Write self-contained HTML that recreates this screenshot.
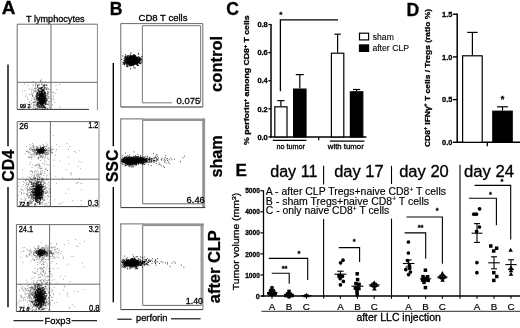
<!DOCTYPE html>
<html lang="en"><head><meta charset="utf-8"><title>Figure</title>
<style>
html,body{margin:0;padding:0;background:#fff;}
svg{display:block;font-family:"Liberation Sans", Arial, sans-serif;}
</style></head>
<body>
<svg width="520" height="328" viewBox="0 0 520 328">
<rect width="520" height="328" fill="#fff"/>
<text x="1.8" y="14.3" font-size="17.6" stroke="#000" stroke-width="0.3" font-weight="bold" textLength="13.7" lengthAdjust="spacingAndGlyphs" >A</text>
<text x="26" y="21.6" font-size="9.1" stroke="#000" stroke-width="0.3" textLength="58.6" lengthAdjust="spacingAndGlyphs" >T lymphocytes</text>
<line x1="17.2" y1="24.2" x2="97.4" y2="24.2" stroke="#6a6a6a" stroke-width="1.0" />
<line x1="17.2" y1="24.2" x2="17.2" y2="109.6" stroke="#6a6a6a" stroke-width="1.0" />
<line x1="97.4" y1="24.2" x2="97.4" y2="110.4" stroke="#6a6a6a" stroke-width="0.8" />
<line x1="17.2" y1="109.4" x2="89" y2="109.4" stroke="#333" stroke-width="1.0" />
<line x1="51" y1="24.2" x2="51" y2="109.6" stroke="#6a6a6a" stroke-width="1.0" />
<line x1="17.2" y1="82.3" x2="97.4" y2="82.3" stroke="#6a6a6a" stroke-width="1.0" />
<path d="M40.7 101.3h0.9M40.8 97.0h0.9M39.2 97.5h0.9M43.9 100.8h0.9M43.7 99.9h0.9M42.2 99.6h0.9M37.5 103.0h0.9M42.5 101.2h0.9M37.4 89.5h0.9M39.3 96.2h0.9M42.0 98.4h0.9M42.5 95.3h0.9M42.0 100.6h0.9M39.8 107.5h0.9M42.6 104.8h0.9M39.9 94.8h0.9M40.5 98.0h0.9M42.8 99.9h0.9M40.3 93.6h0.9M40.1 104.9h0.9M39.4 99.9h0.9M42.3 90.9h0.9M41.4 105.4h0.9M36.7 96.9h0.9M41.1 94.4h0.9M42.4 98.3h0.9M37.9 102.9h0.9M42.8 103.5h0.9M44.6 100.5h0.9M41.6 91.8h0.9M42.7 95.4h0.9M40.3 92.0h0.9M39.1 95.8h0.9M44.3 88.0h0.9M37.9 99.8h0.9M44.6 101.6h0.9M36.9 85.5h0.9M42.1 94.8h0.9M38.7 103.7h0.9M43.8 99.4h0.9M41.9 100.9h0.9M45.0 101.8h0.9M42.5 101.4h0.9M37.7 105.3h0.9M43.5 101.4h0.9M36.8 95.3h0.9M43.2 89.2h0.9M40.9 103.9h0.9M38.3 107.0h0.9M42.6 97.8h0.9M42.0 102.0h0.9M41.6 104.6h0.9M39.8 96.4h0.9M43.7 98.7h0.9M39.3 103.5h0.9M44.7 96.3h0.9M38.1 97.9h0.9M41.0 97.1h0.9M44.5 93.3h0.9M44.2 92.0h0.9M39.5 101.9h0.9M43.9 103.1h0.9M42.1 99.3h0.9M41.7 101.6h0.9M40.9 100.0h0.9M42.6 98.6h0.9M43.1 101.5h0.9M45.9 100.3h0.9M40.3 96.7h0.9M41.3 103.4h0.9M40.5 100.6h0.9M45.5 85.3h0.9M38.7 99.9h0.9M42.2 99.8h0.9M40.3 102.0h0.9M41.9 95.9h0.9M46.9 100.4h0.9M40.0 98.1h0.9M40.8 98.3h0.9M35.0 96.1h0.9M43.6 92.5h0.9M41.1 103.6h0.9M43.3 106.4h0.9M37.4 96.8h0.9M40.5 101.8h0.9M43.8 84.6h0.9M43.8 91.1h0.9M42.9 90.8h0.9M41.7 104.8h0.9M41.0 99.6h0.9M43.1 99.3h0.9M41.1 106.6h0.9M43.7 97.1h0.9M47.6 92.6h0.9M43.4 97.2h0.9M41.6 102.3h0.9M41.8 101.9h0.9M37.8 90.8h0.9M42.7 93.6h0.9M38.9 91.0h0.9M44.2 102.5h0.9M44.7 93.7h0.9M41.3 92.7h0.9M43.1 106.9h0.9M39.3 106.7h0.9M43.6 97.7h0.9M36.8 105.9h0.9M41.1 95.5h0.9M42.2 100.7h0.9M44.7 93.3h0.9M43.9 106.3h0.9M44.6 97.7h0.9M39.6 103.9h0.9M41.6 99.2h0.9M44.6 97.2h0.9M36.0 96.6h0.9M37.0 102.9h0.9M42.0 95.4h0.9M41.3 102.9h0.9M41.5 105.5h0.9M41.2 104.0h0.9M44.7 107.0h0.9M39.8 103.2h0.9M37.0 93.0h0.9M36.8 104.2h0.9M38.5 98.5h0.9M40.9 98.5h0.9M39.9 99.8h0.9M45.4 98.8h0.9M42.5 103.8h0.9M40.8 92.0h0.9M40.0 104.2h0.9M37.5 95.5h0.9M43.6 102.7h0.9M41.3 102.8h0.9M41.7 92.5h0.9M37.7 95.3h0.9M43.4 95.7h0.9M39.2 94.6h0.9M37.8 98.0h0.9M38.6 100.5h0.9M35.9 100.3h0.9M39.8 88.5h0.9M43.0 97.2h0.9M36.2 94.0h0.9M42.0 96.2h0.9M43.1 102.5h0.9M42.8 100.3h0.9M44.4 102.0h0.9M42.3 87.8h0.9M43.4 105.4h0.9M40.6 96.2h0.9M45.8 89.5h0.9M39.2 102.2h0.9M45.6 98.0h0.9M42.6 103.3h0.9M39.2 98.1h0.9M42.0 102.9h0.9M41.2 97.6h0.9M39.0 96.7h0.9M43.4 99.1h0.9M39.3 94.2h0.9M47.4 104.5h0.9M42.8 85.1h0.9M42.7 101.1h0.9M45.2 100.8h0.9M41.1 101.3h0.9M36.8 104.0h0.9M42.0 94.9h0.9M44.3 108.0h0.9M38.1 95.1h0.9M42.0 99.6h0.9M40.4 93.5h0.9M46.2 104.0h0.9M38.6 91.6h0.9M45.2 103.7h0.9M45.5 102.8h0.9M39.3 100.0h0.9M36.3 94.7h0.9M41.2 101.3h0.9M39.6 98.0h0.9M42.4 100.6h0.9M42.8 99.7h0.9M40.6 102.7h0.9M41.4 94.3h0.9M39.9 98.6h0.9M41.0 99.4h0.9M41.3 99.5h0.9M41.0 92.1h0.9M42.3 104.1h0.9M42.3 97.6h0.9M42.3 93.6h0.9M36.9 98.9h0.9M39.2 102.4h0.9M38.8 84.9h0.9M38.9 106.8h0.9M40.4 91.5h0.9M39.5 101.3h0.9M42.4 99.5h0.9M44.7 102.3h0.9M41.3 101.7h0.9M45.1 103.7h0.9M43.7 93.0h0.9M41.0 102.4h0.9M40.6 104.2h0.9M42.7 103.3h0.9M44.2 97.5h0.9M40.5 103.1h0.9M43.6 98.6h0.9M38.6 99.6h0.9M42.1 104.5h0.9M43.1 98.7h0.9M43.3 101.4h0.9M41.8 98.9h0.9M40.7 102.2h0.9M38.9 95.3h0.9M41.3 91.0h0.9M40.3 88.2h0.9M39.7 101.6h0.9M42.6 98.3h0.9M40.8 91.2h0.9M45.5 101.3h0.9M43.8 94.0h0.9M40.9 89.1h0.9M43.1 103.5h0.9M36.9 98.3h0.9M42.7 89.4h0.9M37.1 93.1h0.9M39.9 91.3h0.9M41.4 99.9h0.9M42.8 102.3h0.9M44.8 104.7h0.9M38.3 96.0h0.9M38.9 93.0h0.9M41.1 98.6h0.9M42.4 90.3h0.9M38.5 98.5h0.9M40.8 97.0h0.9M41.2 94.6h0.9M42.9 100.4h0.9M41.1 95.1h0.9M40.9 84.4h0.9M39.0 98.8h0.9M37.8 99.6h0.9M41.6 91.4h0.9M40.7 97.0h0.9M42.4 101.8h0.9M41.2 94.2h0.9M41.0 98.3h0.9M43.0 100.1h0.9M39.6 91.6h0.9M40.4 94.7h0.9M38.7 98.0h0.9M40.2 99.1h0.9M42.5 96.5h0.9M46.6 96.9h0.9M43.8 99.2h0.9M43.9 86.2h0.9M39.6 99.9h0.9M42.0 105.3h0.9M43.1 103.5h0.9M42.5 97.8h0.9M42.5 93.0h0.9M44.0 93.3h0.9M40.8 98.7h0.9M44.0 98.7h0.9M39.4 99.9h0.9M42.6 102.3h0.9M39.5 107.7h0.9M45.1 98.7h0.9M41.9 96.4h0.9M44.6 94.9h0.9M42.9 96.1h0.9M39.7 102.3h0.9M44.4 98.5h0.9M39.7 102.8h0.9M41.2 100.2h0.9M44.8 104.5h0.9M41.3 102.7h0.9M39.8 98.4h0.9M37.3 107.9h0.9M44.4 92.3h0.9M37.8 90.2h0.9M44.0 96.2h0.9M41.2 97.0h0.9M41.0 92.9h0.9M41.4 91.1h0.9M41.1 100.2h0.9M42.4 97.4h0.9M39.2 99.4h0.9M40.2 106.7h0.9M43.1 98.0h0.9M40.2 94.9h0.9M39.1 96.8h0.9M42.0 101.3h0.9M42.6 109.5h0.9M39.7 98.7h0.9M47.7 88.9h0.9M40.1 99.5h0.9M41.7 100.7h0.9M40.8 100.5h0.9M41.4 102.6h0.9M36.9 94.0h0.9M41.3 93.2h0.9M38.9 101.9h0.9M39.8 101.9h0.9M43.0 100.2h0.9M42.5 98.1h0.9M38.1 98.4h0.9M42.3 95.8h0.9M41.1 102.5h0.9M39.3 101.9h0.9M45.6 95.7h0.9M41.6 97.8h0.9M44.8 100.2h0.9M43.4 95.0h0.9M41.3 98.5h0.9M37.2 106.1h0.9M43.4 89.5h0.9M43.0 97.9h0.9M42.3 100.5h0.9M37.9 97.5h0.9M44.7 95.6h0.9M38.9 91.5h0.9M38.5 100.3h0.9M45.2 100.8h0.9M40.1 95.1h0.9M42.5 101.5h0.9M39.0 92.5h0.9M42.0 99.9h0.9M38.3 97.5h0.9M40.1 101.0h0.9M41.0 98.2h0.9M40.5 104.1h0.9M44.5 96.7h0.9M43.2 94.7h0.9M41.5 102.5h0.9M44.8 96.6h0.9M41.1 99.6h0.9M37.9 98.7h0.9M39.7 100.5h0.9M38.7 88.3h0.9M41.4 100.0h0.9M40.0 103.2h0.9M40.7 95.5h0.9M42.4 90.4h0.9M39.7 98.5h0.9M43.3 97.8h0.9M42.0 95.2h0.9M42.0 107.3h0.9M39.8 98.7h0.9M41.7 103.9h0.9M38.5 87.7h0.9M42.7 102.7h0.9M41.8 99.9h0.9M43.4 100.5h0.9M45.1 92.2h0.9M40.4 80.7h0.9M43.2 96.7h0.9M41.3 97.3h0.9M40.2 94.2h0.9M39.9 101.9h0.9M41.4 98.9h0.9M40.9 103.4h0.9M42.4 97.9h0.9M42.8 97.8h0.9M38.6 106.2h0.9M42.4 93.6h0.9M43.8 100.4h0.9M37.7 107.0h0.9M42.1 103.2h0.9M41.8 97.8h0.9M37.7 103.7h0.9M41.4 97.1h0.9M42.1 99.0h0.9M42.9 96.7h0.9M41.2 87.5h0.9M40.3 102.1h0.9M44.4 96.7h0.9M41.0 106.8h0.9M40.6 102.4h0.9M45.2 98.8h0.9M44.1 94.9h0.9M41.8 98.2h0.9M41.6 104.5h0.9M46.8 95.1h0.9M40.0 101.2h0.9M38.9 101.2h0.9M42.6 97.2h0.9M42.5 90.5h0.9M43.0 90.6h0.9M39.7 95.7h0.9M40.4 103.1h0.9M41.5 96.5h0.9M42.6 106.8h0.9M41.3 100.5h0.9M44.2 100.0h0.9M46.4 88.3h0.9M41.2 100.8h0.9M43.5 102.1h0.9M40.7 93.1h0.9M41.5 104.0h0.9M38.8 93.3h0.9M41.2 88.5h0.9M40.7 96.3h0.9M42.3 95.0h0.9M39.3 96.6h0.9M41.2 95.1h0.9M41.3 102.5h0.9M44.0 107.5h0.9M39.5 96.4h0.9M35.6 108.5h0.9M39.6 98.4h0.9M42.5 91.5h0.9M42.4 98.5h0.9M37.1 100.1h0.9M44.0 88.9h0.9M43.2 99.7h0.9M42.4 100.9h0.9M44.3 97.4h0.9M43.3 96.5h0.9M43.0 94.4h0.9M41.1 107.6h0.9M42.3 97.8h0.9M38.7 94.5h0.9M41.7 103.5h0.9M42.3 101.3h0.9M41.2 105.6h0.9M40.4 95.7h0.9M43.3 98.9h0.9M40.7 95.6h0.9M40.7 101.8h0.9M42.1 92.3h0.9M42.3 99.5h0.9M39.0 102.6h0.9M40.7 96.9h0.9M43.1 105.5h0.9M39.7 100.9h0.9M40.2 104.8h0.9M39.8 102.8h0.9M46.4 85.4h0.9M40.3 101.2h0.9M41.1 95.1h0.9M46.2 99.0h0.9M37.5 103.0h0.9M37.3 104.6h0.9M40.0 99.4h0.9M44.2 99.2h0.9M38.1 89.8h0.9M44.0 102.5h0.9M39.4 103.1h0.9M42.4 102.0h0.9M36.1 97.0h0.9M43.4 102.4h0.9M43.3 85.8h0.9M41.7 101.2h0.9M47.2 93.6h0.9M40.5 98.8h0.9M43.3 96.3h0.9M43.9 94.5h0.9M41.9 95.9h0.9M41.7 95.0h0.9M37.6 104.3h0.9M42.0 95.7h0.9M41.8 103.7h0.9M39.1 98.0h0.9M42.5 101.3h0.9M40.5 87.6h0.9M44.2 100.3h0.9M41.3 97.2h0.9M41.9 96.4h0.9M38.9 94.8h0.9M39.9 95.4h0.9M38.6 101.9h0.9M38.3 102.0h0.9M39.0 100.4h0.9M44.5 99.7h0.9M39.6 98.9h0.9M41.6 89.6h0.9M39.9 99.4h0.9M40.2 99.0h0.9M43.0 102.6h0.9M43.4 101.7h0.9M40.6 98.5h0.9M40.7 97.0h0.9M40.9 89.6h0.9M40.5 98.5h0.9M39.1 98.5h0.9M42.5 97.7h0.9M46.1 85.0h0.9M40.8 89.1h0.9M35.5 99.3h0.9M42.5 97.0h0.9M42.6 86.9h0.9M43.3 100.5h0.9M41.4 95.5h0.9M42.8 96.1h0.9M41.8 95.9h0.9M36.1 98.4h0.9M41.8 102.5h0.9M39.3 98.4h0.9M42.7 99.4h0.9M44.2 109.0h0.9M39.2 88.6h0.9M43.3 106.6h0.9M43.4 102.8h0.9M39.9 94.9h0.9M43.3 93.9h0.9M37.1 93.4h0.9M47.0 108.6h0.9M39.7 94.8h0.9M41.8 94.7h0.9M44.3 98.2h0.9M38.8 105.4h0.9M40.0 99.8h0.9M41.3 97.0h0.9M42.0 95.0h0.9M37.1 87.1h0.9M38.4 94.7h0.9M41.2 98.9h0.9M42.6 99.2h0.9M39.5 94.9h0.9M36.4 97.7h0.9M42.4 101.4h0.9M41.0 97.7h0.9M43.5 98.7h0.9M43.0 101.6h0.9M41.8 105.4h0.9M40.0 96.7h0.9M39.4 94.5h0.9M44.9 107.7h0.9M41.4 101.6h0.9M44.0 102.8h0.9M44.1 92.0h0.9M39.8 101.0h0.9M44.6 99.1h0.9M39.3 96.8h0.9M39.8 94.1h0.9M44.8 95.3h0.9M44.0 100.3h0.9M39.9 100.7h0.9M45.0 101.8h0.9M44.2 99.1h0.9M42.5 97.6h0.9M42.3 105.4h0.9M38.0 98.3h0.9M41.9 95.6h0.9M40.6 102.7h0.9M45.9 101.9h0.9M42.1 90.5h0.9M45.7 99.0h0.9M41.2 92.8h0.9M41.2 92.9h0.9M41.5 101.0h0.9M41.4 100.1h0.9M39.3 106.0h0.9M39.8 89.1h0.9M40.9 94.6h0.9M39.0 96.8h0.9M42.0 92.5h0.9" stroke="#000" stroke-width="0.9" stroke-opacity="0.85" fill="none"/>
<path d="M39.3 107.7h0.9M43.3 97.0h0.9M40.6 97.2h0.9M39.8 103.0h0.9M39.6 81.6h0.9M39.9 92.0h0.9M43.1 93.8h0.9M35.0 90.4h0.9M33.2 81.7h0.9M31.0 100.5h0.9M36.9 85.3h0.9M32.9 102.2h0.9M36.3 95.5h0.9M41.6 107.2h0.9M49.3 105.0h0.9M40.7 99.3h0.9M48.7 107.7h0.9M38.5 101.1h0.9M41.4 98.4h0.9M37.6 89.0h0.9M37.4 87.5h0.9M45.9 101.6h0.9M34.2 107.5h0.9M44.3 85.0h0.9M48.8 103.5h0.9M49.9 89.6h0.9M42.5 100.9h0.9M41.0 99.2h0.9M45.1 87.8h0.9M34.0 88.5h0.9M37.3 93.9h0.9M41.8 99.8h0.9M40.2 93.4h0.9M37.9 104.5h0.9M43.7 98.7h0.9M38.5 108.6h0.9M37.1 102.4h0.9M45.5 96.2h0.9M44.0 90.4h0.9M44.9 99.4h0.9M32.4 102.6h0.9M35.7 106.7h0.9M36.7 96.9h0.9M41.4 95.7h0.9M41.2 94.2h0.9M43.2 98.0h0.9M41.0 79.3h0.9M45.6 98.2h0.9M31.4 98.6h0.9M42.2 105.3h0.9M34.8 108.5h0.9M39.3 102.6h0.9M38.2 90.4h0.9M45.3 104.2h0.9M47.4 103.8h0.9M37.2 86.7h0.9M36.9 93.4h0.9M36.1 102.0h0.9M41.6 96.2h0.9M40.8 97.0h0.9M41.0 103.1h0.9M44.6 93.3h0.9M32.8 107.7h0.9M40.5 105.5h0.9M32.1 95.8h0.9M40.1 88.2h0.9M37.5 102.9h0.9M45.2 108.8h0.9M35.9 88.5h0.9M42.5 104.4h0.9M40.9 89.2h0.9M43.8 103.4h0.9M42.7 94.7h0.9M41.5 103.4h0.9M37.3 85.5h0.9M41.6 101.3h0.9M40.1 104.0h0.9M37.2 97.4h0.9M38.5 101.9h0.9M47.7 96.3h0.9M49.9 108.4h0.9M43.8 102.0h0.9M48.5 96.8h0.9M39.5 90.8h0.9M42.3 107.1h0.9M42.6 100.9h0.9M39.0 99.2h0.9M33.2 105.1h0.9M38.0 90.5h0.9M36.4 92.4h0.9M44.1 105.2h0.9M33.5 104.3h0.9M44.3 94.1h0.9M32.9 92.9h0.9M37.0 100.3h0.9M38.3 84.2h0.9M41.1 87.6h0.9M44.3 89.8h0.9M36.7 92.2h0.9M37.4 106.8h0.9M44.1 102.1h0.9M41.5 87.5h0.9M37.5 94.2h0.9M35.3 101.5h0.9M36.4 93.2h0.9M35.0 84.0h0.9M42.9 107.0h0.9M40.8 91.4h0.9M27.0 99.2h0.9M45.8 100.0h0.9M44.5 108.1h0.9M45.4 95.0h0.9M45.1 103.3h0.9M32.6 95.2h0.9M33.2 97.3h0.9M42.8 90.7h0.9M30.1 106.8h0.9M41.8 108.0h0.9M33.6 105.2h0.9M39.0 99.8h0.9M39.3 104.8h0.9M45.0 98.6h0.9M33.5 103.0h0.9M37.7 102.3h0.9M41.3 109.0h0.9M45.5 94.9h0.9M37.4 100.9h0.9M45.7 106.5h0.9M42.5 89.0h0.9M33.9 99.7h0.9M35.9 105.7h0.9M43.7 86.6h0.9M36.1 99.1h0.9M37.6 96.9h0.9M42.3 92.5h0.9M42.2 93.7h0.9M37.4 101.7h0.9M37.2 100.0h0.9M47.7 98.2h0.9M39.3 103.0h0.9M38.2 105.4h0.9M33.8 102.2h0.9M37.5 92.6h0.9M48.5 92.2h0.9M48.4 102.5h0.9M47.0 91.4h0.9M45.8 107.9h0.9M39.4 97.1h0.9M51.8 99.2h0.9M38.0 93.7h0.9M42.1 100.2h0.9M38.4 101.2h0.9M47.0 91.2h0.9M33.5 90.5h0.9M35.0 85.4h0.9M42.2 85.4h0.9M42.4 107.9h0.9M32.2 95.8h0.9M30.8 103.3h0.9M36.5 96.2h0.9M40.3 101.7h0.9M38.3 98.1h0.9M37.4 98.8h0.9M34.4 98.4h0.9M30.7 94.7h0.9M49.2 98.5h0.9M34.0 99.7h0.9M35.3 86.8h0.9M36.5 103.0h0.9M41.8 97.3h0.9M35.6 90.7h0.9M46.5 99.7h0.9M35.4 83.6h0.9M34.5 97.5h0.9M41.0 96.9h0.9M38.7 88.7h0.9M35.0 109.5h0.9M36.4 103.7h0.9M31.9 96.1h0.9M41.3 105.0h0.9M34.6 102.0h0.9M41.9 93.0h0.9M42.3 91.9h0.9M36.2 97.9h0.9M27.0 97.3h0.9M35.2 88.1h0.9M38.0 103.2h0.9M38.1 106.6h0.9M34.4 89.1h0.9M47.4 100.7h0.9M44.5 92.4h0.9M43.9 99.8h0.9M43.1 98.2h0.9M45.8 93.6h0.9M35.4 88.0h0.9M45.6 93.0h0.9M35.0 91.6h0.9M37.9 89.4h0.9M38.6 93.7h0.9M37.4 91.5h0.9M40.2 94.9h0.9M40.6 99.7h0.9M41.6 83.1h0.9M37.4 92.6h0.9M43.7 87.3h0.9M36.6 96.0h0.9M38.4 104.7h0.9M37.9 104.6h0.9M33.0 85.7h0.9M45.9 101.0h0.9M42.3 98.8h0.9M42.3 89.7h0.9M44.6 94.4h0.9M44.7 98.6h0.9M30.5 89.2h0.9M45.4 97.1h0.9M38.1 99.6h0.9M38.0 94.3h0.9M40.5 99.0h0.9M47.3 98.3h0.9M48.2 105.2h0.9M40.6 98.9h0.9M39.3 93.0h0.9M39.7 93.6h0.9M47.9 101.6h0.9M37.9 85.0h0.9M39.7 95.2h0.9M34.8 90.3h0.9M29.2 101.9h0.9M39.9 97.0h0.9M46.9 98.9h0.9M40.8 95.5h0.9M37.1 108.2h0.9M38.3 98.2h0.9M35.8 104.6h0.9M33.3 101.8h0.9M45.3 107.6h0.9M35.5 105.4h0.9M36.6 92.9h0.9M33.6 105.9h0.9M47.9 94.0h0.9M36.4 95.7h0.9M52.0 104.8h0.9M37.4 85.8h0.9M36.8 106.1h0.9M49.0 96.2h0.9M36.7 94.5h0.9M30.9 104.2h0.9M34.8 105.2h0.9M31.8 89.4h0.9M41.4 92.8h0.9M43.8 98.1h0.9M34.4 102.2h0.9M44.0 85.0h0.9M48.8 101.4h0.9M43.6 85.4h0.9M36.5 95.6h0.9M45.2 88.1h0.9M35.8 84.2h0.9M38.8 100.4h0.9M31.9 94.0h0.9M42.4 108.8h0.9M43.2 95.9h0.9M34.3 91.6h0.9M36.8 99.0h0.9M39.8 109.3h0.9M41.4 90.7h0.9M47.4 104.5h0.9M40.5 93.1h0.9M31.0 91.0h0.9M44.4 92.5h0.9M33.7 99.3h0.9M41.2 102.1h0.9M43.1 107.6h0.9M36.0 104.7h0.9M35.3 102.7h0.9M40.9 99.7h0.9M44.6 97.9h0.9M45.3 104.0h0.9M40.7 94.1h0.9M36.4 94.4h0.9M39.0 97.8h0.9M54.3 102.3h0.9M43.7 92.1h0.9M36.6 95.8h0.9M40.9 91.0h0.9M47.7 94.2h0.9M45.2 82.1h0.9M40.0 99.9h0.9M40.9 102.1h0.9M41.3 99.1h0.9M30.9 93.1h0.9M28.8 102.3h0.9M41.5 96.7h0.9M36.1 94.0h0.9M39.7 106.8h0.9M32.4 84.8h0.9M37.7 92.1h0.9M37.3 99.3h0.9M54.5 93.5h0.9M40.2 99.9h0.9M39.8 104.3h0.9M48.5 89.5h0.9M40.8 96.2h0.9M41.7 87.6h0.9M31.6 82.2h0.9M42.5 99.3h0.9M40.4 81.9h0.9M38.2 92.9h0.9M33.2 91.8h0.9M43.3 101.7h0.9M39.9 101.5h0.9M37.1 98.5h0.9M40.2 101.8h0.9M39.7 97.0h0.9M39.4 93.6h0.9M50.7 101.5h0.9M46.7 87.4h0.9M43.3 103.7h0.9M49.0 106.9h0.9M53.4 99.7h0.9M37.0 92.5h0.9M52.6 95.9h0.9M44.4 87.6h0.9M27.3 85.4h0.9M48.0 97.8h0.9M24.1 105.8h0.9M29.2 94.3h0.9M24.5 90.8h0.9M53.3 92.4h0.9M25.0 96.3h0.9M31.4 106.6h0.9M22.8 108.5h0.9M20.4 106.4h0.9M46.1 89.3h0.9M38.1 91.2h0.9M28.8 89.0h0.9M33.3 108.8h0.9M59.9 107.1h0.9M22.1 91.2h0.9M55.6 85.4h0.9M48.5 91.3h0.9M59.1 84.4h0.9M51.9 92.5h0.9M23.9 84.0h0.9M53.0 97.2h0.9M25.8 94.9h0.9M56.3 89.5h0.9M42.0 87.5h0.9M25.6 103.3h0.9" stroke="#000" stroke-width="0.9" stroke-opacity="0.45" fill="none"/>
<text x="20" y="107.7" font-size="5.4" stroke="#000" stroke-width="0.3" >99 2</text>
<line x1="17.2" y1="121.6" x2="99" y2="121.6" stroke="#6a6a6a" stroke-width="1.0" />
<line x1="17.2" y1="121.6" x2="17.2" y2="206.6" stroke="#6a6a6a" stroke-width="1.0" />
<line x1="99" y1="121.6" x2="99" y2="207.6" stroke="#6a6a6a" stroke-width="0.8" />
<line x1="17.2" y1="206.6" x2="88" y2="206.6" stroke="#333" stroke-width="1.0" />
<line x1="88" y1="206.6" x2="99" y2="206.6" stroke="#999" stroke-width="0.8" />
<line x1="50.4" y1="121.6" x2="50.4" y2="206.6" stroke="#6a6a6a" stroke-width="1.0" />
<line x1="17.2" y1="179.2" x2="99" y2="179.2" stroke="#6a6a6a" stroke-width="1.0" />
<path d="M40.2 149.8h0.9M41.5 151.1h0.9M38.4 149.7h0.9M40.4 151.8h0.9M37.7 149.3h0.9M41.8 149.0h0.9M40.9 151.3h0.9M40.3 149.3h0.9M40.5 150.3h0.9M41.4 149.5h0.9M43.2 148.3h0.9M40.2 150.8h0.9M42.9 149.9h0.9M41.9 149.9h0.9M42.4 153.4h0.9M39.6 151.5h0.9M38.4 152.3h0.9M43.5 150.9h0.9M37.9 151.4h0.9M43.4 152.4h0.9M42.6 148.1h0.9M39.0 152.9h0.9M37.7 152.5h0.9M45.1 151.9h0.9M43.3 150.3h0.9M37.7 150.6h0.9M40.1 150.7h0.9M42.3 150.6h0.9M41.1 151.4h0.9M40.6 153.6h0.9M41.7 150.9h0.9M40.1 149.9h0.9M43.8 151.0h0.9M38.0 150.0h0.9M40.3 150.1h0.9M43.2 149.1h0.9M41.8 151.0h0.9M37.8 150.9h0.9M40.4 151.6h0.9M39.5 151.3h0.9M36.6 149.2h0.9M42.5 152.4h0.9M40.6 149.9h0.9M43.2 147.7h0.9M38.7 151.8h0.9M42.2 149.3h0.9M36.1 153.0h0.9M41.0 149.5h0.9M40.7 152.2h0.9M34.4 152.5h0.9M42.4 147.7h0.9M42.5 148.1h0.9M43.3 151.4h0.9M46.0 149.9h0.9M40.6 152.4h0.9M39.1 149.7h0.9M39.7 150.7h0.9M38.0 151.5h0.9M41.9 150.9h0.9M44.7 150.3h0.9M43.7 150.0h0.9M42.4 147.9h0.9M41.1 150.5h0.9M39.4 149.9h0.9M39.8 149.7h0.9M35.3 149.9h0.9M39.3 150.0h0.9M38.1 150.6h0.9M42.5 150.4h0.9M39.4 152.8h0.9M42.9 152.2h0.9M43.4 150.3h0.9M40.3 152.5h0.9M39.3 150.6h0.9M41.5 151.4h0.9M39.9 152.3h0.9M40.2 151.9h0.9M43.2 151.8h0.9M42.4 149.1h0.9M37.5 149.9h0.9M41.7 153.1h0.9M37.7 151.3h0.9M38.6 149.7h0.9M39.9 151.8h0.9M41.1 152.6h0.9M38.2 152.1h0.9M42.8 150.9h0.9M41.7 150.0h0.9M38.0 150.2h0.9M39.1 155.1h0.9M39.4 153.3h0.9M41.1 151.3h0.9M42.4 149.6h0.9M42.8 151.4h0.9M37.0 151.7h0.9M41.9 151.5h0.9M44.4 150.2h0.9M41.8 151.9h0.9M38.4 152.6h0.9M37.1 148.8h0.9M41.9 149.2h0.9M40.3 148.3h0.9M40.8 149.1h0.9M41.4 148.5h0.9M41.7 150.4h0.9M40.8 150.7h0.9M40.9 148.8h0.9M34.4 150.9h0.9M38.4 150.1h0.9M41.6 147.8h0.9M38.8 149.9h0.9M38.1 151.3h0.9M40.3 149.6h0.9M38.2 152.0h0.9M39.0 151.7h0.9M41.7 148.0h0.9M38.0 150.8h0.9M41.4 152.0h0.9M42.5 152.4h0.9M39.7 150.5h0.9M42.5 150.2h0.9M43.1 148.4h0.9M42.2 150.5h0.9M35.9 152.3h0.9M41.3 150.8h0.9M38.0 150.1h0.9M44.2 149.6h0.9M32.3 149.5h0.9M37.7 150.6h0.9M39.7 149.4h0.9M38.6 152.4h0.9M37.1 153.7h0.9M39.3 149.2h0.9M42.5 151.6h0.9M38.1 151.9h0.9M36.2 149.4h0.9M43.3 150.4h0.9M37.5 151.6h0.9M42.8 150.8h0.9M36.3 150.3h0.9M41.6 152.0h0.9M45.0 150.4h0.9M39.4 150.7h0.9M43.5 149.4h0.9M43.7 146.7h0.9M42.5 149.8h0.9M41.7 151.8h0.9M37.8 150.7h0.9M41.2 151.7h0.9M38.4 149.3h0.9M36.0 154.6h0.9M40.1 150.5h0.9M37.0 152.2h0.9M39.3 153.0h0.9M42.6 150.8h0.9M42.3 149.1h0.9M39.8 149.9h0.9M37.6 150.8h0.9M40.3 153.0h0.9M32.6 149.8h0.9M38.4 150.1h0.9M41.6 151.4h0.9M40.7 150.1h0.9M41.8 151.3h0.9M36.2 150.4h0.9M37.3 149.0h0.9M41.0 150.9h0.9M40.9 149.5h0.9M40.1 149.4h0.9M41.5 151.8h0.9M42.4 197.8h0.9M35.7 189.2h0.9M35.4 193.0h0.9M42.9 195.0h0.9M32.1 185.2h0.9M34.4 194.1h0.9M37.8 193.0h0.9M42.4 187.4h0.9M35.6 201.3h0.9M38.7 187.6h0.9M32.5 183.9h0.9M31.4 191.8h0.9M37.9 196.5h0.9M37.4 188.0h0.9M35.9 201.0h0.9M33.2 192.4h0.9M37.9 194.6h0.9M36.7 194.0h0.9M39.9 190.8h0.9M36.6 190.6h0.9M35.3 190.5h0.9M37.0 192.6h0.9M41.3 198.0h0.9M36.6 194.5h0.9M38.6 195.3h0.9M37.9 192.8h0.9M36.6 187.6h0.9M40.1 198.0h0.9M39.5 193.7h0.9M38.5 189.2h0.9M33.2 194.8h0.9M38.3 188.7h0.9M35.3 197.9h0.9M33.1 200.3h0.9M39.5 203.4h0.9M35.9 191.4h0.9M36.5 192.3h0.9M37.3 187.8h0.9M40.6 187.6h0.9M36.5 194.3h0.9M36.4 189.3h0.9M38.7 189.7h0.9M34.6 191.0h0.9M37.2 200.0h0.9M34.9 196.3h0.9M35.8 189.7h0.9M37.0 192.9h0.9M40.0 200.2h0.9M36.1 198.1h0.9M40.4 195.6h0.9M35.8 196.0h0.9M37.5 193.3h0.9M37.1 194.8h0.9M40.7 197.2h0.9M37.3 196.5h0.9M41.6 186.8h0.9M41.6 184.8h0.9M39.2 194.5h0.9M41.7 192.9h0.9M36.6 187.5h0.9M34.5 195.3h0.9M37.2 187.9h0.9M39.2 187.7h0.9M36.7 189.2h0.9M42.1 198.8h0.9M37.4 183.6h0.9M38.5 191.9h0.9M38.7 194.3h0.9M37.0 196.1h0.9M40.0 192.6h0.9M36.7 189.1h0.9M39.6 186.0h0.9M37.4 187.8h0.9M34.2 194.5h0.9M37.7 191.7h0.9M40.1 184.0h0.9M37.6 192.9h0.9M40.0 186.1h0.9M39.7 192.6h0.9M41.3 197.2h0.9M39.2 202.2h0.9M37.8 189.4h0.9M36.9 186.8h0.9M37.7 182.1h0.9M37.6 193.6h0.9M40.4 189.8h0.9M41.4 188.2h0.9M37.5 182.1h0.9M35.8 187.5h0.9M41.6 194.1h0.9M35.0 194.1h0.9M39.0 190.4h0.9M37.9 190.0h0.9M36.4 182.8h0.9M37.6 197.8h0.9M41.4 190.1h0.9M35.9 190.5h0.9M40.1 193.2h0.9M36.3 193.3h0.9M37.3 194.0h0.9M36.8 184.3h0.9M37.9 195.2h0.9M35.0 191.0h0.9M40.0 189.7h0.9M36.2 201.4h0.9M39.9 196.5h0.9M35.4 199.5h0.9M33.6 189.0h0.9M39.7 198.0h0.9M35.4 188.3h0.9M38.3 182.1h0.9M39.4 194.2h0.9M36.7 194.1h0.9M39.8 193.0h0.9M39.1 198.9h0.9M36.6 192.3h0.9M36.5 196.5h0.9M36.8 193.8h0.9M38.1 191.8h0.9M42.1 191.1h0.9M41.4 195.5h0.9M41.1 190.7h0.9M40.1 195.2h0.9M36.3 192.8h0.9M37.5 191.3h0.9M41.1 188.0h0.9M33.6 183.1h0.9M36.7 188.4h0.9M37.8 194.2h0.9M42.2 193.0h0.9M39.0 188.0h0.9M39.3 198.1h0.9M41.2 182.1h0.9M40.0 199.1h0.9M39.9 184.3h0.9M37.0 194.3h0.9M38.8 187.6h0.9M35.6 196.2h0.9M34.5 198.4h0.9M37.9 192.9h0.9M34.5 188.6h0.9M39.5 184.4h0.9M43.0 184.7h0.9M34.7 191.7h0.9M39.0 195.0h0.9M36.9 190.5h0.9M37.2 188.7h0.9M31.4 196.1h0.9M38.4 192.3h0.9M36.2 192.7h0.9M37.8 191.1h0.9M40.6 183.2h0.9M38.4 186.4h0.9M37.0 198.7h0.9M35.1 191.0h0.9M36.3 196.1h0.9M35.4 183.4h0.9M39.1 189.8h0.9M37.0 196.7h0.9M35.6 189.7h0.9M38.2 193.5h0.9M36.5 196.5h0.9M43.4 189.5h0.9M42.5 181.4h0.9M41.3 189.8h0.9M38.1 189.9h0.9M36.2 185.4h0.9M36.8 197.7h0.9M40.6 189.8h0.9M36.5 188.1h0.9M34.8 200.2h0.9M39.5 192.1h0.9M36.6 186.6h0.9M41.1 195.2h0.9M35.4 196.2h0.9M35.0 194.6h0.9M35.4 189.5h0.9M39.0 193.6h0.9M40.3 187.5h0.9M41.7 198.0h0.9M37.8 193.7h0.9M35.9 190.8h0.9M34.5 191.9h0.9M38.3 197.9h0.9M40.2 195.4h0.9M36.9 190.4h0.9M36.9 192.6h0.9M33.0 195.2h0.9M33.9 189.0h0.9M37.9 189.0h0.9M42.0 191.0h0.9M41.7 197.1h0.9M36.6 193.4h0.9M41.0 189.9h0.9M38.0 188.8h0.9M37.9 189.8h0.9M38.0 196.3h0.9M41.3 192.1h0.9M38.3 195.6h0.9M37.1 186.4h0.9M40.6 187.0h0.9M40.1 186.9h0.9M42.4 186.5h0.9M39.9 198.7h0.9M35.4 198.6h0.9M35.7 183.0h0.9M39.6 194.9h0.9M37.3 179.4h0.9M37.7 190.0h0.9M36.9 190.1h0.9M33.3 188.8h0.9M42.3 198.9h0.9M36.9 188.1h0.9M38.8 196.6h0.9M39.6 185.9h0.9M38.2 192.2h0.9M41.4 197.2h0.9M39.1 197.3h0.9M36.8 198.9h0.9M36.7 193.4h0.9M40.1 187.1h0.9M36.0 183.1h0.9M38.2 191.2h0.9M37.0 193.9h0.9M32.5 191.4h0.9M38.0 190.2h0.9M39.8 199.9h0.9M36.7 187.0h0.9M36.3 191.9h0.9M39.3 187.4h0.9M40.3 186.6h0.9M39.9 193.6h0.9M39.0 201.9h0.9M37.1 190.7h0.9M39.0 195.6h0.9M34.5 192.8h0.9M35.9 194.5h0.9M41.2 191.7h0.9M37.5 192.4h0.9M30.4 195.2h0.9M39.2 192.3h0.9M36.8 188.0h0.9M37.4 197.3h0.9M37.5 198.0h0.9M31.4 189.3h0.9M38.5 191.4h0.9M33.7 188.3h0.9M40.9 185.3h0.9M35.3 186.2h0.9M36.4 194.6h0.9M39.3 181.8h0.9M41.4 188.7h0.9M36.3 199.5h0.9M37.6 185.5h0.9M36.2 188.0h0.9M35.3 189.9h0.9M40.0 193.2h0.9M34.4 204.9h0.9M35.3 192.1h0.9M37.9 195.2h0.9M37.0 193.7h0.9M43.1 192.0h0.9M35.1 193.1h0.9M35.8 189.7h0.9M38.3 193.1h0.9M37.1 195.6h0.9M37.3 185.2h0.9M40.0 189.8h0.9M40.8 188.4h0.9M39.2 193.0h0.9M31.1 184.3h0.9M35.0 198.3h0.9M33.1 195.9h0.9M40.5 193.9h0.9M39.5 189.1h0.9M37.8 192.6h0.9M38.9 194.9h0.9M37.3 188.1h0.9M36.4 193.5h0.9M33.7 185.5h0.9M36.8 188.8h0.9M37.1 178.7h0.9M36.9 190.3h0.9M39.7 182.0h0.9M37.0 193.8h0.9M39.0 197.2h0.9M40.4 186.5h0.9M39.4 189.9h0.9M35.8 198.9h0.9M36.2 187.4h0.9M36.8 187.4h0.9M40.3 193.3h0.9M41.3 193.5h0.9M36.3 196.5h0.9M36.2 189.3h0.9M37.4 191.7h0.9M40.8 188.6h0.9M38.7 191.4h0.9M34.7 186.2h0.9M37.3 193.4h0.9M38.6 193.8h0.9M37.9 189.3h0.9M38.9 186.7h0.9M34.4 189.9h0.9M34.2 189.0h0.9M35.9 188.8h0.9M37.7 187.6h0.9M36.7 183.3h0.9M38.2 187.3h0.9M38.8 177.9h0.9M35.8 192.7h0.9M31.7 189.8h0.9M38.0 192.0h0.9M34.0 192.6h0.9M38.2 186.8h0.9M39.7 191.3h0.9M37.8 189.3h0.9M39.2 192.0h0.9M40.7 193.7h0.9M36.3 190.4h0.9M40.1 189.7h0.9M38.8 194.0h0.9M37.3 180.3h0.9M38.1 192.5h0.9M38.1 187.8h0.9M40.8 190.8h0.9M36.2 188.0h0.9M38.7 186.2h0.9M35.3 201.2h0.9M41.1 196.6h0.9M41.2 194.4h0.9M33.6 197.3h0.9M40.9 193.9h0.9M32.9 197.5h0.9M41.2 189.1h0.9M38.1 195.3h0.9M37.6 196.8h0.9M38.0 194.8h0.9M38.0 184.3h0.9M38.5 197.8h0.9M40.7 199.8h0.9M39.2 188.6h0.9M37.8 182.2h0.9M37.3 195.9h0.9M32.3 192.5h0.9M39.9 197.9h0.9M35.5 188.3h0.9M33.1 186.6h0.9M39.1 201.5h0.9M34.9 198.2h0.9M38.9 189.1h0.9M43.3 179.3h0.9M37.6 192.6h0.9M43.2 200.2h0.9M43.5 192.2h0.9M40.3 198.1h0.9M39.1 193.2h0.9M37.3 189.5h0.9M34.7 201.0h0.9M36.7 181.4h0.9M38.5 191.3h0.9M38.2 200.3h0.9M37.5 190.2h0.9M35.9 191.4h0.9M36.7 192.5h0.9M45.7 193.4h0.9M35.6 200.9h0.9M40.0 195.5h0.9M39.6 195.5h0.9M39.5 198.4h0.9M40.3 198.1h0.9M36.5 191.5h0.9M36.0 196.2h0.9M39.9 189.2h0.9M39.3 204.3h0.9M40.9 186.1h0.9M37.6 194.6h0.9M37.7 193.4h0.9M40.8 193.1h0.9M35.0 195.0h0.9M37.6 192.1h0.9M36.4 184.8h0.9M34.6 189.8h0.9M35.1 178.3h0.9M40.7 185.8h0.9M36.0 194.1h0.9M31.7 198.0h0.9M35.9 194.7h0.9M36.6 193.0h0.9M38.1 191.5h0.9M33.2 184.3h0.9M37.7 198.4h0.9M36.4 194.1h0.9M38.2 193.9h0.9M40.3 184.2h0.9M38.5 190.6h0.9M37.0 187.3h0.9M35.8 186.5h0.9M35.0 203.7h0.9M42.1 191.5h0.9M39.7 186.7h0.9M30.8 182.6h0.9M38.2 198.5h0.9M37.7 186.6h0.9M37.2 186.6h0.9M34.3 190.4h0.9M36.8 187.5h0.9M35.6 187.0h0.9M38.4 198.3h0.9M37.3 202.4h0.9M33.7 192.8h0.9M34.9 190.7h0.9M38.1 194.2h0.9M40.7 188.8h0.9M34.7 190.6h0.9M38.5 188.1h0.9M40.1 199.7h0.9M34.2 193.3h0.9M40.4 182.1h0.9M38.3 190.4h0.9M34.2 197.9h0.9M38.4 189.2h0.9M38.9 194.6h0.9M39.7 194.3h0.9M38.8 185.8h0.9M36.7 192.1h0.9M30.8 201.9h0.9M36.8 186.4h0.9M33.2 192.7h0.9M37.9 188.7h0.9M36.7 187.2h0.9M35.9 191.0h0.9M36.2 194.8h0.9M37.4 192.1h0.9M38.8 197.7h0.9M39.3 192.6h0.9M37.4 187.6h0.9M36.9 194.8h0.9M38.4 189.6h0.9M34.4 184.0h0.9M38.6 196.5h0.9M38.7 184.8h0.9M37.3 192.6h0.9M35.5 193.2h0.9M37.3 187.4h0.9M34.7 195.5h0.9M38.7 187.2h0.9M35.2 195.8h0.9M39.3 190.0h0.9M41.8 190.1h0.9M35.1 196.8h0.9M37.3 193.2h0.9M37.9 186.6h0.9M34.8 190.6h0.9M41.4 186.6h0.9M41.2 192.6h0.9M35.0 192.8h0.9M39.2 187.1h0.9M32.4 193.2h0.9M35.0 193.6h0.9M33.0 190.8h0.9M35.8 184.3h0.9M37.2 192.3h0.9M36.4 185.8h0.9M38.3 183.0h0.9M39.2 193.9h0.9M42.0 195.8h0.9M38.7 192.8h0.9M37.9 185.1h0.9M41.5 194.1h0.9M37.1 185.9h0.9M41.6 194.1h0.9M34.8 194.8h0.9M42.6 191.4h0.9M38.8 189.5h0.9M36.2 196.7h0.9M45.6 192.1h0.9M37.5 195.4h0.9M37.0 195.0h0.9M39.9 186.6h0.9M35.1 191.1h0.9M39.9 192.8h0.9M40.9 184.8h0.9M39.0 188.5h0.9M38.1 193.1h0.9M35.4 190.4h0.9M34.9 192.8h0.9M35.7 189.1h0.9M38.4 188.3h0.9M40.7 188.4h0.9M39.9 192.9h0.9M35.2 190.4h0.9M35.7 189.7h0.9M37.1 200.3h0.9M36.7 199.1h0.9M38.9 185.2h0.9M32.0 194.8h0.9M32.8 195.0h0.9M40.4 193.4h0.9M37.3 190.3h0.9M38.5 190.0h0.9M36.5 189.7h0.9M40.7 188.5h0.9M38.8 185.9h0.9M36.0 184.8h0.9M37.3 194.8h0.9M38.6 189.1h0.9M39.3 189.8h0.9M38.7 192.8h0.9M39.2 179.5h0.9M34.5 195.2h0.9M37.5 202.4h0.9M37.2 188.8h0.9M41.6 194.2h0.9M42.6 194.0h0.9M37.3 195.0h0.9M35.8 189.3h0.9M36.4 190.4h0.9M39.8 189.2h0.9M38.6 189.1h0.9" stroke="#000" stroke-width="0.9" stroke-opacity="0.85" fill="none"/>
<path d="M45.6 142.7h0.9M38.7 151.7h0.9M33.2 154.3h0.9M41.4 155.2h0.9M46.0 153.2h0.9M39.1 147.8h0.9M38.6 149.8h0.9M41.6 149.8h0.9M59.2 146.3h0.9M47.4 149.7h0.9M38.5 154.1h0.9M40.0 147.5h0.9M42.6 150.6h0.9M27.1 151.8h0.9M33.4 148.9h0.9M43.0 152.1h0.9M38.2 157.9h0.9M42.6 149.3h0.9M41.5 150.8h0.9M26.2 146.3h0.9M31.3 157.6h0.9M38.8 150.3h0.9M36.5 154.2h0.9M40.2 156.5h0.9M44.9 156.3h0.9M39.3 152.4h0.9M37.3 150.7h0.9M29.1 149.4h0.9M34.0 149.2h0.9M47.6 152.0h0.9M47.7 153.8h0.9M45.8 154.3h0.9M36.2 153.7h0.9M38.0 149.6h0.9M47.5 157.9h0.9M33.9 156.6h0.9M45.2 148.6h0.9M41.7 152.3h0.9M42.4 150.1h0.9M31.9 151.3h0.9M45.4 153.6h0.9M44.1 154.6h0.9M33.8 151.1h0.9M42.1 154.3h0.9M41.0 152.8h0.9M40.8 157.7h0.9M26.3 151.1h0.9M55.5 151.9h0.9M28.5 151.6h0.9M31.0 149.1h0.9M41.4 156.5h0.9M42.9 153.3h0.9M46.4 151.8h0.9M34.6 150.9h0.9M42.1 150.3h0.9M35.8 150.1h0.9M30.6 148.0h0.9M39.4 150.1h0.9M40.2 155.5h0.9M41.9 151.1h0.9M32.7 147.9h0.9M42.4 148.5h0.9M42.7 147.9h0.9M40.8 151.0h0.9M46.2 150.0h0.9M37.7 152.0h0.9M40.3 156.4h0.9M38.4 149.5h0.9M38.0 152.7h0.9M41.5 153.3h0.9M31.3 158.8h0.9M51.5 151.1h0.9M32.4 151.7h0.9M42.6 144.3h0.9M40.1 146.6h0.9M42.9 155.5h0.9M46.5 146.6h0.9M48.6 154.0h0.9M37.7 152.7h0.9M49.5 150.2h0.9M39.9 149.5h0.9M47.2 144.6h0.9M48.9 148.2h0.9M45.8 146.2h0.9M34.1 149.4h0.9M45.2 146.2h0.9M43.8 149.2h0.9M47.8 150.2h0.9M43.0 150.7h0.9M51.2 150.1h0.9M39.8 157.3h0.9M40.5 153.3h0.9M35.4 151.8h0.9M25.8 151.5h0.9M36.0 146.6h0.9M31.1 154.7h0.9M42.7 146.5h0.9M51.3 149.1h0.9M37.7 152.0h0.9M32.9 146.2h0.9M35.3 154.8h0.9M46.0 146.3h0.9M47.5 151.3h0.9M43.1 151.4h0.9M42.6 148.1h0.9M34.3 149.0h0.9M37.7 153.1h0.9M32.4 156.1h0.9M36.0 149.4h0.9M44.4 152.5h0.9M37.9 147.9h0.9M33.7 146.3h0.9M47.2 154.5h0.9M51.7 152.7h0.9M42.1 153.5h0.9M46.0 150.4h0.9M42.2 157.8h0.9M29.4 146.9h0.9M34.0 153.5h0.9M47.4 150.2h0.9M44.2 151.1h0.9M41.9 149.5h0.9M39.8 151.2h0.9M47.1 158.1h0.9M28.6 152.8h0.9M40.0 154.2h0.9M46.6 153.6h0.9M45.1 148.3h0.9M29.3 156.3h0.9M47.6 148.3h0.9M48.1 153.3h0.9M24.6 154.0h0.9M33.8 154.8h0.9M35.7 148.9h0.9M30.3 150.5h0.9M46.4 149.1h0.9M28.4 157.8h0.9M51.6 153.3h0.9M36.6 147.5h0.9M29.7 152.9h0.9M48.1 147.9h0.9M40.0 150.3h0.9M38.4 152.7h0.9M53.1 149.2h0.9M45.3 154.6h0.9M38.2 150.7h0.9M31.6 154.5h0.9M36.7 149.2h0.9M40.4 148.6h0.9M33.5 150.3h0.9M49.3 150.6h0.9M43.3 146.7h0.9M27.8 156.8h0.9M37.5 146.5h0.9M39.3 153.1h0.9M29.2 148.5h0.9M41.6 148.4h0.9M45.0 154.2h0.9M42.8 149.9h0.9M39.7 149.2h0.9M39.2 152.2h0.9M38.1 154.2h0.9M56.3 149.5h0.9M42.2 153.7h0.9M44.0 150.5h0.9M37.0 154.3h0.9M43.9 152.8h0.9M35.0 153.2h0.9M45.0 150.6h0.9M44.1 157.9h0.9M28.2 153.1h0.9M32.6 147.0h0.9M38.5 152.9h0.9M40.3 147.6h0.9M31.0 149.5h0.9M40.1 148.6h0.9M30.6 156.6h0.9M34.7 150.7h0.9M36.6 149.4h0.9M40.3 150.3h0.9M43.9 147.5h0.9M30.7 157.2h0.9M39.5 153.6h0.9M47.4 152.9h0.9M40.2 146.4h0.9M29.9 154.2h0.9M44.3 153.0h0.9M29.6 144.6h0.9M33.4 147.5h0.9M41.0 148.0h0.9M50.0 149.3h0.9M36.5 153.9h0.9M42.1 148.4h0.9M45.2 157.2h0.9M32.3 150.4h0.9M33.2 145.2h0.9M43.9 153.4h0.9M46.1 152.5h0.9M27.3 151.1h0.9M35.8 147.5h0.9M33.0 153.6h0.9M38.1 157.3h0.9M43.0 145.3h0.9M45.6 155.1h0.9M40.2 147.4h0.9M51.2 147.1h0.9M39.5 145.3h0.9M32.1 145.9h0.9M46.9 154.9h0.9M37.4 147.0h0.9M39.6 152.4h0.9M30.3 147.6h0.9M39.4 153.4h0.9M40.5 152.6h0.9M32.1 143.4h0.9M42.0 148.3h0.9M39.2 150.0h0.9M43.0 148.8h0.9M49.2 151.3h0.9M43.4 153.2h0.9M46.6 152.5h0.9M28.9 149.2h0.9M51.8 152.7h0.9M43.6 152.7h0.9M35.9 149.1h0.9M35.9 154.8h0.9M42.3 156.8h0.9M43.2 157.1h0.9M42.9 147.5h0.9M51.1 152.3h0.9M42.5 192.7h0.9M33.6 192.3h0.9M28.9 181.6h0.9M30.3 186.9h0.9M27.5 190.2h0.9M46.3 190.6h0.9M40.7 189.3h0.9M37.8 190.7h0.9M32.3 191.6h0.9M26.8 194.5h0.9M33.8 182.5h0.9M33.4 195.4h0.9M31.5 194.7h0.9M38.9 203.3h0.9M29.1 190.1h0.9M38.5 202.8h0.9M37.0 196.9h0.9M26.8 186.4h0.9M45.3 188.8h0.9M48.3 185.3h0.9M33.9 178.4h0.9M39.3 193.1h0.9M47.4 192.3h0.9M34.0 179.9h0.9M35.0 198.5h0.9M39.9 200.7h0.9M40.6 190.6h0.9M39.1 192.4h0.9M27.6 204.5h0.9M37.7 182.7h0.9M37.8 193.3h0.9M41.4 202.4h0.9M17.5 195.4h0.9M44.6 183.5h0.9M24.5 193.2h0.9M37.5 193.8h0.9M28.9 187.3h0.9M36.7 196.9h0.9M48.5 193.3h0.9M31.9 172.3h0.9M41.9 190.0h0.9M34.8 183.2h0.9M39.9 176.8h0.9M36.1 192.0h0.9M37.3 201.3h0.9M34.9 191.7h0.9M40.6 178.7h0.9M33.8 191.5h0.9M41.2 184.6h0.9M40.3 194.1h0.9M26.6 179.3h0.9M27.0 192.1h0.9M36.7 196.7h0.9M40.4 186.6h0.9M41.9 197.5h0.9M38.3 194.8h0.9M27.8 193.9h0.9M29.3 181.5h0.9M33.4 192.1h0.9M35.2 188.4h0.9M29.5 192.5h0.9M31.1 179.8h0.9M36.1 202.6h0.9M33.1 182.6h0.9M43.8 204.6h0.9M33.7 189.3h0.9M36.3 198.9h0.9M38.1 176.5h0.9M28.9 181.2h0.9M38.1 191.8h0.9M46.2 188.8h0.9M37.3 191.6h0.9M37.2 202.7h0.9M43.3 186.2h0.9M39.6 188.0h0.9M36.2 192.3h0.9M35.6 187.3h0.9M44.8 188.9h0.9M39.7 204.4h0.9M39.2 199.2h0.9M43.8 199.7h0.9M45.8 179.6h0.9M47.2 191.2h0.9M25.0 185.9h0.9M27.2 190.8h0.9M26.6 183.0h0.9M37.3 192.3h0.9M30.7 189.1h0.9M34.9 191.6h0.9M35.5 189.2h0.9M40.8 178.2h0.9M32.5 192.1h0.9M33.1 186.6h0.9M32.9 192.7h0.9M43.0 189.5h0.9M33.9 193.8h0.9M34.0 175.5h0.9M37.1 188.0h0.9M32.1 196.0h0.9M35.8 186.5h0.9M22.4 177.2h0.9M35.6 190.1h0.9M38.1 192.8h0.9M32.6 180.9h0.9M28.9 189.9h0.9M28.6 197.0h0.9M27.5 176.7h0.9M34.3 176.8h0.9M45.3 183.1h0.9M35.2 189.0h0.9M30.6 176.9h0.9M24.3 197.9h0.9M26.7 195.5h0.9M35.4 197.8h0.9M32.4 196.8h0.9M40.9 195.9h0.9M44.2 189.6h0.9M44.8 185.4h0.9M45.5 169.0h0.9M35.6 184.6h0.9M35.5 199.2h0.9M39.8 191.8h0.9M45.7 179.2h0.9M30.6 203.1h0.9M37.5 174.4h0.9M37.5 181.5h0.9M44.4 200.2h0.9M32.2 201.3h0.9M30.5 198.4h0.9M39.0 190.0h0.9M27.0 188.8h0.9M21.8 186.5h0.9M24.4 200.7h0.9M29.7 171.5h0.9M39.0 194.0h0.9M40.1 191.5h0.9M31.6 167.4h0.9M38.4 198.7h0.9M31.9 179.7h0.9M35.2 177.6h0.9M35.5 197.2h0.9M44.6 193.1h0.9M36.7 197.0h0.9M43.9 188.4h0.9M28.1 184.7h0.9M27.9 183.9h0.9M34.8 193.7h0.9M36.4 191.6h0.9M33.4 194.4h0.9M40.8 197.1h0.9M44.5 188.7h0.9M34.0 204.6h0.9M36.7 194.3h0.9M33.5 198.8h0.9M33.1 182.9h0.9M35.1 187.5h0.9M40.5 188.0h0.9M36.2 189.3h0.9M37.5 186.0h0.9M42.1 179.6h0.9M33.2 185.3h0.9M39.4 191.3h0.9M38.4 188.4h0.9M31.2 182.0h0.9M33.5 186.7h0.9M37.2 193.8h0.9M41.4 190.1h0.9M31.0 182.5h0.9M35.9 193.9h0.9M47.2 192.5h0.9M46.0 206.0h0.9M29.2 200.7h0.9M42.3 201.8h0.9M35.4 198.6h0.9M32.6 190.4h0.9M35.6 205.3h0.9M34.2 198.6h0.9M35.9 185.3h0.9M37.0 196.3h0.9M31.2 196.1h0.9M31.2 184.0h0.9M36.8 189.1h0.9M29.6 178.0h0.9M35.6 192.9h0.9M32.7 192.5h0.9M26.3 194.1h0.9M38.0 193.2h0.9M31.8 191.6h0.9M36.3 199.6h0.9M37.2 193.0h0.9M31.2 197.9h0.9M42.5 187.1h0.9M39.3 193.5h0.9M35.2 180.7h0.9M46.0 176.1h0.9M37.3 188.0h0.9M42.4 187.6h0.9M35.7 195.9h0.9M38.2 186.8h0.9M39.6 194.1h0.9M41.4 186.9h0.9M35.2 187.9h0.9M30.5 193.0h0.9M38.0 202.3h0.9M33.6 194.1h0.9M42.3 190.1h0.9M35.9 192.1h0.9M31.4 183.1h0.9M42.2 192.4h0.9M35.1 181.1h0.9M36.2 200.4h0.9M28.6 183.9h0.9M42.1 202.4h0.9M44.8 186.6h0.9M39.1 185.0h0.9M38.6 188.1h0.9M36.7 201.7h0.9M37.5 189.1h0.9M35.8 193.1h0.9M32.4 192.6h0.9M39.1 203.4h0.9M23.2 181.5h0.9M28.1 198.0h0.9M50.1 192.5h0.9M36.2 200.1h0.9M20.9 189.6h0.9M32.5 187.1h0.9M37.5 186.4h0.9M42.1 191.0h0.9M32.8 198.4h0.9M30.6 200.9h0.9M41.2 192.1h0.9M41.4 203.8h0.9M43.7 191.0h0.9M35.2 199.8h0.9M26.7 186.2h0.9M38.4 195.5h0.9M46.6 205.0h0.9M37.4 194.5h0.9M27.7 189.5h0.9M37.1 189.2h0.9M35.9 195.8h0.9M29.8 186.5h0.9M24.9 200.1h0.9M29.2 177.5h0.9M40.1 189.3h0.9M41.2 188.1h0.9M48.1 196.7h0.9M36.4 191.9h0.9M34.3 197.4h0.9M47.4 187.7h0.9M29.0 195.7h0.9M41.8 179.2h0.9M31.4 183.1h0.9M38.8 195.0h0.9M31.1 182.1h0.9M39.5 174.8h0.9M39.3 189.8h0.9M46.9 198.9h0.9M32.1 188.8h0.9M33.9 185.3h0.9M36.0 198.6h0.9M26.6 189.2h0.9M44.3 196.9h0.9M30.7 184.6h0.9M30.4 178.3h0.9M42.3 191.5h0.9M31.4 179.7h0.9M33.2 187.0h0.9M45.7 187.4h0.9M36.2 199.4h0.9M39.4 189.6h0.9M22.6 202.0h0.9M39.0 187.6h0.9M35.0 183.5h0.9M30.2 179.3h0.9M38.5 195.1h0.9M36.5 197.1h0.9M38.7 192.0h0.9M30.3 195.6h0.9M42.5 196.0h0.9M42.9 187.3h0.9M29.7 200.8h0.9M32.1 192.9h0.9M34.4 191.2h0.9M33.9 186.8h0.9M25.0 206.0h0.9M36.7 175.9h0.9M30.2 182.2h0.9M31.1 171.0h0.9M38.9 203.9h0.9M34.1 196.8h0.9M39.0 181.2h0.9M42.7 177.8h0.9M32.1 188.2h0.9M42.9 191.9h0.9M34.8 184.7h0.9M36.0 191.3h0.9M39.8 201.9h0.9M39.8 191.1h0.9M34.6 203.5h0.9M36.7 190.9h0.9M46.1 203.3h0.9M38.8 190.1h0.9M31.8 199.4h0.9M32.8 198.5h0.9M30.9 191.8h0.9M37.9 192.1h0.9M36.9 194.0h0.9M28.9 182.3h0.9M34.6 205.1h0.9M34.8 183.7h0.9M31.6 191.3h0.9M42.4 186.6h0.9M38.8 192.5h0.9M33.4 183.6h0.9M34.6 185.3h0.9M38.7 177.2h0.9M42.1 196.9h0.9M38.9 202.7h0.9M39.0 177.6h0.9M35.8 194.5h0.9M31.5 182.2h0.9M38.0 195.0h0.9M33.0 189.1h0.9M32.5 186.6h0.9M35.2 199.4h0.9M26.1 188.3h0.9M45.0 193.5h0.9M36.4 197.5h0.9M29.6 181.6h0.9M25.8 179.6h0.9M37.0 197.6h0.9M33.1 185.7h0.9M37.9 195.8h0.9M37.0 176.1h0.9M32.3 171.3h0.9M36.9 184.4h0.9M31.7 202.7h0.9M43.2 194.8h0.9M37.1 192.3h0.9M32.1 190.6h0.9M46.7 184.2h0.9M31.6 192.3h0.9M40.7 197.5h0.9M29.9 190.0h0.9M34.0 181.4h0.9M36.0 187.3h0.9M40.9 194.4h0.9M30.9 191.6h0.9M33.4 186.1h0.9M32.7 199.3h0.9M33.1 177.7h0.9M31.0 197.3h0.9M48.1 182.8h0.9M33.4 188.4h0.9M27.3 194.1h0.9M35.2 193.2h0.9M48.6 188.9h0.9M40.1 197.5h0.9M31.8 186.4h0.9M44.6 196.6h0.9M36.3 182.5h0.9M40.7 195.1h0.9M48.3 202.5h0.9M40.2 193.1h0.9M35.9 186.7h0.9M37.3 192.9h0.9M39.3 199.5h0.9M37.3 186.8h0.9M40.2 203.1h0.9M30.6 194.3h0.9M38.7 195.2h0.9M38.4 190.3h0.9M34.9 204.1h0.9M45.6 180.1h0.9M20.7 194.4h0.9M31.6 187.0h0.9M26.2 193.8h0.9M35.2 186.8h0.9M44.1 200.1h0.9M33.1 196.1h0.9M35.3 200.0h0.9M38.9 190.7h0.9M38.7 185.4h0.9M40.1 202.7h0.9M33.4 195.3h0.9M25.8 198.3h0.9M40.6 183.1h0.9M45.7 191.9h0.9M25.4 180.4h0.9M40.6 188.9h0.9M41.9 179.0h0.9M34.9 198.6h0.9M31.6 196.3h0.9M33.4 193.7h0.9M28.3 197.1h0.9M43.2 182.3h0.9M41.6 167.9h0.9M34.1 177.7h0.9M37.3 185.4h0.9M32.2 184.5h0.9M37.2 187.4h0.9M30.2 189.2h0.9M37.9 184.3h0.9M42.0 178.1h0.9M37.9 188.0h0.9M44.7 186.0h0.9M31.6 180.6h0.9M47.1 195.8h0.9M29.2 188.4h0.9M29.9 202.8h0.9M37.9 175.2h0.9M36.7 198.1h0.9M35.5 194.7h0.9M34.9 192.6h0.9M36.7 185.5h0.9M37.5 192.3h0.9M35.3 185.7h0.9M29.6 192.9h0.9M40.3 172.2h0.9M32.4 201.5h0.9M40.8 185.5h0.9M43.4 183.3h0.9M30.9 206.1h0.9M33.0 189.3h0.9M25.9 183.1h0.9M28.6 189.9h0.9M24.8 199.3h0.9M33.4 186.3h0.9M31.8 196.8h0.9M44.4 187.8h0.9M44.9 203.5h0.9M43.3 193.3h0.9M26.8 196.2h0.9M33.1 192.5h0.9M24.5 188.8h0.9M36.9 183.7h0.9M37.2 204.0h0.9M36.8 185.7h0.9M49.4 174.2h0.9M30.1 194.2h0.9M32.0 173.1h0.9M37.0 197.5h0.9M30.9 202.4h0.9M38.4 200.3h0.9M26.6 191.0h0.9M43.2 191.0h0.9M36.6 186.1h0.9M41.9 185.6h0.9M36.2 174.9h0.9M26.7 204.9h0.9M35.8 192.7h0.9M22.7 190.7h0.9M47.6 179.3h0.9M21.6 189.7h0.9M32.4 189.4h0.9M28.1 180.4h0.9M28.3 196.0h0.9M35.2 197.4h0.9M29.2 195.6h0.9M32.9 191.7h0.9M41.0 191.3h0.9M33.4 178.0h0.9M35.9 197.1h0.9M31.8 190.5h0.9M25.1 180.6h0.9M37.9 201.1h0.9M33.7 177.9h0.9M33.3 178.8h0.9M33.9 206.1h0.9M37.3 189.8h0.9M41.6 188.0h0.9M37.5 192.6h0.9M38.1 179.5h0.9M39.7 197.9h0.9M22.1 169.7h0.9M30.2 202.7h0.9M35.6 196.3h0.9M38.8 198.0h0.9M31.7 186.4h0.9M37.7 195.8h0.9M38.9 193.7h0.9M32.6 199.7h0.9M38.3 199.4h0.9M20.5 198.9h0.9M21.1 192.7h0.9M31.6 191.9h0.9M32.7 188.6h0.9M36.6 193.7h0.9M30.8 171.1h0.9M30.9 195.3h0.9M30.5 194.4h0.9M33.3 183.6h0.9M42.4 204.1h0.9M34.9 190.6h0.9M41.2 180.5h0.9M30.3 199.9h0.9M40.8 187.1h0.9M30.9 193.8h0.9M27.2 187.1h0.9M34.1 171.5h0.9M39.0 197.0h0.9M41.8 179.6h0.9M27.9 184.6h0.9M29.7 188.5h0.9M36.7 194.6h0.9M44.1 182.4h0.9M40.7 192.2h0.9M28.5 192.2h0.9M27.2 203.9h0.9M31.2 199.0h0.9M43.2 186.1h0.9M30.2 192.0h0.9M29.3 198.1h0.9M36.5 184.9h0.9M31.4 196.8h0.9M26.9 204.4h0.9M30.8 189.4h0.9M30.0 203.9h0.9M42.7 180.3h0.9M41.9 170.7h0.9M46.6 175.3h0.9M41.0 174.6h0.9M42.3 172.2h0.9M38.3 157.3h0.9M48.2 159.6h0.9M29.4 164.3h0.9M47.7 179.7h0.9M36.3 172.1h0.9M38.9 154.2h0.9M37.5 172.3h0.9M44.3 160.4h0.9M28.9 157.4h0.9M40.5 170.6h0.9M39.7 171.2h0.9M37.4 159.1h0.9M41.0 173.1h0.9M41.6 180.0h0.9M33.4 151.3h0.9M31.0 187.1h0.9M34.9 173.2h0.9M38.9 175.8h0.9M53.4 165.9h0.9M38.2 165.2h0.9M40.1 174.2h0.9M34.6 180.5h0.9M44.2 173.6h0.9M38.5 168.1h0.9M31.6 175.2h0.9M34.6 166.0h0.9M43.5 162.6h0.9M36.7 176.9h0.9M47.4 164.5h0.9M44.0 164.8h0.9M40.7 173.9h0.9M33.9 178.2h0.9M47.1 170.4h0.9M40.2 160.6h0.9M47.0 170.5h0.9M33.3 176.1h0.9M32.4 164.5h0.9M29.4 181.0h0.9M48.9 164.9h0.9M36.1 165.4h0.9M36.5 174.4h0.9M45.6 161.9h0.9M41.0 155.6h0.9M45.9 169.3h0.9M35.8 182.2h0.9M38.5 181.0h0.9M43.8 183.3h0.9M35.4 170.5h0.9M40.7 168.4h0.9M45.9 164.3h0.9M43.5 180.9h0.9M30.2 162.2h0.9M34.9 165.6h0.9M40.8 168.6h0.9M39.4 166.3h0.9M38.6 173.9h0.9M42.4 163.7h0.9M38.5 163.9h0.9M38.2 158.5h0.9M43.3 175.4h0.9M38.4 164.5h0.9M36.9 164.7h0.9M32.1 183.1h0.9M53.8 160.2h0.9M33.7 174.6h0.9M41.7 157.4h0.9M30.4 174.3h0.9M30.0 181.4h0.9M36.8 170.7h0.9M39.0 165.5h0.9M38.4 167.6h0.9M44.6 169.3h0.9M38.9 165.8h0.9M36.1 164.1h0.9M39.0 184.7h0.9M44.0 171.9h0.9M46.5 178.1h0.9M39.9 168.7h0.9M34.1 172.0h0.9M37.6 157.3h0.9M33.2 185.5h0.9M40.0 174.0h0.9M39.9 166.3h0.9M41.1 178.7h0.9M37.6 174.1h0.9M79.8 168.6h0.9M75.4 152.8h0.9M79.3 150.7h0.9M79.1 178.5h0.9M81.1 189.8h0.9M70.6 172.8h0.9M77.5 166.5h0.9M54.0 199.9h0.9M76.0 183.4h0.9M74.1 151.5h0.9M65.4 193.4h0.9M80.8 200.5h0.9M56.0 183.6h0.9M68.2 163.8h0.9M56.2 144.7h0.9M65.6 170.0h0.9M59.3 161.1h0.9M68.2 189.1h0.9M69.3 146.5h0.9M78.5 161.1h0.9M80.8 204.7h0.9M55.4 176.3h0.9M81.0 162.3h0.9M68.0 157.3h0.9M51.9 149.5h0.9M54.8 155.2h0.9M70.5 175.0h0.9M80.4 183.7h0.9M62.2 202.4h0.9M70.7 173.6h0.9M77.7 182.6h0.9M62.2 177.9h0.9M60.3 203.8h0.9M58.6 204.1h0.9M53.0 135.7h0.9M68.1 149.6h0.9M66.7 143.4h0.9M76.9 182.5h0.9M72.2 200.8h0.9M81.8 183.2h0.9M40.8 181.0h0.9M19.6 191.7h0.9M49.0 188.8h0.9M36.2 181.2h0.9M31.3 203.6h0.9M36.9 201.6h0.9M18.4 186.1h0.9M23.7 201.8h0.9M21.3 204.3h0.9M26.6 203.0h0.9M34.5 189.1h0.9M48.9 191.1h0.9M40.3 182.7h0.9M44.6 205.5h0.9M21.5 199.7h0.9M26.7 184.7h0.9M29.7 197.5h0.9M48.5 205.8h0.9M49.8 196.6h0.9M38.9 185.0h0.9M41.2 194.8h0.9M29.5 203.5h0.9M26.2 184.5h0.9M23.1 184.7h0.9M36.8 201.0h0.9M23.1 193.6h0.9M36.4 195.0h0.9M31.2 194.6h0.9M18.5 182.5h0.9M31.5 186.9h0.9M42.2 187.0h0.9M44.4 187.0h0.9M21.0 192.9h0.9M30.4 189.4h0.9M42.5 186.6h0.9M39.4 201.9h0.9M32.5 193.6h0.9M47.6 196.1h0.9M23.8 182.7h0.9M20.6 189.3h0.9" stroke="#000" stroke-width="0.9" stroke-opacity="0.42" fill="none"/>
<text x="19.2" y="128.7" font-size="8.2" stroke="#000" stroke-width="0.3" textLength="9.2" lengthAdjust="spacingAndGlyphs" >26</text>
<text x="98.2" y="128.3" font-size="8.2" stroke="#000" stroke-width="0.3" text-anchor="end" textLength="10" lengthAdjust="spacingAndGlyphs" >1.2</text>
<text x="98.4" y="205.9" font-size="8.2" stroke="#000" stroke-width="0.3" text-anchor="end" textLength="10.6" lengthAdjust="spacingAndGlyphs" >0.3</text>
<text x="19" y="206" font-size="5.4" stroke="#000" stroke-width="0.3" font-style="italic">72 5</text>
<line x1="16.4" y1="224.6" x2="100" y2="224.6" stroke="#6a6a6a" stroke-width="1.0" />
<line x1="16.4" y1="224.6" x2="16.4" y2="311.6" stroke="#6a6a6a" stroke-width="1.0" />
<line x1="99.8" y1="224.6" x2="99.8" y2="311.6" stroke="#6a6a6a" stroke-width="0.8" />
<line x1="16.4" y1="311.5" x2="100" y2="311.5" stroke="#333" stroke-width="1.0" />
<line x1="49.6" y1="224.6" x2="49.6" y2="311.6" stroke="#6a6a6a" stroke-width="1.0" />
<line x1="16.4" y1="284.2" x2="100" y2="284.2" stroke="#6a6a6a" stroke-width="1.0" />
<path d="M44.0 253.6h0.9M38.8 253.1h0.9M34.7 252.2h0.9M40.9 253.4h0.9M40.0 253.7h0.9M44.2 251.2h0.9M39.4 252.9h0.9M42.1 252.7h0.9M43.0 250.7h0.9M42.8 254.2h0.9M43.7 253.1h0.9M40.2 253.1h0.9M40.6 250.1h0.9M39.2 252.4h0.9M39.5 251.1h0.9M40.2 251.9h0.9M41.0 252.4h0.9M41.2 254.0h0.9M41.2 253.1h0.9M37.6 248.1h0.9M39.8 253.5h0.9M39.9 251.6h0.9M37.6 253.8h0.9M39.4 252.9h0.9M43.7 253.3h0.9M46.6 252.3h0.9M43.3 253.5h0.9M39.1 252.6h0.9M39.3 251.0h0.9M41.6 251.3h0.9M45.2 251.4h0.9M39.4 252.6h0.9M39.5 252.6h0.9M39.2 250.4h0.9M34.5 250.6h0.9M44.8 253.2h0.9M41.2 251.8h0.9M40.4 252.9h0.9M37.2 251.3h0.9M38.5 254.4h0.9M38.1 254.3h0.9M39.6 256.6h0.9M40.6 252.5h0.9M44.3 253.8h0.9M43.2 250.9h0.9M43.8 255.0h0.9M40.5 251.8h0.9M38.0 254.0h0.9M41.6 252.5h0.9M37.6 254.9h0.9M43.1 252.5h0.9M44.6 251.1h0.9M43.1 251.0h0.9M44.5 252.1h0.9M44.0 251.9h0.9M41.8 254.2h0.9M38.5 252.6h0.9M38.6 253.8h0.9M39.2 251.9h0.9M40.3 254.2h0.9M38.1 252.5h0.9M39.9 251.7h0.9M38.8 252.3h0.9M41.3 250.2h0.9M41.4 250.7h0.9M40.8 255.9h0.9M38.3 252.4h0.9M40.1 254.0h0.9M39.6 249.8h0.9M36.6 252.8h0.9M41.5 254.1h0.9M39.4 253.5h0.9M38.0 254.4h0.9M40.6 251.5h0.9M41.3 255.1h0.9M38.6 250.6h0.9M38.2 250.8h0.9M40.7 253.0h0.9M40.4 252.8h0.9M43.9 252.1h0.9M37.5 249.1h0.9M41.4 251.5h0.9M40.2 253.1h0.9M42.0 250.1h0.9M38.3 252.6h0.9M40.4 254.2h0.9M39.5 249.4h0.9M43.8 250.0h0.9M38.3 253.1h0.9M38.0 256.2h0.9M41.4 253.3h0.9M39.7 255.8h0.9M42.2 251.4h0.9M44.1 250.0h0.9M39.3 252.9h0.9M41.2 251.1h0.9M44.9 254.7h0.9M38.4 253.1h0.9M39.2 251.9h0.9M43.4 252.7h0.9M40.5 252.7h0.9M37.8 254.3h0.9M38.8 254.5h0.9M39.6 251.8h0.9M44.7 252.8h0.9M39.1 251.7h0.9M42.4 255.3h0.9M42.4 251.9h0.9M37.9 251.5h0.9M40.5 252.9h0.9M39.1 254.4h0.9M38.3 251.4h0.9M42.1 253.2h0.9M39.8 253.9h0.9M37.1 255.0h0.9M46.5 255.4h0.9M41.1 255.5h0.9M40.9 254.5h0.9M40.3 252.8h0.9M42.2 249.9h0.9M40.3 255.1h0.9M33.2 253.1h0.9M43.2 253.0h0.9M41.3 254.6h0.9M41.7 249.7h0.9M38.3 252.1h0.9M41.2 251.8h0.9M40.5 255.0h0.9M33.2 254.2h0.9M43.2 253.4h0.9M40.8 252.6h0.9M41.7 252.9h0.9M38.9 253.7h0.9M38.7 252.4h0.9M39.9 250.8h0.9M42.4 252.4h0.9M37.8 252.4h0.9M37.2 254.6h0.9M42.1 255.5h0.9M39.3 253.6h0.9M38.3 251.2h0.9M40.6 253.1h0.9M43.2 252.1h0.9M43.7 253.9h0.9M38.5 252.2h0.9M38.4 255.1h0.9M39.4 253.8h0.9M43.2 252.1h0.9M39.5 253.0h0.9M38.8 250.6h0.9M38.3 253.0h0.9M41.3 255.1h0.9M36.1 253.3h0.9M37.8 254.2h0.9M42.6 252.7h0.9M44.6 251.9h0.9M39.4 250.9h0.9M39.1 252.7h0.9M42.5 254.4h0.9M40.1 251.4h0.9M39.9 251.9h0.9M39.6 251.9h0.9M38.5 252.4h0.9M39.5 252.2h0.9M37.2 252.7h0.9M42.3 253.5h0.9M39.4 250.8h0.9M37.4 250.8h0.9M39.1 252.0h0.9M36.2 253.5h0.9M36.8 251.5h0.9M38.9 253.7h0.9M45.5 252.0h0.9M40.1 251.9h0.9M40.3 252.2h0.9M47.2 250.9h0.9M40.5 251.3h0.9M41.7 251.7h0.9M42.3 250.9h0.9M46.2 252.8h0.9M34.9 301.1h0.9M38.3 291.6h0.9M40.8 294.8h0.9M41.6 294.7h0.9M42.0 298.3h0.9M40.6 298.3h0.9M38.6 295.6h0.9M40.8 301.1h0.9M38.5 309.0h0.9M44.1 291.6h0.9M42.5 297.1h0.9M40.2 293.5h0.9M44.0 293.3h0.9M39.4 293.8h0.9M44.8 303.9h0.9M36.1 295.2h0.9M40.6 295.3h0.9M38.7 292.0h0.9M40.3 291.9h0.9M41.8 309.8h0.9M38.7 305.9h0.9M40.6 294.1h0.9M38.7 292.6h0.9M39.9 301.1h0.9M42.1 296.1h0.9M36.4 297.1h0.9M44.1 298.9h0.9M39.4 286.9h0.9M38.4 300.3h0.9M37.1 304.4h0.9M38.1 293.1h0.9M38.1 297.0h0.9M42.3 294.6h0.9M34.9 297.1h0.9M41.0 305.4h0.9M36.6 305.1h0.9M41.4 299.8h0.9M37.6 293.0h0.9M37.1 302.3h0.9M40.2 303.0h0.9M44.4 297.6h0.9M39.5 307.3h0.9M36.1 295.2h0.9M38.6 295.6h0.9M40.0 293.2h0.9M42.7 290.6h0.9M37.4 288.9h0.9M35.9 300.5h0.9M41.3 296.5h0.9M41.8 300.7h0.9M38.1 297.3h0.9M40.6 307.8h0.9M38.4 299.4h0.9M41.0 303.7h0.9M40.7 303.0h0.9M36.8 296.2h0.9M34.5 297.3h0.9M45.8 298.8h0.9M39.8 298.9h0.9M40.0 290.8h0.9M37.8 296.6h0.9M40.0 293.1h0.9M39.3 293.8h0.9M36.1 294.2h0.9M37.5 301.8h0.9M43.2 300.5h0.9M39.0 294.7h0.9M35.4 294.9h0.9M43.8 303.4h0.9M40.2 296.3h0.9M39.6 299.7h0.9M39.6 299.7h0.9M37.6 297.8h0.9M38.7 303.0h0.9M36.3 304.1h0.9M39.4 295.0h0.9M39.7 298.2h0.9M39.0 299.7h0.9M38.1 288.9h0.9M41.4 297.4h0.9M44.0 299.5h0.9M34.3 303.8h0.9M37.8 300.3h0.9M45.5 303.1h0.9M36.7 297.1h0.9M35.3 300.9h0.9M41.1 292.3h0.9M40.8 302.3h0.9M41.7 294.1h0.9M37.8 291.9h0.9M36.2 299.1h0.9M39.7 304.1h0.9M40.3 295.9h0.9M35.8 305.4h0.9M40.0 297.4h0.9M36.9 292.2h0.9M41.3 292.6h0.9M41.2 300.7h0.9M38.6 289.3h0.9M40.7 304.7h0.9M37.4 291.2h0.9M42.5 298.3h0.9M37.9 303.7h0.9M38.9 299.8h0.9M38.5 293.7h0.9M40.2 293.2h0.9M34.9 294.8h0.9M42.9 303.1h0.9M45.4 302.6h0.9M43.9 298.8h0.9M38.4 299.9h0.9M37.1 301.3h0.9M38.4 298.9h0.9M37.3 296.9h0.9M42.2 296.5h0.9M37.8 299.0h0.9M41.9 296.6h0.9M36.5 289.7h0.9M36.1 302.9h0.9M39.4 300.0h0.9M42.4 299.0h0.9M40.9 295.0h0.9M35.3 300.7h0.9M39.3 300.5h0.9M36.8 296.8h0.9M44.9 293.3h0.9M39.9 304.2h0.9M39.0 298.2h0.9M34.0 301.5h0.9M38.4 304.0h0.9M39.4 295.7h0.9M40.8 296.4h0.9M38.2 305.3h0.9M42.2 298.1h0.9M41.7 301.7h0.9M41.1 297.8h0.9M39.8 299.6h0.9M41.1 299.3h0.9M38.1 297.2h0.9M40.8 292.6h0.9M39.6 301.4h0.9M40.0 296.1h0.9M39.5 295.1h0.9M42.2 295.7h0.9M35.2 291.5h0.9M40.4 298.6h0.9M38.4 291.0h0.9M39.2 293.4h0.9M37.9 297.6h0.9M37.6 299.1h0.9M37.6 295.3h0.9M39.0 304.9h0.9M43.8 302.3h0.9M37.7 297.6h0.9M42.0 301.6h0.9M35.3 297.3h0.9M37.6 301.3h0.9M41.3 294.9h0.9M45.3 296.2h0.9M46.1 296.7h0.9M39.4 307.0h0.9M38.2 295.2h0.9M43.5 297.4h0.9M40.9 291.3h0.9M44.3 302.5h0.9M40.5 301.1h0.9M38.3 295.2h0.9M35.4 299.4h0.9M42.9 301.8h0.9M42.0 301.1h0.9M37.2 291.1h0.9M41.3 298.4h0.9M42.2 296.2h0.9M37.3 299.8h0.9M38.1 289.4h0.9M38.0 293.2h0.9M36.7 294.9h0.9M42.1 309.2h0.9M44.2 295.5h0.9M42.6 297.2h0.9M40.7 294.2h0.9M39.4 289.3h0.9M44.3 293.8h0.9M41.1 294.7h0.9M40.3 291.8h0.9M38.6 302.1h0.9M41.2 288.0h0.9M41.9 291.1h0.9M40.4 300.2h0.9M37.9 296.0h0.9M39.0 299.6h0.9M42.0 304.3h0.9M40.5 307.5h0.9M37.1 306.4h0.9M38.9 301.4h0.9M39.3 298.0h0.9M37.2 299.5h0.9M45.0 298.3h0.9M39.5 297.6h0.9M41.5 296.6h0.9M39.6 298.7h0.9M43.0 302.3h0.9M36.8 294.5h0.9M39.7 301.8h0.9M42.2 296.6h0.9M45.2 296.8h0.9M43.3 304.6h0.9M43.8 298.6h0.9M41.1 290.0h0.9M34.9 294.6h0.9M41.5 302.8h0.9M39.3 302.7h0.9M41.1 305.1h0.9M35.4 293.5h0.9M37.1 292.4h0.9M44.0 293.0h0.9M37.4 295.6h0.9M41.9 295.3h0.9M41.5 300.3h0.9M37.9 285.9h0.9M37.2 291.4h0.9M43.9 294.0h0.9M36.8 299.4h0.9M39.7 293.0h0.9M42.5 302.1h0.9M40.3 293.8h0.9M37.3 287.5h0.9M40.6 299.5h0.9M37.2 297.7h0.9M48.3 292.0h0.9M35.1 300.6h0.9M38.5 295.1h0.9M41.2 296.9h0.9M42.2 300.1h0.9M42.7 298.2h0.9M33.9 304.3h0.9M35.1 302.7h0.9M40.3 290.7h0.9M39.8 301.9h0.9M36.9 297.8h0.9M37.6 292.6h0.9M38.0 303.9h0.9M41.4 297.4h0.9M39.4 298.2h0.9M40.4 298.5h0.9M35.1 302.1h0.9M37.3 284.7h0.9M41.5 291.6h0.9M39.2 297.1h0.9M38.0 300.2h0.9M38.9 296.2h0.9M37.1 296.2h0.9M36.9 297.8h0.9M43.1 302.5h0.9M40.7 290.8h0.9M42.3 302.2h0.9M45.1 286.4h0.9M39.6 295.9h0.9M42.5 292.2h0.9M38.6 309.0h0.9M42.2 287.7h0.9M39.7 304.3h0.9M38.0 300.5h0.9M39.9 290.3h0.9M37.9 303.2h0.9M42.7 294.6h0.9M42.6 294.0h0.9M40.3 297.4h0.9M36.3 299.1h0.9M38.6 284.0h0.9M37.4 293.4h0.9M37.4 292.7h0.9M37.8 285.4h0.9M42.0 297.9h0.9M40.3 296.2h0.9M39.8 296.2h0.9M36.7 290.0h0.9M39.8 302.6h0.9M40.2 305.5h0.9M36.0 296.2h0.9M38.0 303.6h0.9M44.1 294.9h0.9M41.5 296.3h0.9M36.9 297.0h0.9M36.8 305.2h0.9M41.2 303.4h0.9M40.6 285.5h0.9M41.7 298.0h0.9M33.3 298.0h0.9M42.3 306.0h0.9M36.9 301.4h0.9M40.5 296.7h0.9M38.8 300.2h0.9M41.1 300.8h0.9M38.5 291.0h0.9M43.1 304.0h0.9M38.1 297.4h0.9M41.7 288.8h0.9M40.9 309.6h0.9M40.3 294.0h0.9M45.0 297.6h0.9M40.2 295.4h0.9M40.1 288.6h0.9M36.2 290.2h0.9M42.0 297.1h0.9M42.7 287.4h0.9M38.0 304.8h0.9M37.5 288.2h0.9M37.6 295.8h0.9M39.6 304.0h0.9M43.1 305.2h0.9M41.1 295.0h0.9M38.3 290.1h0.9M43.0 303.8h0.9M39.8 293.1h0.9M41.4 299.9h0.9M40.0 291.7h0.9M40.2 294.7h0.9M41.6 300.5h0.9M40.8 295.4h0.9M43.6 301.4h0.9M43.0 301.7h0.9M41.4 299.5h0.9M36.8 288.4h0.9M37.1 300.6h0.9M42.0 298.4h0.9M39.8 306.7h0.9M38.5 288.6h0.9M35.5 295.9h0.9M41.5 301.2h0.9M39.0 301.6h0.9M39.5 293.9h0.9M38.6 301.3h0.9M42.1 291.9h0.9M37.0 298.1h0.9M45.2 291.7h0.9M36.3 299.6h0.9M40.9 294.5h0.9M39.5 299.9h0.9M35.0 297.4h0.9M41.2 302.1h0.9M42.7 297.1h0.9M35.8 304.2h0.9M41.6 294.3h0.9M42.3 302.7h0.9M39.2 285.7h0.9M38.4 293.7h0.9M37.4 297.1h0.9M36.7 299.4h0.9M44.6 291.6h0.9M42.4 294.9h0.9M41.0 296.9h0.9M43.0 294.0h0.9M41.5 293.6h0.9M40.2 297.4h0.9M42.5 289.6h0.9M36.0 304.4h0.9M40.6 306.0h0.9M36.9 298.6h0.9M41.2 306.3h0.9M39.5 295.3h0.9M41.5 297.0h0.9M37.6 301.3h0.9M34.6 292.4h0.9M43.2 295.0h0.9M38.7 299.4h0.9M42.6 300.1h0.9M37.1 294.7h0.9M42.4 296.9h0.9M37.9 301.9h0.9M42.6 308.3h0.9M36.8 294.0h0.9M37.8 299.3h0.9M38.3 303.1h0.9M32.5 302.3h0.9M37.9 296.1h0.9M41.1 298.5h0.9M36.9 305.0h0.9M41.1 295.1h0.9M40.2 292.0h0.9M36.4 296.0h0.9M40.6 298.0h0.9M37.6 290.6h0.9M35.2 305.5h0.9M40.6 293.5h0.9M42.7 300.2h0.9M38.5 294.4h0.9M42.6 299.1h0.9M43.9 299.3h0.9M38.1 294.5h0.9M37.7 298.8h0.9M40.3 300.5h0.9M40.8 292.3h0.9M39.1 292.8h0.9M40.9 290.9h0.9M38.1 293.2h0.9M38.0 296.2h0.9M43.6 296.2h0.9M35.8 296.0h0.9M41.6 300.3h0.9M40.2 307.4h0.9M42.5 298.0h0.9M42.8 290.8h0.9M39.2 293.2h0.9M40.1 305.6h0.9M38.3 305.4h0.9M36.9 304.6h0.9M35.1 293.3h0.9M42.2 297.0h0.9M40.0 297.4h0.9M40.1 296.6h0.9M37.0 296.1h0.9M39.9 293.0h0.9M40.8 306.3h0.9M35.3 294.8h0.9M38.9 297.6h0.9M39.9 293.9h0.9M39.5 297.5h0.9M39.4 305.2h0.9M39.9 290.1h0.9M35.5 300.4h0.9M38.7 294.4h0.9M36.0 296.0h0.9M39.4 294.1h0.9M38.7 301.9h0.9M41.7 300.2h0.9M39.1 290.7h0.9M41.6 305.0h0.9M42.9 303.3h0.9M40.3 299.4h0.9M39.6 303.8h0.9M38.9 308.2h0.9M41.6 295.9h0.9M39.6 289.5h0.9M37.7 296.0h0.9M46.0 293.4h0.9M42.0 297.9h0.9M38.8 300.6h0.9M34.4 302.2h0.9M44.7 299.0h0.9M39.4 298.3h0.9M41.3 295.1h0.9M39.9 300.0h0.9M38.7 299.4h0.9M40.5 301.1h0.9M37.0 294.8h0.9M38.5 303.5h0.9M40.3 289.3h0.9M36.3 307.2h0.9M40.5 291.0h0.9M37.2 298.2h0.9M43.3 305.6h0.9M38.6 296.0h0.9M44.6 292.6h0.9M43.7 299.2h0.9M39.8 303.9h0.9M40.9 293.3h0.9M35.6 297.6h0.9M40.9 304.3h0.9M32.8 304.2h0.9M41.2 305.1h0.9M41.7 298.6h0.9M40.7 299.5h0.9M38.0 296.9h0.9M39.9 295.3h0.9M35.8 290.3h0.9M40.9 300.1h0.9M39.9 291.7h0.9M41.8 295.5h0.9M34.2 305.3h0.9M35.7 308.8h0.9M41.0 295.3h0.9M33.4 294.0h0.9M43.5 304.3h0.9M40.3 288.9h0.9M38.6 296.1h0.9M40.8 296.9h0.9M40.5 289.3h0.9M37.9 304.7h0.9M35.8 302.1h0.9M45.7 300.8h0.9M36.0 303.7h0.9M34.7 299.2h0.9M38.5 303.7h0.9M42.7 298.5h0.9M44.3 302.4h0.9M38.3 292.6h0.9M46.1 295.5h0.9M40.7 296.9h0.9M38.4 289.5h0.9M39.2 296.9h0.9M42.2 294.9h0.9M35.5 292.1h0.9M39.5 298.8h0.9M41.5 295.6h0.9M41.0 298.2h0.9M44.0 297.2h0.9M40.0 300.3h0.9M42.8 292.9h0.9M38.4 296.1h0.9M34.0 304.0h0.9M42.4 297.6h0.9M48.4 303.9h0.9M44.9 305.4h0.9M42.0 290.4h0.9M43.6 299.6h0.9M36.5 297.8h0.9M41.6 302.4h0.9M40.1 294.9h0.9M41.6 293.7h0.9M39.4 301.3h0.9M35.8 299.4h0.9M34.5 292.9h0.9M36.4 297.1h0.9M41.5 297.2h0.9M42.0 298.0h0.9M39.1 300.0h0.9M39.0 298.2h0.9M42.3 294.6h0.9M42.6 292.0h0.9M39.0 288.8h0.9M38.2 305.5h0.9M40.5 303.9h0.9M35.7 292.4h0.9M40.8 301.7h0.9M41.8 289.1h0.9M40.9 297.1h0.9M39.9 299.9h0.9M38.9 289.0h0.9M36.8 290.2h0.9M36.1 296.8h0.9M43.0 293.9h0.9M37.6 291.7h0.9M35.1 297.8h0.9M38.3 296.3h0.9M37.1 299.9h0.9M36.4 300.3h0.9M37.9 301.5h0.9M37.3 299.7h0.9M40.8 297.1h0.9M43.9 298.4h0.9M37.3 301.0h0.9M37.4 294.8h0.9M39.6 298.4h0.9M44.1 288.7h0.9M38.9 303.2h0.9M39.2 299.1h0.9M43.6 291.3h0.9M39.7 301.5h0.9M38.1 288.7h0.9M37.0 298.5h0.9M40.1 306.8h0.9M43.1 289.7h0.9M42.3 302.1h0.9M43.9 296.7h0.9M38.1 298.2h0.9M43.7 300.6h0.9M44.1 301.5h0.9M38.1 292.4h0.9M44.5 289.9h0.9" stroke="#000" stroke-width="0.9" stroke-opacity="0.85" fill="none"/>
<path d="M40.3 251.9h0.9M35.9 251.0h0.9M43.0 261.3h0.9M42.5 251.2h0.9M44.0 256.3h0.9M36.6 251.6h0.9M29.4 255.4h0.9M48.3 258.2h0.9M33.7 260.6h0.9M49.8 252.0h0.9M40.0 251.9h0.9M33.5 255.7h0.9M38.3 250.5h0.9M47.0 253.4h0.9M38.4 252.2h0.9M39.2 257.7h0.9M50.8 250.5h0.9M42.7 257.8h0.9M40.8 259.2h0.9M46.5 255.3h0.9M26.8 256.0h0.9M45.7 255.0h0.9M46.8 254.8h0.9M39.0 256.1h0.9M43.5 249.3h0.9M35.1 253.6h0.9M45.6 245.3h0.9M26.9 256.7h0.9M42.9 262.9h0.9M31.0 252.1h0.9M38.3 254.9h0.9M54.0 258.6h0.9M35.1 257.3h0.9M33.5 254.1h0.9M44.3 255.2h0.9M36.8 257.7h0.9M42.5 252.9h0.9M40.9 249.3h0.9M48.6 254.2h0.9M46.6 259.5h0.9M36.2 252.0h0.9M43.1 256.0h0.9M41.6 256.3h0.9M46.6 246.9h0.9M37.7 245.9h0.9M40.8 251.5h0.9M47.6 253.6h0.9M42.5 257.4h0.9M47.6 248.7h0.9M37.6 254.1h0.9M56.3 252.3h0.9M41.7 253.9h0.9M49.1 252.7h0.9M45.3 251.5h0.9M38.7 250.2h0.9M48.1 251.1h0.9M47.3 254.4h0.9M50.6 243.6h0.9M35.5 248.7h0.9M41.7 255.8h0.9M62.8 258.4h0.9M53.6 254.3h0.9M40.0 254.9h0.9M26.0 256.3h0.9M43.1 255.2h0.9M35.0 249.2h0.9M38.0 252.8h0.9M45.7 251.8h0.9M45.7 255.4h0.9M33.9 252.6h0.9M30.8 251.1h0.9M50.1 250.5h0.9M57.6 254.8h0.9M50.0 253.4h0.9M49.8 256.8h0.9M43.8 251.1h0.9M38.7 259.8h0.9M41.6 251.4h0.9M37.5 247.1h0.9M39.1 254.1h0.9M39.2 250.3h0.9M46.2 254.6h0.9M39.6 254.1h0.9M35.4 256.0h0.9M35.3 251.8h0.9M44.1 251.5h0.9M34.1 260.3h0.9M54.9 246.9h0.9M43.9 248.6h0.9M45.4 248.4h0.9M47.5 254.9h0.9M56.4 257.2h0.9M39.4 256.3h0.9M39.4 252.6h0.9M39.1 246.8h0.9M47.7 245.9h0.9M41.2 254.8h0.9M43.9 247.5h0.9M37.9 255.4h0.9M51.6 258.6h0.9M28.8 254.6h0.9M39.2 255.7h0.9M29.8 252.5h0.9M48.5 250.7h0.9M40.2 249.6h0.9M51.7 248.3h0.9M35.9 251.8h0.9M40.5 260.4h0.9M45.1 250.1h0.9M47.5 254.2h0.9M45.2 252.8h0.9M46.6 248.9h0.9M33.6 251.5h0.9M34.4 255.5h0.9M58.2 257.3h0.9M46.5 254.2h0.9M37.6 248.4h0.9M47.3 247.8h0.9M45.4 252.5h0.9M48.9 253.2h0.9M43.8 251.0h0.9M29.5 251.8h0.9M48.4 256.7h0.9M53.8 249.5h0.9M35.7 255.5h0.9M39.5 262.0h0.9M45.5 247.7h0.9M38.7 258.5h0.9M28.7 253.5h0.9M32.2 258.6h0.9M39.5 249.4h0.9M29.6 250.5h0.9M23.0 251.3h0.9M60.0 253.3h0.9M40.9 248.9h0.9M45.7 251.3h0.9M36.4 257.9h0.9M46.4 249.9h0.9M54.6 252.8h0.9M46.9 253.5h0.9M52.2 255.2h0.9M40.3 255.5h0.9M39.9 253.5h0.9M55.8 249.3h0.9M34.9 251.6h0.9M39.1 257.6h0.9M30.6 261.0h0.9M55.4 251.4h0.9M44.5 251.7h0.9M48.3 255.3h0.9M48.9 255.7h0.9M58.1 252.4h0.9M48.5 252.3h0.9M43.3 253.8h0.9M42.6 254.2h0.9M36.3 252.5h0.9M38.3 248.9h0.9M37.5 251.3h0.9M41.8 247.5h0.9M41.0 249.0h0.9M36.6 253.7h0.9M51.7 254.0h0.9M39.2 251.5h0.9M53.5 247.3h0.9M51.9 247.7h0.9M38.0 253.2h0.9M41.3 258.8h0.9M46.9 252.8h0.9M50.5 253.1h0.9M36.7 256.9h0.9M54.7 257.5h0.9M33.8 259.7h0.9M39.7 255.7h0.9M52.3 261.4h0.9M30.3 249.4h0.9M52.2 254.7h0.9M40.6 242.7h0.9M46.5 252.3h0.9M22.5 262.4h0.9M23.4 251.0h0.9M43.0 253.8h0.9M48.9 252.1h0.9M36.0 251.7h0.9M26.5 249.1h0.9M58.5 250.6h0.9M42.4 259.7h0.9M51.2 253.4h0.9M48.8 252.1h0.9M35.9 256.5h0.9M44.1 258.6h0.9M40.9 251.7h0.9M45.7 252.3h0.9M40.6 249.9h0.9M45.0 254.1h0.9M57.3 252.9h0.9M29.2 254.6h0.9M60.9 251.4h0.9M36.7 252.4h0.9M20.6 251.8h0.9M41.5 247.7h0.9M47.5 249.9h0.9M28.5 250.5h0.9M48.0 259.8h0.9M52.8 253.7h0.9M39.0 252.1h0.9M50.6 251.2h0.9M46.3 256.4h0.9M35.9 250.9h0.9M46.5 253.0h0.9M42.0 251.1h0.9M42.5 259.5h0.9M53.7 247.3h0.9M43.4 253.3h0.9M43.3 248.1h0.9M42.0 253.5h0.9M37.7 254.1h0.9M23.9 247.7h0.9M43.8 254.4h0.9M41.7 251.4h0.9M44.5 256.8h0.9M50.1 252.7h0.9M39.3 256.7h0.9M47.2 256.1h0.9M40.8 250.0h0.9M44.5 250.8h0.9M52.0 256.0h0.9M25.9 255.3h0.9M53.5 256.7h0.9M39.3 250.0h0.9M50.6 256.6h0.9M43.5 248.9h0.9M31.0 253.9h0.9M36.5 250.6h0.9M46.5 256.7h0.9M26.8 250.6h0.9M53.2 252.9h0.9M40.3 255.3h0.9M34.1 248.7h0.9M43.2 258.5h0.9M51.0 253.0h0.9M50.9 251.6h0.9M33.7 247.1h0.9M45.1 256.2h0.9M45.9 252.9h0.9M39.9 256.8h0.9M42.6 247.9h0.9M53.8 250.7h0.9M46.1 253.0h0.9M51.3 253.9h0.9M52.6 253.7h0.9M39.4 251.2h0.9M48.1 250.1h0.9M50.3 252.2h0.9M35.7 249.9h0.9M41.9 259.2h0.9M49.1 253.1h0.9M35.9 259.7h0.9M40.8 253.0h0.9M39.7 257.7h0.9M44.4 251.4h0.9M44.5 249.5h0.9M34.7 252.4h0.9M20.4 257.1h0.9M58.6 249.1h0.9M41.9 247.4h0.9M44.4 253.7h0.9M48.8 248.3h0.9M38.3 250.7h0.9M41.1 261.1h0.9M41.4 252.9h0.9M39.0 255.8h0.9M63.1 257.1h0.9M55.0 249.2h0.9M51.3 253.1h0.9M52.8 256.7h0.9M48.1 247.1h0.9M44.1 251.2h0.9M46.5 253.1h0.9M51.2 247.3h0.9M37.2 252.7h0.9M45.5 251.6h0.9M42.8 253.2h0.9M51.2 252.6h0.9M44.9 246.6h0.9M22.4 247.8h0.9M45.8 244.9h0.9M46.2 252.7h0.9M43.0 250.4h0.9M39.7 255.9h0.9M45.8 252.9h0.9M39.2 253.7h0.9M52.4 252.9h0.9M40.1 248.8h0.9M43.8 249.8h0.9M31.7 256.1h0.9M38.1 245.8h0.9M37.3 259.5h0.9M42.2 248.3h0.9M34.3 255.5h0.9M46.2 253.8h0.9M35.3 299.8h0.9M45.9 299.8h0.9M35.5 285.0h0.9M39.2 308.3h0.9M40.5 286.1h0.9M37.6 306.2h0.9M32.6 299.9h0.9M43.9 308.9h0.9M26.8 282.3h0.9M38.8 301.5h0.9M34.3 295.8h0.9M34.0 305.4h0.9M23.0 298.0h0.9M28.7 290.7h0.9M27.1 288.8h0.9M36.4 296.2h0.9M47.4 294.3h0.9M38.6 298.8h0.9M38.1 307.5h0.9M37.3 297.2h0.9M35.8 296.0h0.9M36.2 303.8h0.9M36.6 296.5h0.9M36.2 302.0h0.9M33.6 303.4h0.9M33.0 301.5h0.9M48.2 297.8h0.9M36.0 286.7h0.9M41.0 296.1h0.9M42.1 290.8h0.9M39.7 310.2h0.9M39.0 293.4h0.9M28.5 295.9h0.9M40.5 300.7h0.9M29.7 287.9h0.9M30.5 288.0h0.9M34.8 298.1h0.9M48.3 297.5h0.9M45.4 283.0h0.9M45.9 302.3h0.9M39.2 302.5h0.9M40.3 311.1h0.9M41.4 282.3h0.9M25.8 308.7h0.9M36.0 306.4h0.9M34.4 290.8h0.9M34.4 298.5h0.9M37.6 291.1h0.9M39.8 300.9h0.9M30.9 287.2h0.9M24.5 293.6h0.9M36.6 290.5h0.9M32.8 294.9h0.9M36.7 300.5h0.9M41.6 299.5h0.9M43.4 288.4h0.9M40.2 298.9h0.9M30.1 290.7h0.9M39.2 296.6h0.9M28.8 291.6h0.9M45.8 302.7h0.9M37.0 306.7h0.9M30.9 294.6h0.9M42.4 293.3h0.9M29.7 300.6h0.9M46.3 276.0h0.9M37.4 286.1h0.9M34.7 284.8h0.9M52.4 290.6h0.9M36.8 290.4h0.9M30.4 292.4h0.9M37.8 309.9h0.9M38.3 308.4h0.9M30.0 296.6h0.9M33.8 283.6h0.9M59.3 294.1h0.9M38.0 290.0h0.9M33.0 287.8h0.9M42.8 292.8h0.9M35.6 297.4h0.9M29.0 297.8h0.9M35.5 299.5h0.9M34.1 296.3h0.9M39.7 303.6h0.9M32.3 303.7h0.9M30.5 294.5h0.9M37.3 297.1h0.9M21.2 288.3h0.9M35.4 303.3h0.9M32.2 307.9h0.9M25.5 296.6h0.9M39.8 296.1h0.9M38.1 303.4h0.9M31.6 300.7h0.9M43.0 294.2h0.9M22.3 286.6h0.9M31.3 287.6h0.9M39.1 289.6h0.9M51.7 300.5h0.9M28.5 293.7h0.9M45.9 301.4h0.9M30.3 304.2h0.9M33.1 300.7h0.9M40.0 292.5h0.9M35.6 305.2h0.9M39.6 295.5h0.9M39.2 309.8h0.9M42.2 299.8h0.9M38.5 283.6h0.9M37.3 292.2h0.9M41.0 291.2h0.9M39.2 287.7h0.9M42.0 290.2h0.9M36.3 300.6h0.9M34.5 296.1h0.9M43.0 310.0h0.9M25.4 288.9h0.9M40.6 303.4h0.9M33.6 296.7h0.9M35.3 286.6h0.9M27.0 285.9h0.9M44.5 292.9h0.9M48.4 301.0h0.9M38.8 301.1h0.9M41.3 303.3h0.9M30.5 291.6h0.9M33.1 296.8h0.9M35.0 286.3h0.9M32.2 310.1h0.9M49.5 289.2h0.9M38.8 295.7h0.9M31.3 301.6h0.9M36.1 309.2h0.9M39.3 293.5h0.9M20.3 295.2h0.9M41.7 290.4h0.9M41.9 301.4h0.9M25.7 294.5h0.9M38.5 302.0h0.9M37.4 295.9h0.9M34.4 293.7h0.9M36.5 287.6h0.9M40.4 293.4h0.9M39.7 292.0h0.9M39.0 297.0h0.9M42.0 299.7h0.9M42.2 294.7h0.9M36.2 293.9h0.9M28.8 295.0h0.9M43.2 302.1h0.9M31.3 298.4h0.9M41.1 285.3h0.9M38.6 298.6h0.9M41.1 298.0h0.9M25.8 280.1h0.9M48.7 292.9h0.9M44.3 306.0h0.9M37.0 287.0h0.9M44.9 295.7h0.9M39.7 299.8h0.9M42.3 304.0h0.9M27.8 284.9h0.9M37.4 296.1h0.9M41.3 294.9h0.9M44.9 305.1h0.9M42.8 289.8h0.9M36.0 295.5h0.9M29.8 289.1h0.9M37.5 286.4h0.9M39.8 299.7h0.9M35.1 293.3h0.9M40.2 299.8h0.9M38.7 286.4h0.9M32.5 293.1h0.9M25.3 289.7h0.9M32.0 302.3h0.9M20.3 285.0h0.9M34.0 292.1h0.9M31.8 292.5h0.9M26.8 298.1h0.9M43.8 297.2h0.9M33.2 305.9h0.9M39.5 287.9h0.9M33.0 291.2h0.9M36.2 305.5h0.9M32.2 294.8h0.9M37.2 286.6h0.9M33.6 300.8h0.9M43.4 281.3h0.9M40.8 293.7h0.9M44.4 300.9h0.9M48.6 298.4h0.9M34.1 289.5h0.9M27.7 300.4h0.9M39.7 302.4h0.9M38.6 284.2h0.9M34.0 294.1h0.9M37.5 302.0h0.9M45.2 298.2h0.9M23.9 288.0h0.9M23.4 290.0h0.9M29.2 297.9h0.9M35.1 304.8h0.9M43.1 292.4h0.9M42.3 296.1h0.9M39.3 306.6h0.9M29.5 295.5h0.9M45.9 290.0h0.9M37.8 297.0h0.9M34.0 285.7h0.9M32.3 288.3h0.9M43.1 298.0h0.9M40.8 286.7h0.9M39.6 297.1h0.9M42.9 290.3h0.9M41.5 306.8h0.9M47.5 288.7h0.9M29.6 284.5h0.9M42.4 300.7h0.9M38.6 289.2h0.9M44.2 308.6h0.9M36.3 295.1h0.9M43.8 300.0h0.9M44.7 292.8h0.9M38.6 293.4h0.9M33.0 293.7h0.9M34.8 300.0h0.9M34.6 296.6h0.9M31.5 286.4h0.9M45.3 288.3h0.9M47.6 303.4h0.9M22.5 291.0h0.9M34.0 296.2h0.9M35.4 291.3h0.9M44.2 295.0h0.9M42.4 290.6h0.9M32.3 306.5h0.9M34.8 287.4h0.9M35.5 304.2h0.9M35.5 290.4h0.9M40.4 303.7h0.9M35.2 293.5h0.9M35.4 309.7h0.9M35.6 299.2h0.9M24.0 297.4h0.9M36.8 293.5h0.9M34.0 285.3h0.9M27.4 297.3h0.9M32.6 295.3h0.9M35.4 292.0h0.9M32.1 310.5h0.9M29.8 292.0h0.9M34.7 287.0h0.9M30.6 302.8h0.9M42.2 297.0h0.9M56.4 302.5h0.9M44.1 289.6h0.9M43.1 309.2h0.9M34.2 310.1h0.9M31.6 287.1h0.9M36.2 289.7h0.9M40.4 287.4h0.9M37.0 280.7h0.9M36.3 304.2h0.9M34.9 298.4h0.9M43.2 287.4h0.9M28.7 296.6h0.9M38.2 293.9h0.9M30.6 305.5h0.9M29.4 294.0h0.9M36.3 301.7h0.9M33.8 289.6h0.9M48.8 289.4h0.9M41.4 294.8h0.9M33.6 295.7h0.9M35.0 298.4h0.9M20.9 295.8h0.9M37.0 288.4h0.9M47.8 301.0h0.9M37.9 293.6h0.9M45.0 292.5h0.9M31.5 301.4h0.9M30.6 289.8h0.9M45.4 283.5h0.9M36.1 296.9h0.9M38.1 284.6h0.9M35.1 293.4h0.9M48.3 303.9h0.9M31.9 302.8h0.9M40.5 295.1h0.9M35.0 293.9h0.9M27.1 291.1h0.9M42.3 307.3h0.9M47.9 293.1h0.9M40.3 277.2h0.9M34.9 286.1h0.9M41.6 283.1h0.9M30.2 287.4h0.9M39.0 302.5h0.9M30.9 310.1h0.9M37.5 289.5h0.9M38.7 295.9h0.9M41.6 298.7h0.9M49.9 305.1h0.9M32.6 302.2h0.9M41.2 288.2h0.9M31.9 289.7h0.9M21.4 301.0h0.9M35.2 305.6h0.9M33.1 296.6h0.9M41.0 303.6h0.9M38.5 287.9h0.9M50.0 302.8h0.9M44.9 308.6h0.9M45.1 299.2h0.9M39.4 300.9h0.9M27.3 302.4h0.9M30.6 299.3h0.9M30.4 301.6h0.9M37.7 300.0h0.9M31.0 293.8h0.9M36.2 293.8h0.9M33.9 289.2h0.9M41.2 293.0h0.9M31.6 298.9h0.9M31.6 294.6h0.9M33.4 288.8h0.9M35.2 289.6h0.9M28.9 298.8h0.9M34.7 284.6h0.9M34.1 297.5h0.9M39.2 298.9h0.9M38.1 300.7h0.9M33.5 289.8h0.9M40.3 292.8h0.9M36.6 301.1h0.9M42.3 305.5h0.9M32.3 293.1h0.9M39.9 284.8h0.9M28.9 300.7h0.9M32.8 288.8h0.9M41.5 300.1h0.9M42.2 293.4h0.9M34.8 293.4h0.9M38.4 280.2h0.9M32.3 301.5h0.9M31.8 295.5h0.9M37.3 300.1h0.9M33.6 287.2h0.9M51.8 290.4h0.9M47.0 282.3h0.9M37.2 294.5h0.9M42.5 288.1h0.9M31.6 290.2h0.9M33.4 298.0h0.9M31.8 294.1h0.9M45.5 307.2h0.9M25.2 288.6h0.9M34.3 306.1h0.9M34.5 310.9h0.9M38.8 307.2h0.9M31.3 293.6h0.9M42.8 300.5h0.9M25.2 293.9h0.9M37.7 300.9h0.9M32.7 309.5h0.9M37.5 307.3h0.9M39.0 296.7h0.9M34.6 286.9h0.9M41.8 301.9h0.9M42.2 293.1h0.9M30.4 293.1h0.9M34.7 295.9h0.9M42.6 288.9h0.9M33.6 301.4h0.9M39.8 289.4h0.9M30.2 289.9h0.9M37.0 298.0h0.9M36.2 291.3h0.9M35.4 295.4h0.9M40.2 296.7h0.9M31.6 286.9h0.9M45.6 295.3h0.9M35.5 295.8h0.9M43.4 293.6h0.9M37.6 294.2h0.9M40.1 288.2h0.9M37.8 304.0h0.9M43.8 300.8h0.9M38.4 308.2h0.9M40.9 306.9h0.9M29.3 287.5h0.9M41.4 294.0h0.9M33.9 288.7h0.9M45.6 286.8h0.9M37.2 285.2h0.9M51.4 292.2h0.9M30.4 308.6h0.9M31.4 282.2h0.9M38.7 287.7h0.9M27.8 304.7h0.9M32.1 287.8h0.9M37.6 294.6h0.9M43.4 296.8h0.9M46.3 304.8h0.9M47.4 304.7h0.9M37.0 300.2h0.9M36.7 284.0h0.9M29.4 301.8h0.9M22.2 289.6h0.9M28.8 295.5h0.9M30.3 297.9h0.9M35.4 292.4h0.9M31.4 278.8h0.9M37.0 286.0h0.9M34.8 298.9h0.9M43.0 301.5h0.9M45.6 285.0h0.9M40.7 308.2h0.9M39.0 287.4h0.9M39.0 292.0h0.9M32.7 304.3h0.9M35.5 287.4h0.9M32.5 311.2h0.9M31.5 301.2h0.9M37.7 305.1h0.9M34.9 288.7h0.9M32.7 288.1h0.9M52.3 297.5h0.9M34.7 305.8h0.9M40.6 294.6h0.9M40.4 298.1h0.9M43.4 308.8h0.9M34.7 295.7h0.9M35.5 305.5h0.9M38.9 302.1h0.9M42.1 291.1h0.9M37.4 306.7h0.9M42.2 302.3h0.9M34.9 293.2h0.9M31.4 293.9h0.9M36.2 284.9h0.9M43.6 290.1h0.9M38.1 300.7h0.9M33.3 282.0h0.9M42.4 299.2h0.9M35.1 304.8h0.9M42.0 288.6h0.9M36.1 282.4h0.9M35.0 306.9h0.9M31.5 302.4h0.9M27.5 293.7h0.9M42.3 309.3h0.9M39.3 301.9h0.9M47.0 277.1h0.9M26.3 310.6h0.9M51.5 300.6h0.9M37.0 298.0h0.9M36.8 291.3h0.9M36.5 295.1h0.9M40.7 301.3h0.9M42.5 300.6h0.9M30.7 306.8h0.9M20.4 296.9h0.9M38.6 291.9h0.9M47.9 287.6h0.9M29.5 292.1h0.9M39.1 302.2h0.9M37.3 301.2h0.9M32.4 291.3h0.9M37.4 285.6h0.9M37.7 293.0h0.9M40.7 288.2h0.9M33.4 291.6h0.9M34.4 288.3h0.9M35.0 285.6h0.9M39.8 301.2h0.9M36.5 294.6h0.9M31.2 288.6h0.9M35.3 289.0h0.9M29.5 297.3h0.9M36.5 292.9h0.9M31.7 295.6h0.9M32.4 292.7h0.9M37.7 301.6h0.9M41.2 291.3h0.9M43.9 287.1h0.9M35.6 306.1h0.9M50.9 297.0h0.9M34.4 293.1h0.9M29.3 294.9h0.9M34.1 290.2h0.9M43.8 290.0h0.9M46.8 302.5h0.9M40.5 291.5h0.9M33.5 280.6h0.9M38.2 293.9h0.9M38.9 290.8h0.9M39.5 284.5h0.9M23.4 299.7h0.9M43.1 271.7h0.9M44.3 293.3h0.9M35.6 284.1h0.9M30.6 301.5h0.9M32.2 295.7h0.9M35.7 311.4h0.9M41.9 285.8h0.9M33.7 287.1h0.9M28.3 290.7h0.9M43.2 296.4h0.9M40.6 295.0h0.9M34.1 296.7h0.9M36.1 310.9h0.9M47.4 298.9h0.9M40.2 280.6h0.9M31.8 302.3h0.9M43.9 292.9h0.9M35.2 292.5h0.9M41.4 296.2h0.9M45.6 305.2h0.9M34.7 291.3h0.9M35.2 289.2h0.9M34.1 295.5h0.9M41.9 283.8h0.9M28.2 290.0h0.9M34.8 299.5h0.9M31.9 307.7h0.9M33.4 294.3h0.9M36.9 305.1h0.9M38.4 296.2h0.9M33.3 297.3h0.9M39.0 293.3h0.9M36.5 281.8h0.9M33.4 305.2h0.9M45.1 295.4h0.9M23.7 310.2h0.9M34.1 303.8h0.9M32.9 306.6h0.9M43.5 287.8h0.9M35.2 286.6h0.9M38.2 292.9h0.9M27.6 287.9h0.9M38.0 284.2h0.9M43.0 299.5h0.9M35.5 306.9h0.9M31.0 301.3h0.9M28.5 293.5h0.9M40.4 291.9h0.9M35.9 301.0h0.9M45.7 306.1h0.9M39.3 294.0h0.9M27.9 309.3h0.9M47.8 279.3h0.9M41.8 295.7h0.9M40.8 298.5h0.9M35.4 296.0h0.9M36.3 305.1h0.9M35.0 291.8h0.9M40.5 301.0h0.9M39.2 298.2h0.9M49.1 282.7h0.9M43.1 272.4h0.9M45.2 259.5h0.9M39.5 268.5h0.9M42.9 271.0h0.9M53.9 279.7h0.9M44.0 291.5h0.9M42.0 271.5h0.9M48.0 280.4h0.9M46.5 283.4h0.9M40.3 268.9h0.9M38.6 274.8h0.9M46.9 265.8h0.9M39.5 263.6h0.9M51.7 280.2h0.9M43.1 264.5h0.9M37.1 269.0h0.9M42.2 264.1h0.9M41.0 283.5h0.9M42.1 274.8h0.9M32.0 271.9h0.9M41.3 268.6h0.9M35.4 273.4h0.9M37.1 269.8h0.9M34.4 273.3h0.9M46.4 267.5h0.9M43.6 262.2h0.9M44.8 278.2h0.9M40.2 280.9h0.9M37.8 274.4h0.9M50.1 273.8h0.9M36.6 283.0h0.9M44.6 271.8h0.9M33.3 259.3h0.9M34.7 285.6h0.9M43.5 267.4h0.9M47.6 285.4h0.9M38.0 277.8h0.9M34.1 276.9h0.9M50.8 263.0h0.9M42.3 269.1h0.9M41.6 274.7h0.9M43.4 280.9h0.9M44.5 282.2h0.9M46.9 282.6h0.9M38.8 277.2h0.9M40.3 267.4h0.9M51.4 276.3h0.9M42.3 257.6h0.9M40.9 280.0h0.9M41.1 269.8h0.9M49.1 271.6h0.9M40.4 273.2h0.9M40.9 282.2h0.9M44.8 273.5h0.9M40.3 272.2h0.9M50.2 271.6h0.9M45.2 261.7h0.9M43.6 279.4h0.9M48.1 276.5h0.9M44.8 276.5h0.9M47.2 290.0h0.9M43.0 267.6h0.9M44.9 273.1h0.9M45.1 280.1h0.9M42.8 270.6h0.9M43.5 264.3h0.9M43.4 267.1h0.9M44.2 275.0h0.9M41.0 264.6h0.9M42.3 268.7h0.9M41.4 279.4h0.9M46.6 263.9h0.9M46.5 284.6h0.9M47.4 276.2h0.9M41.6 287.6h0.9M40.5 262.1h0.9M42.5 276.2h0.9M37.1 264.5h0.9M51.5 274.9h0.9M45.8 269.4h0.9M34.8 272.6h0.9M48.5 268.8h0.9M33.5 272.7h0.9M40.7 274.1h0.9M37.1 271.6h0.9M39.4 280.9h0.9M42.8 280.8h0.9M41.8 257.3h0.9M32.7 278.2h0.9M46.2 280.8h0.9M41.7 260.1h0.9M39.7 277.2h0.9M48.6 271.3h0.9M39.4 268.0h0.9M46.9 280.8h0.9M33.3 283.5h0.9M37.6 262.5h0.9M34.4 268.3h0.9M53.1 293.9h0.9M69.7 281.6h0.9M56.4 244.7h0.9M74.0 291.0h0.9M72.7 256.6h0.9M66.6 294.1h0.9M71.8 304.4h0.9M53.0 294.6h0.9M50.5 283.6h0.9M68.2 243.4h0.9M64.2 286.8h0.9M79.5 243.6h0.9M67.3 296.1h0.9M54.0 303.2h0.9M81.9 263.0h0.9M57.1 248.6h0.9M57.5 268.6h0.9M74.0 306.4h0.9M69.0 307.6h0.9M64.5 286.0h0.9M50.0 268.6h0.9M50.8 247.6h0.9M77.5 246.4h0.9M60.2 276.4h0.9M67.9 240.2h0.9M53.8 287.4h0.9M63.8 244.7h0.9M66.3 265.2h0.9M84.0 241.5h0.9M56.1 243.5h0.9M68.7 308.1h0.9M76.4 246.2h0.9M68.3 264.1h0.9M83.2 289.6h0.9M70.5 256.7h0.9M64.8 276.4h0.9M62.9 279.2h0.9M53.1 268.7h0.9M83.6 267.1h0.9M67.2 293.0h0.9M77.6 291.8h0.9M63.0 290.0h0.9M56.8 283.0h0.9M50.5 252.1h0.9M56.0 263.7h0.9M75.1 239.5h0.9M45.9 288.3h0.9M48.4 309.7h0.9M37.3 307.0h0.9M48.0 297.2h0.9M45.2 286.9h0.9M42.8 302.2h0.9M42.6 289.7h0.9M19.7 299.1h0.9M37.0 303.2h0.9M22.9 300.2h0.9M49.0 292.3h0.9M44.1 310.0h0.9M39.2 297.0h0.9M30.8 297.7h0.9M21.1 287.9h0.9M26.2 290.3h0.9M46.7 295.1h0.9M45.9 300.1h0.9M46.6 308.4h0.9M40.5 297.2h0.9M25.0 300.1h0.9M27.3 306.7h0.9M18.4 301.9h0.9M28.2 296.5h0.9M34.9 310.6h0.9M49.8 294.9h0.9M48.6 309.9h0.9M34.4 300.1h0.9M23.5 305.7h0.9M33.0 305.1h0.9M47.4 301.6h0.9M39.9 299.7h0.9M21.3 297.5h0.9M19.1 290.5h0.9M49.4 295.5h0.9M21.5 296.9h0.9M19.0 301.2h0.9M24.5 291.4h0.9M38.0 309.1h0.9M17.4 303.9h0.9" stroke="#000" stroke-width="0.9" stroke-opacity="0.42" fill="none"/>
<text x="18.7" y="231.7" font-size="8.2" stroke="#000" stroke-width="0.3" textLength="14.4" lengthAdjust="spacingAndGlyphs" >24.1</text>
<text x="98.9" y="231.6" font-size="8.2" stroke="#000" stroke-width="0.3" text-anchor="end" textLength="10.2" lengthAdjust="spacingAndGlyphs" >3.2</text>
<text x="99.6" y="311" font-size="8.2" stroke="#000" stroke-width="0.3" text-anchor="end" textLength="10.6" lengthAdjust="spacingAndGlyphs" >0.8</text>
<text x="19" y="311" font-size="5.4" stroke="#000" stroke-width="0.3" font-style="italic">71 8</text>
<line x1="8" y1="64.4" x2="8" y2="146.3" stroke="#000" stroke-width="1.4" />
<line x1="8" y1="187" x2="8" y2="307.3" stroke="#000" stroke-width="1.4" />
<text transform="translate(14.3 181.7) rotate(-90)" font-size="17" stroke="#000" stroke-width="0.3" font-weight="bold" textLength="32" lengthAdjust="spacingAndGlyphs" >CD4</text>
<line x1="13.5" y1="320.7" x2="43.3" y2="320.7" stroke="#000" stroke-width="1.1" />
<line x1="71.5" y1="320.7" x2="97" y2="320.7" stroke="#000" stroke-width="1.1" />
<text x="44.6" y="323.7" font-size="9.4" stroke="#000" stroke-width="0.3" textLength="26.2" lengthAdjust="spacingAndGlyphs" >Foxp3</text>
<text x="109.7" y="14.5" font-size="17.6" stroke="#000" stroke-width="0.3" font-weight="bold" >B</text>
<text x="138.5" y="21.3" font-size="9.4" stroke="#000" stroke-width="0.3" textLength="49" lengthAdjust="spacingAndGlyphs" >CD8 T cells</text>
<line x1="120.8" y1="23.6" x2="202.8" y2="23.6" stroke="#6a6a6a" stroke-width="1.0" />
<line x1="120.8" y1="23.6" x2="120.8" y2="107" stroke="#6a6a6a" stroke-width="1.0" />
<line x1="202.8" y1="23.6" x2="202.8" y2="107" stroke="#6a6a6a" stroke-width="1.0" />
<line x1="120.8" y1="107" x2="202.8" y2="107" stroke="#333" stroke-width="1.0" />
<polyline points="172,102.8 142.4,102.8 142.4,25.7 200.6,25.7 200.6,102.4" fill="none" stroke="#6a6a6a" stroke-width="0.9"/>
<path d="M128.5 59.4h1.0M131.3 60.8h1.0M129.4 62.7h1.0M126.5 66.5h1.0M128.4 64.1h1.0M133.8 57.0h1.0M127.9 60.7h1.0M132.6 59.7h1.0M131.8 60.9h1.0M128.2 60.7h1.0M138.8 59.2h1.0M128.6 62.0h1.0M135.9 62.8h1.0M129.8 60.4h1.0M132.4 60.2h1.0M133.0 62.9h1.0M133.4 60.6h1.0M131.1 64.4h1.0M127.9 64.8h1.0M134.0 60.8h1.0M129.4 64.5h1.0M135.5 62.5h1.0M138.3 56.8h1.0M132.1 59.9h1.0M129.5 60.8h1.0M133.4 61.7h1.0M131.3 57.8h1.0M133.5 61.9h1.0M138.4 62.6h1.0M131.8 58.2h1.0M140.3 59.2h1.0M132.4 62.2h1.0M133.3 63.4h1.0M128.5 59.1h1.0M132.3 58.0h1.0M129.8 63.5h1.0M132.7 60.4h1.0M130.0 60.7h1.0M131.6 58.3h1.0M134.2 57.9h1.0M135.8 59.9h1.0M124.6 57.3h1.0M132.7 58.8h1.0M137.4 63.5h1.0M138.4 62.5h1.0M136.0 59.3h1.0M135.9 59.7h1.0M131.6 57.7h1.0M131.9 61.5h1.0M131.5 58.2h1.0M134.6 62.5h1.0M131.5 62.3h1.0M134.9 58.5h1.0M131.6 56.6h1.0M128.5 61.5h1.0M129.0 61.4h1.0M132.9 56.2h1.0M130.2 63.8h1.0M131.8 60.9h1.0M129.5 57.2h1.0M126.7 66.7h1.0M131.2 58.7h1.0M132.1 56.5h1.0M136.2 64.3h1.0M129.4 61.3h1.0M128.9 62.4h1.0M129.1 60.3h1.0M135.9 61.7h1.0M130.7 57.4h1.0M126.7 63.2h1.0M133.4 60.7h1.0M135.7 60.9h1.0M129.4 60.4h1.0M131.4 60.6h1.0M139.7 61.8h1.0M132.6 60.1h1.0M129.6 58.5h1.0M125.7 59.6h1.0M126.9 56.6h1.0M128.7 56.3h1.0M136.1 63.3h1.0M128.6 65.0h1.0M133.8 55.2h1.0M131.8 58.5h1.0M126.2 60.0h1.0M135.4 61.6h1.0M127.1 59.2h1.0M129.3 63.1h1.0M131.4 58.5h1.0M128.8 56.4h1.0M129.0 62.5h1.0M125.6 61.0h1.0M131.4 62.4h1.0M128.1 62.6h1.0M136.7 65.5h1.0M126.5 60.5h1.0M131.1 60.9h1.0M128.6 62.4h1.0M139.2 63.8h1.0M128.7 59.4h1.0M134.1 60.9h1.0M129.3 63.3h1.0M133.4 62.8h1.0M131.2 63.3h1.0M130.2 58.2h1.0M131.7 57.6h1.0M135.7 62.2h1.0M126.3 61.0h1.0M134.4 59.8h1.0M133.1 59.3h1.0M131.5 60.4h1.0M133.3 58.5h1.0M128.1 61.3h1.0M130.1 61.7h1.0M130.1 57.8h1.0M134.1 61.2h1.0M134.1 59.9h1.0M130.6 63.3h1.0M126.3 64.3h1.0M133.4 60.5h1.0M132.0 61.9h1.0M129.2 61.2h1.0M128.7 56.6h1.0M132.4 60.8h1.0M133.8 61.8h1.0M134.0 62.3h1.0M128.3 63.2h1.0M140.3 59.4h1.0M127.7 62.1h1.0M134.7 62.8h1.0M136.7 57.6h1.0M132.9 61.6h1.0M135.7 58.7h1.0M131.8 59.8h1.0M131.2 60.3h1.0M131.2 56.8h1.0M131.6 60.7h1.0M130.5 52.9h1.0M129.5 59.2h1.0M128.9 64.1h1.0M134.7 60.2h1.0M133.6 67.7h1.0M128.6 61.6h1.0M129.8 63.8h1.0M135.3 60.3h1.0M133.7 58.9h1.0M126.6 62.4h1.0M137.0 59.9h1.0M130.0 56.7h1.0M138.6 58.0h1.0M128.6 60.2h1.0M135.6 60.7h1.0M131.6 60.6h1.0M134.4 60.5h1.0M132.2 60.4h1.0M128.1 63.5h1.0M129.5 57.8h1.0M130.3 60.7h1.0M134.3 57.4h1.0M127.6 61.0h1.0M132.9 58.2h1.0M128.1 61.0h1.0M131.2 57.1h1.0M128.9 63.8h1.0M128.3 62.9h1.0M126.8 63.8h1.0M136.9 59.2h1.0M129.5 62.0h1.0M127.7 61.8h1.0M135.6 61.2h1.0M132.7 60.3h1.0M134.9 58.8h1.0M136.8 60.5h1.0M130.7 57.1h1.0M130.3 61.1h1.0M135.7 57.1h1.0M131.3 59.1h1.0M127.9 60.6h1.0M129.3 62.5h1.0M123.0 62.2h1.0M125.6 56.4h1.0M133.4 59.9h1.0M132.1 58.5h1.0M128.3 59.0h1.0M131.5 58.8h1.0M130.4 58.7h1.0M132.5 58.1h1.0M125.0 54.9h1.0M131.6 60.8h1.0M134.8 59.0h1.0M128.0 57.4h1.0M134.1 59.3h1.0M134.9 60.4h1.0M130.8 56.6h1.0M129.5 62.3h1.0M129.7 62.1h1.0M126.4 62.8h1.0M140.6 63.0h1.0M132.7 57.9h1.0M130.0 59.2h1.0M132.3 56.2h1.0M128.9 62.3h1.0M132.2 62.2h1.0M134.4 58.1h1.0M127.4 61.6h1.0M131.8 60.8h1.0M129.1 62.8h1.0M133.3 63.1h1.0M130.6 62.1h1.0M131.5 58.6h1.0M131.4 57.0h1.0M131.1 61.0h1.0M133.9 58.3h1.0M127.4 59.0h1.0M125.0 59.2h1.0M140.1 60.9h1.0M129.3 59.1h1.0M137.4 58.1h1.0M131.3 60.4h1.0M129.3 59.0h1.0M126.3 58.8h1.0M135.9 63.7h1.0M130.8 62.1h1.0M133.2 60.8h1.0M131.3 63.2h1.0M133.5 60.1h1.0M130.9 62.6h1.0M129.8 59.1h1.0M130.8 59.5h1.0M135.8 61.4h1.0M131.4 59.5h1.0M136.2 61.6h1.0M138.4 62.6h1.0M131.0 59.4h1.0M130.8 61.0h1.0M134.2 61.6h1.0M136.7 57.3h1.0M131.8 57.5h1.0M128.4 59.3h1.0M129.6 58.5h1.0M126.8 63.1h1.0M130.7 62.7h1.0M128.2 55.6h1.0M129.8 62.5h1.0M129.9 61.5h1.0M128.2 63.6h1.0M133.1 62.9h1.0M130.8 63.4h1.0M131.9 59.5h1.0M129.6 60.7h1.0M128.8 58.0h1.0M132.1 62.1h1.0M130.8 62.4h1.0M136.8 57.9h1.0M132.5 58.5h1.0M129.6 61.0h1.0M124.1 61.9h1.0M134.4 61.8h1.0M133.8 64.5h1.0M130.5 63.0h1.0M136.3 61.7h1.0M126.0 60.3h1.0M130.8 57.1h1.0M131.5 62.2h1.0M130.9 60.2h1.0M136.4 59.3h1.0M128.7 60.7h1.0M135.3 61.9h1.0M131.9 59.5h1.0M135.7 62.5h1.0M126.1 61.3h1.0M124.0 63.8h1.0M133.7 59.2h1.0M127.6 59.9h1.0M126.1 61.8h1.0M130.1 56.8h1.0M131.6 63.1h1.0M127.6 59.8h1.0M137.5 61.0h1.0M129.9 61.0h1.0M134.2 58.4h1.0M131.4 57.1h1.0M126.6 57.3h1.0M134.4 61.3h1.0M134.0 63.2h1.0M131.8 61.1h1.0M133.0 61.6h1.0M128.3 60.0h1.0M131.2 60.7h1.0M129.3 60.3h1.0M132.6 61.0h1.0M133.6 62.4h1.0M133.5 62.7h1.0M134.4 63.6h1.0M133.7 59.3h1.0M139.2 63.0h1.0M135.7 62.2h1.0M131.9 58.1h1.0M133.1 59.8h1.0M130.4 56.0h1.0M136.7 58.1h1.0M128.2 61.6h1.0M133.5 58.9h1.0M131.7 61.1h1.0M132.2 61.7h1.0M134.2 59.8h1.0M126.5 65.3h1.0M130.5 58.5h1.0M134.1 61.9h1.0M129.7 65.7h1.0M124.2 63.4h1.0M131.6 61.3h1.0M132.7 60.1h1.0M132.7 57.8h1.0M130.4 64.6h1.0M123.4 63.3h1.0M124.5 58.8h1.0M134.5 59.7h1.0M129.8 57.4h1.0M131.3 60.2h1.0M129.6 57.2h1.0M132.2 61.5h1.0M135.4 61.7h1.0M136.6 63.2h1.0M122.6 64.2h1.0M131.4 58.3h1.0M133.1 62.7h1.0M126.7 57.9h1.0M133.9 59.4h1.0M136.4 61.1h1.0M129.9 57.7h1.0M133.6 56.9h1.0M127.5 57.8h1.0M137.2 64.3h1.0M131.0 59.8h1.0M133.9 63.3h1.0M129.1 65.3h1.0M131.0 63.0h1.0M124.1 60.5h1.0M129.5 64.9h1.0M131.0 57.8h1.0M138.0 59.1h1.0M131.7 57.9h1.0M133.9 61.0h1.0M130.8 59.7h1.0M129.9 59.0h1.0M127.2 63.2h1.0M134.6 57.6h1.0M128.0 61.5h1.0M139.0 60.2h1.0M130.7 60.1h1.0M132.5 60.2h1.0M135.2 62.7h1.0M133.5 64.0h1.0M131.0 59.4h1.0M141.3 56.4h1.0M126.7 55.5h1.0M132.8 58.3h1.0M135.1 56.1h1.0M131.3 59.8h1.0M128.2 63.0h1.0M130.4 61.6h1.0M130.0 60.9h1.0M130.3 60.8h1.0M131.4 59.1h1.0M133.1 60.2h1.0M128.6 58.3h1.0M133.1 63.5h1.0M127.5 59.7h1.0M133.1 62.8h1.0M134.0 58.0h1.0M131.8 62.5h1.0M132.5 60.1h1.0M127.9 61.0h1.0M131.5 60.7h1.0M136.5 63.2h1.0M129.1 61.1h1.0M130.7 60.8h1.0M136.9 62.6h1.0M131.8 59.2h1.0M131.2 61.4h1.0M130.1 63.0h1.0M131.8 58.0h1.0M138.3 54.3h1.0M130.8 60.3h1.0M134.9 63.0h1.0M136.4 64.0h1.0M132.7 60.8h1.0M135.0 60.5h1.0M127.6 59.6h1.0M133.8 61.9h1.0M128.1 63.2h1.0M132.7 57.4h1.0M133.2 62.8h1.0M133.4 59.9h1.0M129.1 63.0h1.0M132.4 60.6h1.0M130.4 58.4h1.0M125.7 59.9h1.0M135.3 62.2h1.0M129.5 63.9h1.0M131.0 58.4h1.0M134.8 63.6h1.0M130.4 58.0h1.0M131.5 55.4h1.0M131.9 63.9h1.0M132.6 59.0h1.0M134.0 59.5h1.0M135.8 59.8h1.0M138.3 59.8h1.0M132.3 58.6h1.0M127.6 61.3h1.0M132.8 58.5h1.0M133.5 59.7h1.0M129.9 60.4h1.0M133.0 62.2h1.0M135.7 61.4h1.0M129.4 59.1h1.0M132.9 58.0h1.0M131.2 59.8h1.0M131.4 61.0h1.0M135.0 64.1h1.0M134.5 62.8h1.0M128.3 62.8h1.0M135.9 57.7h1.0M139.8 59.4h1.0M124.0 64.4h1.0M131.9 58.9h1.0M129.9 62.9h1.0M132.5 59.8h1.0M135.4 58.6h1.0M129.0 59.4h1.0M129.3 62.1h1.0M131.0 58.3h1.0M130.2 56.3h1.0M132.2 60.8h1.0M133.7 60.1h1.0M133.0 58.6h1.0M131.8 60.9h1.0M127.8 61.9h1.0M132.2 60.7h1.0M130.2 64.9h1.0M131.7 58.9h1.0M129.0 61.9h1.0M131.0 58.9h1.0M129.4 62.6h1.0M132.0 62.9h1.0M131.6 58.1h1.0M134.5 61.3h1.0M129.6 59.9h1.0M128.6 62.4h1.0M130.4 61.6h1.0M132.5 60.0h1.0M132.9 60.1h1.0M127.9 59.7h1.0M127.9 62.2h1.0M133.8 59.3h1.0M133.7 61.1h1.0M134.8 58.6h1.0M131.8 58.5h1.0M129.5 63.5h1.0M125.3 58.6h1.0M133.3 62.3h1.0M129.2 56.2h1.0M126.2 61.4h1.0M135.2 62.6h1.0M129.4 63.5h1.0M131.1 61.9h1.0M131.1 64.0h1.0M130.0 56.0h1.0M130.7 61.0h1.0M132.6 59.1h1.0M131.0 58.2h1.0M130.9 60.8h1.0M132.5 64.1h1.0M125.3 61.7h1.0M133.1 58.1h1.0M131.9 60.6h1.0M128.5 62.1h1.0M137.8 62.0h1.0M134.2 62.9h1.0M131.3 62.7h1.0M129.1 61.0h1.0M134.0 63.4h1.0M130.8 60.0h1.0M133.2 60.4h1.0M132.1 62.3h1.0M129.3 62.5h1.0M132.9 60.0h1.0M127.7 59.2h1.0M131.6 62.6h1.0M125.4 62.1h1.0M132.3 58.2h1.0M134.4 61.4h1.0M133.1 58.5h1.0M128.2 62.5h1.0M136.2 61.4h1.0M131.1 59.6h1.0M126.2 62.7h1.0M131.4 63.2h1.0M129.4 62.8h1.0M129.4 61.9h1.0M136.1 59.1h1.0M134.6 60.6h1.0M128.7 61.0h1.0M133.8 59.1h1.0M130.9 59.4h1.0M129.3 60.2h1.0M134.3 59.5h1.0M135.7 59.8h1.0M129.5 62.9h1.0M136.2 59.2h1.0M133.6 58.1h1.0M130.4 59.8h1.0M133.9 57.9h1.0M130.1 59.1h1.0M132.0 58.0h1.0M127.5 66.6h1.0M132.4 57.4h1.0M134.3 57.8h1.0M125.7 64.2h1.0M135.7 58.8h1.0M128.2 61.6h1.0M138.1 61.9h1.0M133.8 58.1h1.0M126.1 61.4h1.0M134.9 60.9h1.0M131.7 63.5h1.0M129.0 62.9h1.0M134.3 59.3h1.0M132.1 60.8h1.0M133.5 58.5h1.0M131.0 60.8h1.0M131.8 60.6h1.0M132.5 60.2h1.0M130.1 62.8h1.0M129.7 59.9h1.0M128.9 58.2h1.0M133.1 60.5h1.0M131.3 61.6h1.0M131.2 62.0h1.0M137.4 61.3h1.0M130.9 64.1h1.0M133.9 57.1h1.0M135.9 61.0h1.0M134.4 58.2h1.0M129.0 59.2h1.0M133.4 58.2h1.0M129.5 62.6h1.0M129.7 60.8h1.0M128.9 57.0h1.0M131.4 60.3h1.0M127.2 62.7h1.0M134.3 62.5h1.0M130.1 58.2h1.0M131.4 60.9h1.0M131.2 59.4h1.0M128.6 59.0h1.0M131.4 59.6h1.0M136.9 60.0h1.0M133.1 59.6h1.0M131.1 58.5h1.0M130.2 57.4h1.0M125.2 63.4h1.0M128.4 61.5h1.0M131.3 59.4h1.0M134.0 59.4h1.0M133.1 59.8h1.0M134.7 62.6h1.0M131.9 62.9h1.0M133.3 63.9h1.0M131.3 57.3h1.0M132.4 61.1h1.0M130.6 60.2h1.0M130.8 58.0h1.0M137.1 59.0h1.0M128.3 57.3h1.0M129.1 60.5h1.0M136.3 61.9h1.0M129.4 58.0h1.0M128.2 60.4h1.0M134.4 59.6h1.0M136.7 64.7h1.0M132.2 56.0h1.0M135.1 60.4h1.0M133.8 62.7h1.0M128.5 60.7h1.0M132.2 59.0h1.0M133.9 60.3h1.0M130.4 64.6h1.0M132.2 64.0h1.0M131.2 62.8h1.0M129.3 60.9h1.0M135.1 56.0h1.0M133.4 60.0h1.0M135.1 61.0h1.0M131.5 57.9h1.0M140.9 59.0h1.0M130.7 59.1h1.0M130.7 61.1h1.0M127.5 62.8h1.0M130.9 61.9h1.0M125.1 59.5h1.0M130.8 59.8h1.0M129.6 61.2h1.0M133.0 58.5h1.0M125.5 62.1h1.0M130.7 62.8h1.0M134.4 60.4h1.0M127.2 59.8h1.0M129.4 63.2h1.0M126.4 62.5h1.0M126.9 59.4h1.0M127.3 59.1h1.0M130.3 61.4h1.0M129.8 62.0h1.0M137.2 60.9h1.0M128.1 60.2h1.0M131.4 59.8h1.0M135.3 63.0h1.0M137.9 61.7h1.0M123.4 60.3h1.0M133.8 58.9h1.0M129.8 62.5h1.0M132.1 58.2h1.0M129.9 54.1h1.0M131.7 58.0h1.0M131.5 58.1h1.0M128.8 59.5h1.0M140.4 58.1h1.0M128.0 59.5h1.0M135.0 62.3h1.0M133.9 59.9h1.0M132.1 59.0h1.0M131.1 58.9h1.0M127.1 58.5h1.0M137.7 61.4h1.0M129.3 60.4h1.0M130.3 63.2h1.0M131.6 59.3h1.0M133.8 61.3h1.0M129.5 59.0h1.0M132.1 57.1h1.0M128.8 62.7h1.0M134.4 62.9h1.0M130.3 59.3h1.0M130.8 59.6h1.0M135.7 60.1h1.0M135.9 59.1h1.0M132.8 64.0h1.0M129.4 59.2h1.0M129.8 57.2h1.0M130.7 59.2h1.0M138.6 59.6h1.0M125.0 62.6h1.0M134.6 60.5h1.0M132.6 62.1h1.0M129.9 60.7h1.0M132.1 64.1h1.0M136.1 60.9h1.0M127.5 62.5h1.0M131.5 63.0h1.0M131.8 61.0h1.0M133.7 59.1h1.0M129.6 65.4h1.0M129.0 62.6h1.0M133.8 62.3h1.0M135.9 57.8h1.0M134.6 56.3h1.0M131.8 61.3h1.0M134.9 62.9h1.0M128.8 60.0h1.0M131.2 59.1h1.0M129.1 59.2h1.0M135.2 63.5h1.0M134.0 64.1h1.0M131.9 58.3h1.0M129.6 61.0h1.0M134.9 63.1h1.0M128.9 62.6h1.0M130.0 61.8h1.0M134.5 63.7h1.0M130.0 61.1h1.0M133.0 59.7h1.0M131.9 61.8h1.0M126.5 59.2h1.0M138.8 61.5h1.0M129.9 56.7h1.0M128.7 61.7h1.0M133.8 61.5h1.0M133.5 59.3h1.0M136.6 58.2h1.0M133.2 60.0h1.0M126.3 62.5h1.0M130.8 62.1h1.0M135.6 60.9h1.0M129.6 60.1h1.0M131.4 63.6h1.0M134.3 63.9h1.0M134.0 59.0h1.0M134.5 62.6h1.0M131.3 61.6h1.0M130.7 57.9h1.0M131.4 62.2h1.0M130.5 55.9h1.0M129.2 62.9h1.0M132.4 63.0h1.0M129.3 59.7h1.0M128.5 59.0h1.0M133.2 60.9h1.0M130.1 61.2h1.0M127.6 59.8h1.0M127.0 57.4h1.0M127.4 58.3h1.0M136.6 63.5h1.0M135.6 59.4h1.0M133.6 58.2h1.0M130.0 61.1h1.0M126.7 61.0h1.0M133.6 56.2h1.0M124.0 60.0h1.0M131.3 60.9h1.0M128.1 61.8h1.0M132.0 59.0h1.0M136.8 61.1h1.0M134.0 64.5h1.0M130.1 60.1h1.0M126.2 60.1h1.0M133.0 65.9h1.0M133.4 61.0h1.0M127.7 58.8h1.0M125.9 57.7h1.0M132.0 61.2h1.0M128.8 60.1h1.0M129.1 61.9h1.0M133.6 59.4h1.0M130.2 58.0h1.0M130.2 65.2h1.0M131.6 62.4h1.0M133.5 63.7h1.0M130.6 58.7h1.0M134.9 62.5h1.0M129.6 62.9h1.0M131.6 60.5h1.0M137.4 61.7h1.0M132.6 59.9h1.0M132.3 62.8h1.0M133.1 59.0h1.0M133.0 60.3h1.0M132.6 60.2h1.0M124.8 57.2h1.0M130.4 55.9h1.0M127.0 64.9h1.0M133.8 59.6h1.0M132.7 55.8h1.0M132.4 62.7h1.0M132.2 57.8h1.0M134.7 59.5h1.0M129.9 61.0h1.0M130.7 64.9h1.0M131.2 65.2h1.0M133.1 58.0h1.0M131.6 60.7h1.0M136.1 63.3h1.0M139.6 59.2h1.0M130.3 65.6h1.0M128.8 61.4h1.0M136.7 58.4h1.0M130.6 59.0h1.0M133.3 61.5h1.0M131.5 62.0h1.0M129.2 59.8h1.0M133.1 64.9h1.0M131.5 60.7h1.0M135.7 60.8h1.0M135.7 61.1h1.0M135.3 61.0h1.0M128.8 58.8h1.0M133.0 64.6h1.0M137.5 59.9h1.0M139.5 58.2h1.0M129.0 62.6h1.0M126.9 62.5h1.0M132.8 61.9h1.0M127.9 61.4h1.0M134.6 60.5h1.0M134.9 60.7h1.0M132.7 59.9h1.0M127.4 60.3h1.0M133.2 59.0h1.0M125.5 57.3h1.0M135.8 60.1h1.0M129.3 63.2h1.0M131.1 57.4h1.0M130.3 58.7h1.0M131.1 58.6h1.0M131.9 61.6h1.0M129.9 60.2h1.0M131.2 62.4h1.0M129.4 62.2h1.0M135.6 60.2h1.0M128.6 59.9h1.0M126.1 59.4h1.0M127.9 60.2h1.0M130.5 61.7h1.0M132.0 61.5h1.0M131.5 61.2h1.0M128.1 62.0h1.0M135.7 63.0h1.0M127.4 61.5h1.0M126.5 62.2h1.0M131.0 59.6h1.0M129.3 60.1h1.0M131.6 58.5h1.0M131.8 61.2h1.0M133.3 60.5h1.0M131.6 65.6h1.0M134.8 61.3h1.0M127.3 61.9h1.0M133.5 54.9h1.0M131.1 61.4h1.0M131.8 60.8h1.0M131.2 63.6h1.0M132.9 60.0h1.0M130.9 65.1h1.0M128.9 59.5h1.0M132.7 60.9h1.0M132.6 63.5h1.0M135.2 61.5h1.0M131.8 60.5h1.0M130.9 62.8h1.0M127.7 58.4h1.0M130.2 58.5h1.0M129.3 63.2h1.0M124.6 61.8h1.0M127.5 60.1h1.0M129.8 58.5h1.0M127.0 60.8h1.0M122.3 56.0h1.0M130.4 63.0h1.0M137.5 60.0h1.0M129.1 60.0h1.0M133.1 62.6h1.0M128.7 61.6h1.0M131.6 63.1h1.0M130.4 60.2h1.0M129.0 57.8h1.0M132.5 62.1h1.0M135.2 61.2h1.0M130.2 58.6h1.0M128.0 59.0h1.0M132.7 60.8h1.0M124.4 60.4h1.0M130.8 58.4h1.0M131.6 61.7h1.0M128.4 57.7h1.0M130.6 61.2h1.0M130.9 63.9h1.0M132.1 58.4h1.0M134.1 59.2h1.0M133.8 60.8h1.0M135.6 58.5h1.0M133.9 61.5h1.0M128.8 62.1h1.0M138.8 61.4h1.0M129.2 60.3h1.0M135.8 61.2h1.0M136.3 59.2h1.0M135.8 57.2h1.0M131.1 60.0h1.0M130.1 63.2h1.0M129.8 61.4h1.0M137.5 62.4h1.0M130.4 59.0h1.0M125.3 61.4h1.0M134.5 63.0h1.0M132.4 65.2h1.0M134.1 55.6h1.0M128.9 62.3h1.0M130.4 62.4h1.0M139.8 59.0h1.0M138.7 60.4h1.0M127.0 60.8h1.0M134.5 59.4h1.0M136.7 58.7h1.0M131.1 62.6h1.0M131.0 59.4h1.0M131.6 62.0h1.0M137.2 63.5h1.0M137.6 60.5h1.0M126.4 60.5h1.0M130.4 58.5h1.0M130.0 60.5h1.0M131.8 62.6h1.0M128.8 63.1h1.0M131.8 62.2h1.0M135.6 57.9h1.0M136.8 59.1h1.0M133.0 62.9h1.0M134.6 57.2h1.0M132.2 63.0h1.0M131.3 60.4h1.0M131.9 64.1h1.0M130.0 58.6h1.0M128.2 59.5h1.0M130.9 61.3h1.0M131.4 56.9h1.0M126.7 62.1h1.0M134.0 57.7h1.0M134.7 55.4h1.0M139.1 61.9h1.0M126.4 61.7h1.0M131.6 59.6h1.0M130.5 60.1h1.0M131.4 58.7h1.0M129.9 61.8h1.0M133.4 57.7h1.0M130.1 64.0h1.0M134.0 64.2h1.0M127.4 58.4h1.0M124.8 56.4h1.0M130.5 58.3h1.0M128.2 59.1h1.0M131.1 62.4h1.0M133.5 56.8h1.0M136.5 59.9h1.0M128.5 60.5h1.0M130.4 57.6h1.0M136.7 59.4h1.0M129.8 61.8h1.0M137.1 61.6h1.0M128.8 61.5h1.0M135.2 61.4h1.0M133.8 59.6h1.0M131.5 57.0h1.0M129.4 58.2h1.0M131.7 63.8h1.0M124.5 57.8h1.0M128.7 60.4h1.0M135.4 58.9h1.0M129.2 63.2h1.0M132.9 61.7h1.0M134.4 59.0h1.0M132.4 59.2h1.0M129.4 60.9h1.0M133.1 57.9h1.0M129.2 61.9h1.0M132.2 62.0h1.0M130.7 58.9h1.0M134.2 61.9h1.0M122.6 62.5h1.0M129.3 62.0h1.0M136.7 60.0h1.0M128.6 61.2h1.0M132.0 61.8h1.0M127.2 61.1h1.0M134.6 62.1h1.0M133.7 63.2h1.0M129.0 63.2h1.0M132.4 58.5h1.0M130.7 61.2h1.0M132.8 63.5h1.0M132.3 59.5h1.0M138.7 59.9h1.0M129.1 62.6h1.0M130.4 58.9h1.0M128.3 63.2h1.0M128.3 60.8h1.0M130.2 60.2h1.0M129.1 60.9h1.0M133.6 62.9h1.0M130.5 58.1h1.0M126.9 60.6h1.0M123.7 63.5h1.0M131.8 60.9h1.0M127.2 59.2h1.0M129.3 62.1h1.0M130.4 61.9h1.0M133.4 56.5h1.0M130.9 63.3h1.0M130.1 60.9h1.0M131.3 58.0h1.0M138.7 60.3h1.0M133.7 59.6h1.0M136.2 63.1h1.0M135.5 62.7h1.0M134.0 63.6h1.0M133.0 60.9h1.0M134.3 58.7h1.0M123.5 62.4h1.0M132.2 59.1h1.0M130.8 58.6h1.0M129.0 61.0h1.0M132.1 62.4h1.0M131.4 62.0h1.0M133.9 59.1h1.0M126.3 59.1h1.0M130.9 59.5h1.0M138.8 59.1h1.0M133.2 59.0h1.0M134.7 56.8h1.0M135.8 61.2h1.0M130.0 57.0h1.0M138.9 58.9h1.0M137.9 53.4h1.0M126.5 66.1h1.0M139.4 60.7h1.0M136.0 62.5h1.0M130.2 61.0h1.0M126.7 56.6h1.0M132.2 62.8h1.0M132.4 57.0h1.0M135.4 60.9h1.0M134.9 59.8h1.0M130.6 63.8h1.0M137.6 57.0h1.0M126.9 63.5h1.0M133.3 60.8h1.0M127.5 63.7h1.0M132.5 61.3h1.0M133.4 59.1h1.0M133.4 61.0h1.0M134.8 61.8h1.0M126.2 58.5h1.0M130.5 64.1h1.0M128.9 64.0h1.0M136.4 63.3h1.0M141.4 60.6h1.0M133.1 64.3h1.0M133.5 63.6h1.0M131.1 64.9h1.0M133.2 54.9h1.0M136.4 60.1h1.0M127.9 59.7h1.0M130.5 64.1h1.0M133.1 60.4h1.0M131.6 58.0h1.0M128.9 59.2h1.0M130.7 57.2h1.0M130.0 63.6h1.0M133.7 60.6h1.0M133.2 59.9h1.0M126.6 63.3h1.0M141.4 62.2h1.0M134.7 68.0h1.0M126.5 62.2h1.0M130.2 59.8h1.0M124.6 60.4h1.0M133.4 55.9h1.0M130.7 59.2h1.0M127.4 62.5h1.0M138.8 61.9h1.0M136.1 62.9h1.0M131.4 62.4h1.0M137.4 59.4h1.0M131.1 56.5h1.0M123.7 58.2h1.0M135.6 61.7h1.0M132.8 64.6h1.0M124.1 64.8h1.0M132.1 63.0h1.0M137.7 58.2h1.0M127.9 61.8h1.0M131.5 58.9h1.0M131.2 58.5h1.0M132.3 59.5h1.0M139.0 57.5h1.0M134.2 60.9h1.0M138.5 57.8h1.0M129.7 65.8h1.0M128.9 59.5h1.0M130.0 57.7h1.0M137.0 65.2h1.0M131.0 58.4h1.0M125.9 62.6h1.0M129.4 62.3h1.0M121.3 59.4h1.0M134.4 61.9h1.0M132.3 60.6h1.0M130.2 59.3h1.0M132.3 62.2h1.0M135.7 60.0h1.0M137.0 57.9h1.0M140.0 63.5h1.0M129.9 68.8h1.0M137.9 65.4h1.0M126.5 60.3h1.0M133.7 63.8h1.0M132.0 56.8h1.0M137.0 60.1h1.0" stroke="#000" stroke-width="1.0" stroke-opacity="0.95" fill="none"/>
<text x="200.2" y="103.6" font-size="9.4" stroke="#000" stroke-width="0.3" text-anchor="end" textLength="23.6" lengthAdjust="spacingAndGlyphs" >0.075</text>
<rect x="142.2" y="118.5" width="62.9" height="2.5" fill="#949494"/>
<line x1="120.3" y1="118.9" x2="142.7" y2="118.9" stroke="#6a6a6a" stroke-width="1.0" />
<rect x="202.2" y="118.6" width="2.9" height="89" fill="#949494"/>
<line x1="120.8" y1="118.8" x2="120.8" y2="207.6" stroke="#6a6a6a" stroke-width="1.0" />
<line x1="120.8" y1="207.6" x2="205.4" y2="207.6" stroke="#333" stroke-width="1.0" />
<line x1="142.7" y1="120.8" x2="142.7" y2="203.8" stroke="#6a6a6a" stroke-width="1.0" />
<line x1="142.7" y1="203.8" x2="202.6" y2="203.8" stroke="#6a6a6a" stroke-width="1.0" />
<path d="M132.4 160.5h0.9M130.0 158.7h0.9M133.3 160.0h0.9M123.0 161.7h0.9M130.4 162.6h0.9M134.0 159.0h0.9M129.8 161.0h0.9M130.9 159.2h0.9M130.8 162.7h0.9M135.7 163.5h0.9M133.7 156.8h0.9M129.4 160.1h0.9M134.3 161.0h0.9M132.0 161.8h0.9M129.6 163.3h0.9M138.2 162.4h0.9M128.2 161.4h0.9M134.6 162.2h0.9M127.6 162.6h0.9M133.6 162.0h0.9M128.7 161.0h0.9M122.5 161.0h0.9M128.6 160.5h0.9M129.3 160.5h0.9M130.9 161.2h0.9M127.9 160.8h0.9M130.1 161.8h0.9M132.4 160.4h0.9M127.0 158.3h0.9M125.2 161.7h0.9M126.6 163.7h0.9M129.8 160.4h0.9M129.8 160.1h0.9M127.8 161.1h0.9M124.4 161.2h0.9M130.1 159.5h0.9M134.8 161.6h0.9M135.1 159.9h0.9M125.3 159.0h0.9M123.9 157.8h0.9M137.1 160.2h0.9M131.3 160.1h0.9M129.9 163.7h0.9M123.2 159.4h0.9M131.1 159.5h0.9M133.4 163.2h0.9M134.3 162.3h0.9M129.8 162.7h0.9M127.1 159.0h0.9M129.4 160.6h0.9M135.7 159.4h0.9M135.3 159.7h0.9M125.2 158.2h0.9M130.4 158.6h0.9M131.4 161.1h0.9M128.8 157.8h0.9M128.3 161.8h0.9M123.0 162.2h0.9M130.6 160.1h0.9M131.4 162.1h0.9M130.4 159.7h0.9M133.8 159.9h0.9M132.0 162.6h0.9M136.0 163.7h0.9M134.8 161.3h0.9M129.6 161.3h0.9M132.7 166.0h0.9M133.3 159.6h0.9M136.9 158.3h0.9M134.7 158.9h0.9M125.9 160.2h0.9M129.3 158.7h0.9M133.1 160.8h0.9M136.2 159.3h0.9M122.9 162.2h0.9M129.6 162.7h0.9M130.9 164.3h0.9M125.3 157.8h0.9M128.6 163.4h0.9M137.2 158.7h0.9M127.9 157.9h0.9M127.0 159.4h0.9M132.3 162.9h0.9M140.5 160.4h0.9M133.9 161.4h0.9M131.0 164.3h0.9M133.5 163.6h0.9M131.8 162.5h0.9M132.6 160.8h0.9M127.6 160.3h0.9M130.6 160.4h0.9M129.1 159.8h0.9M134.1 160.6h0.9M130.0 160.6h0.9M136.0 160.1h0.9M136.4 159.6h0.9M136.9 162.0h0.9M128.4 161.8h0.9M135.3 159.4h0.9M129.6 161.5h0.9M129.6 160.5h0.9M130.6 161.5h0.9M133.8 163.5h0.9M129.2 165.9h0.9M129.1 164.0h0.9M130.0 158.6h0.9M128.7 160.4h0.9M135.0 157.6h0.9M127.8 160.8h0.9M133.3 161.7h0.9M134.1 160.7h0.9M129.5 163.0h0.9M137.7 161.6h0.9M131.2 159.6h0.9M139.4 161.7h0.9M133.1 158.3h0.9M133.1 165.1h0.9M129.8 160.7h0.9M137.0 160.7h0.9M134.1 164.3h0.9M125.6 159.6h0.9M133.4 161.2h0.9M130.7 160.7h0.9M131.1 161.6h0.9M128.5 160.5h0.9M131.5 159.2h0.9M132.4 157.3h0.9M133.2 160.8h0.9M125.6 163.3h0.9M125.6 164.5h0.9M127.5 163.0h0.9M130.2 163.7h0.9M129.6 162.7h0.9M129.2 157.9h0.9M132.1 161.8h0.9M132.2 163.8h0.9M127.4 158.6h0.9M131.6 159.8h0.9M130.1 161.0h0.9M127.1 162.8h0.9M130.0 164.0h0.9M131.6 162.8h0.9M129.3 159.9h0.9M128.3 159.5h0.9M132.4 161.2h0.9M126.0 158.4h0.9M126.9 157.9h0.9M126.8 158.5h0.9M133.5 159.1h0.9M128.1 160.8h0.9M130.7 161.7h0.9M133.7 162.1h0.9M129.1 163.1h0.9M132.1 159.8h0.9M136.8 159.0h0.9M132.5 163.1h0.9M131.0 161.6h0.9M131.0 162.1h0.9M131.5 161.0h0.9M133.5 157.8h0.9M131.6 160.5h0.9M138.7 161.5h0.9M127.8 162.1h0.9M128.9 159.0h0.9M129.4 161.9h0.9M135.5 162.8h0.9M131.5 160.7h0.9M131.4 163.0h0.9M130.0 163.0h0.9M127.2 161.0h0.9M133.7 162.2h0.9M131.4 160.1h0.9M123.1 160.3h0.9M127.0 160.3h0.9M137.1 159.7h0.9M134.0 161.0h0.9M125.9 161.2h0.9M133.6 159.0h0.9M125.7 160.4h0.9M133.5 160.0h0.9M132.3 161.8h0.9M130.6 161.8h0.9M135.8 160.7h0.9M131.9 159.2h0.9M127.5 160.8h0.9M133.9 159.9h0.9M124.8 162.6h0.9M140.4 156.7h0.9M126.1 161.2h0.9M132.5 159.4h0.9M131.9 162.9h0.9M129.4 162.2h0.9M131.1 159.4h0.9M128.0 160.0h0.9M136.0 162.9h0.9M131.5 158.4h0.9M128.5 160.3h0.9M122.6 161.0h0.9M131.7 158.8h0.9M128.8 160.2h0.9M138.1 162.1h0.9M133.7 161.1h0.9M125.2 162.6h0.9M127.7 157.8h0.9M133.5 160.4h0.9M130.5 161.9h0.9M129.6 161.7h0.9M135.8 160.5h0.9M129.1 161.0h0.9M133.2 160.3h0.9M130.9 159.9h0.9M130.2 161.9h0.9M127.1 160.7h0.9M124.5 159.8h0.9M130.8 161.9h0.9M126.3 160.8h0.9M126.7 161.5h0.9M131.6 161.7h0.9M129.6 158.6h0.9M128.2 158.8h0.9M127.7 160.9h0.9M134.9 159.9h0.9M127.3 161.3h0.9M122.0 164.3h0.9M124.2 162.7h0.9M134.5 162.6h0.9M130.1 162.2h0.9M129.1 162.6h0.9M127.8 159.6h0.9M132.1 160.2h0.9M133.3 159.6h0.9M131.6 159.4h0.9M130.1 164.6h0.9M126.1 158.9h0.9M124.0 160.6h0.9M137.1 160.2h0.9M134.3 160.7h0.9M127.9 164.4h0.9M134.9 157.9h0.9M126.5 161.7h0.9M133.2 160.6h0.9M131.8 161.9h0.9M129.1 162.7h0.9M127.0 162.3h0.9M134.2 161.3h0.9M129.1 161.0h0.9M121.4 161.4h0.9M124.7 157.6h0.9M133.6 159.5h0.9M132.0 161.1h0.9M123.3 159.5h0.9M129.4 161.8h0.9M130.8 158.9h0.9M128.3 161.2h0.9M125.3 160.3h0.9M128.3 157.4h0.9M137.5 162.5h0.9M128.6 162.6h0.9M126.3 163.6h0.9M129.0 161.2h0.9M128.2 161.2h0.9M131.9 161.1h0.9M127.1 162.3h0.9M132.8 161.0h0.9M134.8 159.8h0.9M135.7 160.7h0.9M136.7 160.3h0.9M129.5 161.4h0.9M135.0 163.4h0.9M128.7 159.8h0.9M133.6 163.1h0.9M133.4 160.5h0.9M135.7 161.0h0.9M131.2 162.0h0.9M128.2 157.2h0.9M131.4 162.2h0.9M132.3 161.9h0.9M131.2 162.7h0.9M131.0 163.5h0.9M130.7 162.3h0.9M128.3 161.5h0.9M132.2 161.2h0.9M136.8 161.1h0.9M135.1 161.6h0.9M134.9 159.5h0.9M129.0 162.6h0.9M127.2 161.7h0.9M132.8 161.3h0.9M132.3 161.9h0.9M129.5 161.7h0.9M128.4 160.2h0.9M124.1 160.8h0.9M123.6 161.0h0.9M131.4 159.2h0.9M130.8 161.5h0.9M129.1 159.5h0.9M130.1 161.7h0.9M134.3 164.2h0.9M122.5 161.6h0.9M132.3 159.9h0.9M131.8 164.5h0.9M131.0 163.3h0.9M134.8 160.3h0.9M121.1 162.9h0.9M136.8 158.1h0.9M129.7 159.8h0.9M131.3 161.1h0.9M135.2 160.0h0.9M138.3 158.1h0.9M131.4 165.5h0.9M130.1 162.1h0.9M128.6 166.5h0.9M134.1 160.4h0.9M122.7 161.4h0.9M133.5 157.6h0.9M128.5 161.9h0.9M124.0 158.8h0.9M132.2 162.9h0.9M135.2 159.9h0.9M132.6 158.0h0.9M124.5 161.9h0.9M128.9 159.3h0.9M122.9 160.6h0.9M139.6 157.6h0.9M126.3 162.9h0.9M122.7 160.0h0.9M130.8 162.9h0.9M130.2 164.1h0.9M130.4 160.8h0.9M132.3 161.6h0.9M124.4 159.4h0.9M129.5 161.6h0.9M125.5 159.8h0.9M127.5 161.6h0.9M128.8 162.0h0.9M132.1 159.5h0.9M129.3 158.9h0.9M130.9 162.4h0.9M126.5 158.0h0.9M132.6 160.5h0.9M130.4 161.8h0.9M132.0 162.6h0.9M128.6 157.3h0.9M128.5 160.5h0.9M128.8 161.7h0.9M129.5 163.2h0.9M127.9 161.0h0.9M129.0 164.6h0.9M126.6 159.3h0.9M129.0 162.3h0.9M130.6 160.7h0.9M124.5 157.5h0.9M129.6 160.6h0.9M137.7 161.6h0.9M132.2 162.6h0.9M126.8 158.9h0.9M129.0 163.5h0.9M134.5 160.0h0.9M125.4 162.6h0.9M135.0 159.1h0.9M137.1 159.7h0.9M133.6 160.7h0.9M129.2 160.0h0.9M133.3 162.0h0.9M133.8 160.5h0.9M127.0 164.6h0.9M137.5 160.7h0.9M125.8 163.5h0.9M131.0 161.1h0.9M134.0 161.6h0.9M131.0 164.4h0.9M122.8 162.1h0.9M126.5 161.1h0.9M129.8 161.4h0.9M140.1 160.3h0.9M134.2 162.1h0.9M131.7 160.2h0.9M133.1 161.5h0.9M136.5 162.4h0.9M127.6 156.1h0.9M136.7 161.8h0.9M131.2 160.0h0.9M140.8 163.3h0.9M130.9 160.4h0.9M132.9 163.3h0.9M132.6 162.6h0.9M131.6 161.6h0.9M125.3 161.2h0.9M130.7 160.9h0.9M129.5 161.5h0.9M128.1 160.7h0.9M125.1 164.9h0.9M126.8 159.0h0.9M128.3 160.3h0.9M126.1 156.9h0.9M137.3 162.7h0.9M128.9 161.9h0.9M125.9 158.3h0.9M131.9 162.0h0.9M127.7 161.0h0.9M134.9 161.3h0.9M131.3 162.0h0.9M121.8 158.8h0.9M125.2 161.4h0.9M127.9 157.8h0.9M134.2 160.7h0.9M134.6 164.4h0.9M123.6 158.8h0.9M135.0 163.4h0.9M132.1 161.6h0.9M133.4 162.1h0.9M125.2 162.3h0.9M134.6 160.3h0.9M126.7 160.2h0.9M128.1 161.9h0.9M133.7 161.0h0.9M129.2 158.0h0.9M128.7 159.3h0.9M128.2 161.6h0.9M131.2 166.9h0.9M126.9 160.1h0.9M125.7 160.6h0.9M129.3 162.7h0.9M122.4 162.5h0.9M133.2 160.1h0.9M127.6 161.3h0.9M132.7 160.7h0.9M129.8 161.0h0.9M126.0 161.5h0.9M132.9 161.1h0.9M125.7 161.0h0.9M130.0 161.5h0.9M128.8 162.4h0.9M135.0 162.4h0.9M131.5 163.1h0.9M130.3 160.7h0.9M124.5 161.0h0.9M135.6 159.4h0.9M133.7 158.9h0.9M131.7 164.1h0.9M130.7 159.0h0.9M131.7 160.8h0.9M133.8 160.1h0.9M123.3 160.2h0.9M132.9 162.7h0.9M131.6 161.0h0.9M133.3 160.7h0.9M128.6 161.4h0.9M135.0 160.2h0.9M132.6 159.9h0.9M127.4 161.3h0.9M124.9 159.6h0.9M125.5 160.0h0.9M126.7 164.9h0.9M133.0 161.1h0.9M124.9 157.0h0.9M132.3 160.0h0.9M134.8 160.3h0.9M125.0 159.9h0.9M124.1 158.6h0.9M133.4 160.1h0.9M133.4 160.1h0.9M129.5 160.1h0.9M128.2 159.9h0.9M136.7 160.9h0.9M122.3 163.8h0.9M135.7 162.9h0.9M130.0 160.7h0.9M128.5 161.2h0.9M132.4 161.0h0.9M127.0 159.4h0.9M137.4 163.8h0.9M125.3 159.9h0.9M130.3 162.0h0.9M130.0 161.4h0.9M132.0 162.9h0.9M125.0 162.8h0.9M132.3 161.9h0.9M124.2 160.6h0.9M129.4 162.1h0.9M133.3 162.1h0.9M125.1 163.1h0.9M130.7 162.5h0.9M130.4 159.8h0.9M141.4 162.1h0.9M133.6 160.2h0.9M129.5 162.8h0.9M132.3 163.9h0.9M135.5 159.2h0.9M124.0 162.9h0.9M133.0 160.6h0.9M129.2 160.1h0.9M138.0 160.7h0.9M124.7 162.5h0.9M130.1 161.6h0.9M128.8 160.9h0.9M122.6 161.9h0.9M127.6 160.4h0.9M131.8 163.1h0.9M121.4 160.8h0.9M132.7 162.7h0.9M126.6 161.5h0.9M132.1 162.5h0.9M127.8 160.7h0.9M128.3 162.9h0.9M135.0 160.3h0.9M129.9 161.4h0.9M126.7 160.8h0.9M134.1 162.3h0.9M127.6 159.9h0.9M129.9 158.6h0.9M131.7 161.2h0.9M124.8 160.6h0.9M127.7 160.6h0.9M126.8 163.2h0.9M126.4 162.3h0.9M131.3 163.4h0.9M130.2 161.0h0.9M130.7 157.9h0.9M140.5 160.7h0.9M129.1 159.2h0.9M129.9 163.6h0.9M127.3 161.7h0.9M134.8 162.6h0.9M128.7 158.2h0.9M132.1 161.9h0.9M129.1 160.3h0.9M137.8 158.4h0.9M128.3 160.0h0.9M123.9 159.9h0.9M127.1 163.0h0.9M123.1 158.8h0.9M131.5 158.5h0.9M122.0 160.0h0.9M125.4 159.4h0.9M129.8 161.8h0.9M127.7 160.6h0.9M133.4 160.8h0.9M133.5 160.1h0.9M132.5 163.1h0.9M124.6 165.9h0.9M129.1 160.5h0.9M129.7 161.8h0.9M125.4 161.1h0.9M128.0 163.3h0.9M123.2 162.1h0.9M129.1 159.8h0.9M131.0 160.6h0.9M130.6 161.4h0.9M135.5 160.4h0.9M137.4 156.7h0.9M138.1 163.0h0.9M137.0 161.3h0.9M131.6 159.4h0.9M136.0 159.2h0.9M127.1 161.0h0.9M131.4 161.6h0.9M125.5 160.5h0.9M132.5 162.9h0.9M133.6 161.7h0.9M129.3 160.1h0.9M128.3 160.9h0.9M132.6 160.2h0.9M139.0 159.4h0.9M133.8 160.7h0.9M129.8 160.4h0.9M136.8 160.5h0.9M132.7 161.2h0.9M133.6 162.0h0.9M137.3 159.8h0.9M127.0 163.7h0.9M135.8 161.1h0.9M129.2 161.4h0.9M135.9 159.8h0.9M136.5 160.9h0.9M128.9 160.4h0.9M121.6 161.5h0.9M124.9 160.1h0.9M126.7 161.4h0.9M133.4 161.1h0.9M131.2 161.7h0.9M137.1 162.0h0.9M137.0 160.9h0.9M131.9 160.0h0.9M132.9 159.7h0.9M132.4 160.0h0.9M128.9 163.0h0.9M131.0 162.3h0.9M129.4 158.0h0.9M136.6 160.7h0.9M127.7 162.5h0.9M125.7 159.8h0.9M135.2 159.9h0.9M135.1 160.5h0.9M129.5 161.1h0.9M128.3 162.7h0.9M135.0 161.1h0.9M133.0 161.9h0.9M137.5 158.5h0.9M134.7 162.5h0.9M129.1 161.0h0.9M129.0 163.0h0.9M125.6 162.0h0.9M135.8 161.9h0.9M128.4 160.3h0.9M121.6 159.4h0.9M135.0 159.5h0.9M123.6 160.6h0.9M124.2 161.8h0.9M126.8 162.6h0.9M129.9 158.8h0.9M127.2 160.0h0.9M126.9 163.0h0.9M126.2 161.6h0.9M128.0 162.0h0.9M124.4 158.5h0.9M132.6 163.3h0.9M124.6 160.5h0.9M128.3 159.5h0.9M134.5 161.1h0.9M124.6 160.7h0.9M136.0 159.9h0.9M128.3 159.7h0.9M131.1 160.1h0.9M134.2 159.7h0.9M124.3 161.8h0.9M131.6 161.4h0.9M128.0 160.3h0.9M132.6 167.0h0.9M127.1 160.7h0.9M128.5 161.9h0.9M130.5 161.9h0.9M137.3 160.6h0.9M129.2 161.6h0.9M139.2 160.5h0.9M137.5 162.9h0.9M126.3 161.7h0.9M136.0 161.1h0.9M131.1 164.5h0.9M131.9 164.5h0.9M126.7 163.7h0.9M128.3 157.1h0.9M127.0 160.3h0.9M130.3 162.2h0.9M133.3 161.9h0.9M127.3 163.9h0.9M135.5 161.1h0.9M128.0 161.0h0.9M129.5 159.9h0.9M130.4 160.0h0.9M133.1 160.0h0.9M132.5 161.5h0.9M131.1 161.9h0.9M126.1 165.2h0.9M127.5 162.2h0.9M130.5 160.3h0.9M137.7 162.8h0.9M129.3 161.9h0.9M133.3 163.6h0.9M134.7 160.8h0.9M129.4 159.2h0.9M131.5 162.4h0.9M128.8 162.1h0.9M131.0 160.3h0.9M125.3 162.8h0.9M141.1 161.9h0.9M125.9 159.4h0.9M131.5 162.1h0.9M136.8 157.1h0.9M138.2 161.3h0.9M131.0 161.6h0.9M129.0 160.6h0.9M134.9 158.2h0.9M130.0 161.9h0.9M123.5 160.8h0.9M136.9 161.6h0.9M133.4 162.2h0.9M131.4 161.6h0.9M127.0 160.7h0.9M138.2 159.0h0.9M129.8 159.0h0.9M128.2 159.8h0.9M125.3 161.4h0.9M126.5 161.9h0.9M138.0 156.9h0.9M129.8 157.7h0.9M129.9 161.6h0.9M131.3 163.0h0.9M131.1 158.2h0.9M136.8 159.5h0.9M130.1 161.5h0.9M126.8 161.2h0.9M136.7 158.3h0.9M123.5 160.3h0.9M129.8 159.0h0.9M132.1 158.9h0.9M132.9 160.9h0.9M131.1 158.9h0.9M129.5 161.8h0.9M123.1 159.3h0.9M134.5 164.2h0.9M133.2 160.9h0.9M125.9 160.4h0.9M129.4 161.7h0.9M129.4 165.0h0.9M136.0 157.5h0.9M125.6 161.0h0.9M134.6 161.7h0.9M136.1 162.0h0.9M141.2 162.3h0.9M132.4 163.5h0.9M128.6 160.1h0.9M126.2 161.4h0.9M132.3 162.5h0.9M136.6 162.0h0.9M135.7 160.6h0.9M126.4 162.2h0.9M134.7 163.2h0.9M129.8 160.3h0.9M129.0 161.6h0.9M130.3 160.7h0.9M131.6 160.5h0.9M131.9 160.0h0.9M124.0 160.5h0.9M138.4 159.7h0.9M134.3 163.2h0.9M128.2 161.4h0.9M137.0 161.3h0.9M122.1 160.1h0.9M127.4 161.2h0.9M131.7 160.3h0.9M129.2 159.7h0.9M132.9 161.3h0.9M131.9 160.2h0.9M132.6 160.5h0.9M131.7 160.8h0.9M127.7 159.2h0.9M122.6 158.8h0.9M132.4 166.3h0.9M123.6 159.7h0.9M130.5 166.8h0.9M129.6 159.1h0.9M132.3 164.4h0.9M135.7 159.1h0.9M130.1 160.0h0.9M133.7 158.6h0.9M131.8 161.4h0.9M132.9 161.7h0.9M131.1 158.1h0.9M129.1 159.5h0.9M132.7 160.6h0.9M131.1 162.8h0.9M130.0 163.8h0.9M134.0 158.6h0.9M128.0 163.0h0.9M128.4 163.0h0.9M128.1 160.8h0.9M134.8 158.4h0.9M130.8 160.3h0.9M131.2 163.8h0.9M132.6 158.8h0.9M134.5 160.3h0.9M131.2 162.9h0.9M129.2 162.6h0.9M131.2 159.5h0.9M129.2 158.8h0.9M135.5 161.3h0.9M134.6 159.2h0.9M134.1 159.0h0.9M131.7 161.0h0.9M128.0 161.5h0.9M130.6 159.6h0.9M127.4 158.9h0.9M136.3 161.3h0.9M129.0 162.1h0.9M126.9 159.1h0.9M132.0 163.6h0.9M131.8 161.3h0.9M137.8 158.5h0.9M143.4 159.2h0.9M130.2 158.8h0.9M125.4 160.6h0.9M140.8 159.5h0.9M127.9 161.4h0.9M126.2 160.6h0.9M133.9 157.4h0.9M129.2 160.5h0.9M128.3 160.8h0.9M122.9 160.3h0.9M128.3 159.3h0.9M135.8 164.3h0.9M133.9 159.6h0.9M136.5 161.8h0.9M127.1 162.0h0.9M128.1 161.9h0.9M134.4 162.9h0.9M126.1 160.8h0.9M130.5 159.0h0.9M132.2 162.1h0.9M124.7 160.1h0.9M125.9 158.9h0.9M126.0 163.3h0.9M127.7 160.4h0.9M134.7 162.7h0.9M136.4 157.6h0.9M133.7 158.1h0.9M127.8 160.3h0.9M128.1 164.2h0.9M129.8 162.9h0.9M129.7 160.9h0.9M132.6 161.7h0.9M132.6 158.1h0.9M132.6 161.5h0.9M133.0 160.9h0.9M132.2 158.9h0.9M135.3 159.0h0.9M136.4 162.7h0.9M130.2 160.5h0.9M133.8 160.5h0.9M125.5 161.5h0.9M125.4 160.2h0.9M138.0 162.3h0.9M128.6 160.9h0.9M127.8 161.0h0.9M124.4 162.1h0.9M130.6 160.0h0.9M127.9 165.3h0.9M128.6 160.2h0.9M128.1 160.2h0.9M136.0 162.1h0.9M132.3 161.6h0.9M125.7 157.0h0.9M136.8 162.2h0.9M131.4 161.5h0.9M131.3 161.0h0.9M129.4 157.3h0.9M132.9 161.1h0.9M134.6 161.5h0.9M129.3 162.0h0.9M131.3 160.3h0.9M128.9 160.3h0.9M129.2 160.3h0.9M134.6 165.8h0.9M130.0 162.9h0.9M122.2 155.7h0.9M128.5 160.7h0.9M127.4 158.8h0.9M126.9 160.2h0.9M131.1 160.4h0.9M125.5 160.4h0.9M136.9 159.5h0.9M130.8 162.7h0.9M127.1 160.1h0.9M142.7 163.0h0.9M128.3 161.3h0.9M130.9 161.2h0.9M132.5 160.5h0.9M121.2 159.4h0.9M131.1 158.7h0.9M129.1 163.5h0.9M131.5 159.9h0.9M131.1 162.7h0.9M123.3 158.9h0.9M127.7 160.3h0.9M130.1 160.0h0.9M131.0 161.1h0.9M125.6 160.0h0.9M125.3 161.5h0.9M131.6 162.1h0.9M126.8 160.1h0.9M121.2 161.0h0.9M123.7 161.6h0.9M135.0 161.7h0.9M133.1 161.4h0.9M132.1 162.6h0.9M135.8 164.3h0.9M129.4 162.4h0.9M134.1 161.7h0.9M131.6 158.9h0.9M135.1 159.5h0.9M127.8 159.6h0.9M132.8 159.4h0.9M132.4 161.9h0.9M130.9 160.4h0.9M133.0 163.2h0.9M128.6 159.3h0.9M128.0 159.5h0.9M129.5 160.7h0.9M127.1 160.3h0.9M122.3 157.7h0.9M126.2 161.4h0.9M134.1 158.0h0.9M131.4 163.5h0.9M129.3 162.5h0.9M131.8 159.5h0.9M134.7 160.0h0.9M132.0 160.3h0.9M129.6 161.3h0.9M136.0 158.2h0.9M125.8 161.2h0.9M138.8 160.0h0.9M131.9 161.8h0.9M142.4 158.2h0.9M123.4 159.8h0.9M137.6 157.2h0.9M139.7 162.9h0.9M137.7 158.4h0.9M125.3 162.2h0.9M134.6 162.2h0.9M124.9 153.0h0.9M139.7 163.0h0.9M131.3 160.5h0.9M135.7 162.4h0.9M131.9 159.2h0.9M127.2 163.1h0.9M133.6 151.9h0.9M135.1 159.1h0.9M125.4 159.2h0.9M125.3 159.4h0.9M129.7 161.8h0.9M126.9 155.9h0.9M129.4 157.0h0.9M137.4 160.0h0.9M123.0 158.3h0.9M132.8 160.4h0.9M122.0 160.2h0.9M134.8 163.0h0.9M139.6 160.2h0.9M125.2 159.6h0.9M136.9 158.2h0.9M140.5 158.1h0.9M126.3 162.6h0.9M132.4 161.3h0.9M131.2 160.6h0.9M129.5 165.3h0.9M136.9 160.2h0.9M135.8 162.6h0.9M129.8 160.9h0.9M134.2 159.1h0.9M128.4 160.0h0.9M131.2 159.5h0.9M121.4 160.7h0.9M136.9 160.7h0.9M143.3 162.7h0.9M130.9 158.8h0.9M136.0 159.6h0.9M123.3 160.8h0.9M131.2 159.9h0.9M136.7 161.0h0.9M145.1 158.6h0.9M132.4 161.3h0.9M130.4 159.2h0.9M143.5 156.8h0.9M135.1 156.1h0.9M135.0 155.7h0.9M126.0 163.4h0.9M142.2 160.8h0.9M134.5 157.7h0.9M130.9 157.2h0.9M132.4 160.3h0.9M133.7 162.5h0.9M129.1 155.0h0.9M126.0 157.3h0.9M130.8 159.4h0.9M132.7 163.9h0.9M133.2 157.8h0.9M131.2 158.3h0.9M131.6 162.0h0.9M126.2 162.3h0.9M143.7 164.3h0.9M142.7 160.7h0.9M124.9 165.5h0.9M132.7 161.1h0.9M130.9 158.1h0.9M136.7 157.0h0.9M124.8 161.9h0.9M130.8 158.4h0.9M136.0 164.1h0.9M131.3 160.2h0.9M136.3 162.8h0.9M139.2 162.2h0.9M129.0 161.8h0.9M133.0 156.2h0.9M140.4 161.9h0.9M141.2 160.3h0.9M137.3 160.3h0.9M134.0 162.8h0.9M133.3 162.0h0.9M132.8 163.6h0.9M136.9 156.4h0.9M142.9 161.6h0.9M129.9 158.9h0.9M144.9 160.7h0.9M136.0 162.0h0.9M129.4 164.9h0.9M145.6 158.6h0.9M139.8 156.4h0.9M131.0 160.7h0.9M133.3 161.9h0.9M135.4 161.4h0.9M132.2 161.3h0.9M129.7 165.4h0.9M133.4 163.6h0.9M133.6 160.1h0.9M131.9 157.3h0.9M145.4 161.5h0.9M133.8 159.3h0.9M140.6 159.7h0.9M130.3 159.2h0.9M142.2 161.3h0.9M132.1 158.9h0.9M140.7 161.2h0.9M131.0 162.7h0.9M138.2 158.0h0.9M139.9 163.2h0.9M131.6 157.2h0.9M139.5 159.6h0.9M131.8 159.8h0.9M131.4 162.6h0.9M126.5 161.8h0.9M139.9 163.1h0.9M137.3 161.2h0.9M131.9 160.2h0.9M127.8 164.7h0.9M132.3 158.0h0.9M138.0 164.3h0.9M134.7 159.7h0.9M126.4 162.1h0.9M131.6 158.9h0.9M136.6 157.3h0.9M137.4 154.5h0.9M129.4 157.0h0.9M131.6 162.5h0.9M125.3 163.9h0.9M129.0 159.3h0.9M138.9 158.7h0.9M141.7 160.0h0.9M132.5 158.1h0.9M139.8 160.3h0.9M130.2 158.2h0.9M129.3 160.3h0.9M128.8 162.5h0.9M132.8 159.0h0.9M135.8 164.0h0.9M139.4 160.8h0.9M137.9 156.7h0.9M128.6 163.0h0.9M132.5 160.7h0.9M136.8 161.4h0.9M135.7 159.3h0.9M131.3 163.7h0.9M130.2 156.9h0.9M131.0 162.7h0.9M143.6 160.9h0.9M129.4 162.0h0.9M134.9 163.4h0.9M136.1 162.4h0.9M136.1 161.5h0.9M127.7 160.1h0.9M142.5 163.8h0.9M138.8 161.5h0.9M132.4 161.4h0.9M131.2 163.2h0.9M131.3 158.6h0.9M123.6 164.3h0.9M128.7 158.4h0.9M135.5 164.9h0.9M137.0 159.7h0.9M136.4 158.5h0.9M131.6 160.6h0.9M133.2 162.4h0.9M136.3 165.1h0.9M138.0 159.8h0.9M134.6 158.4h0.9M129.6 159.7h0.9M139.1 158.8h0.9M124.0 158.0h0.9M126.1 160.1h0.9M131.4 157.6h0.9M128.5 159.5h0.9M135.5 162.0h0.9M140.9 159.9h0.9M136.8 160.7h0.9M126.8 158.9h0.9M145.9 160.1h0.9M142.8 162.5h0.9M142.9 160.0h0.9M138.6 159.8h0.9M126.7 157.6h0.9M135.8 156.5h0.9M135.3 158.4h0.9M135.3 157.1h0.9M138.2 159.9h0.9M124.3 157.0h0.9M133.6 156.5h0.9M135.1 161.7h0.9M129.4 163.9h0.9M141.6 161.3h0.9M135.9 161.7h0.9M131.7 163.7h0.9M149.4 161.2h0.9M138.8 159.8h0.9M155.5 155.6h0.9M149.3 157.5h0.9M139.3 159.4h0.9M143.4 161.0h0.9M141.0 162.4h0.9M139.9 157.4h0.9M156.7 159.1h0.9M164.3 159.2h0.9M146.9 158.2h0.9M151.1 158.6h0.9M138.8 161.7h0.9M139.5 160.6h0.9M148.9 158.3h0.9M143.0 159.7h0.9M138.8 158.9h0.9M147.9 159.8h0.9M143.6 161.2h0.9M144.2 162.1h0.9M143.1 158.3h0.9M143.2 159.3h0.9M141.2 159.6h0.9M146.3 162.3h0.9M140.1 159.3h0.9M168.8 159.8h0.9M142.1 158.9h0.9M138.3 160.3h0.9M153.8 158.3h0.9M149.4 160.3h0.9M140.5 158.0h0.9M138.3 160.0h0.9M144.6 159.8h0.9M151.4 161.2h0.9M145.0 161.5h0.9M139.5 160.8h0.9M139.7 162.3h0.9M139.5 160.9h0.9M158.5 164.7h0.9M139.1 158.7h0.9M138.3 159.5h0.9M140.6 159.9h0.9M166.6 158.9h0.9M141.0 157.7h0.9M139.4 163.4h0.9M139.3 158.8h0.9M141.5 160.4h0.9M145.9 161.8h0.9M138.4 159.7h0.9M142.2 161.2h0.9M138.6 158.8h0.9M140.6 160.3h0.9M141.4 161.7h0.9M148.0 159.8h0.9M139.4 159.7h0.9M153.5 162.3h0.9M139.8 158.1h0.9M148.6 162.4h0.9M140.3 161.3h0.9M154.5 161.0h0.9M149.6 158.0h0.9M164.0 162.1h0.9M146.6 158.3h0.9M142.0 159.7h0.9M143.5 159.1h0.9M138.8 162.2h0.9M143.0 161.5h0.9M140.1 161.4h0.9M145.0 159.5h0.9M144.1 162.3h0.9M150.8 165.6h0.9M158.0 158.1h0.9M159.7 164.3h0.9M163.6 160.0h0.9M138.8 161.0h0.9M138.8 160.0h0.9M143.6 159.5h0.9M141.9 160.0h0.9M149.5 159.3h0.9M166.6 158.6h0.9M150.2 161.7h0.9M141.3 163.3h0.9M140.3 155.5h0.9M143.7 161.4h0.9M142.5 161.8h0.9M170.3 158.1h0.9M153.0 153.4h0.9M153.7 157.5h0.9M139.1 161.8h0.9M141.9 164.3h0.9M139.7 158.0h0.9M144.1 158.0h0.9M146.1 161.4h0.9M140.7 161.5h0.9M151.4 158.3h0.9M149.5 162.2h0.9M146.0 159.7h0.9M151.3 159.9h0.9M153.1 160.4h0.9M148.7 159.9h0.9M140.0 157.2h0.9M156.9 156.3h0.9M145.3 156.6h0.9M156.1 160.9h0.9M145.2 160.4h0.9M147.9 159.3h0.9M157.5 160.2h0.9M138.7 161.1h0.9M149.0 159.0h0.9M146.1 160.1h0.9M140.5 161.6h0.9M144.9 159.6h0.9M141.0 162.2h0.9M139.2 159.7h0.9M164.7 157.6h0.9M142.7 159.8h0.9M158.8 163.1h0.9M142.2 159.9h0.9M184.2 156.2h0.9M141.2 160.2h0.9M145.0 160.0h0.9M146.8 159.5h0.9M142.7 161.8h0.9M142.1 160.9h0.9M147.9 162.1h0.9M138.2 161.1h0.9M143.8 159.1h0.9M140.2 159.3h0.9M145.8 158.3h0.9M142.7 159.3h0.9M174.0 159.1h0.9M143.0 158.4h0.9M141.1 163.0h0.9M152.1 158.9h0.9M145.7 160.4h0.9M141.0 161.6h0.9M162.9 166.2h0.9M143.7 161.0h0.9M141.2 157.7h0.9M139.2 159.2h0.9M150.7 159.2h0.9M146.1 160.6h0.9M168.9 163.6h0.9M143.9 161.9h0.9M138.2 159.9h0.9M143.6 157.7h0.9M144.7 163.2h0.9M167.1 160.6h0.9M138.1 161.5h0.9M138.5 160.1h0.9M140.3 159.7h0.9M143.1 161.2h0.9M138.0 159.6h0.9M148.9 159.5h0.9M161.7 158.3h0.9M156.0 163.3h0.9M145.1 158.7h0.9M148.9 161.8h0.9M141.9 161.8h0.9M141.7 159.8h0.9M153.0 160.5h0.9M151.0 162.2h0.9M138.2 160.3h0.9M145.1 162.3h0.9M141.5 163.9h0.9M144.7 159.7h0.9M138.1 163.7h0.9M141.2 160.5h0.9M142.2 162.9h0.9M155.8 159.1h0.9M143.5 160.8h0.9M138.8 161.3h0.9M145.7 161.8h0.9M140.2 161.0h0.9M143.3 162.0h0.9M143.9 159.6h0.9M138.1 159.4h0.9M138.6 160.9h0.9M139.5 157.7h0.9M141.6 158.7h0.9M142.8 163.7h0.9M149.3 160.3h0.9M140.3 160.4h0.9M147.2 156.3h0.9M153.6 161.1h0.9M147.8 164.7h0.9M157.3 159.5h0.9M138.8 159.4h0.9M146.5 160.6h0.9M144.3 160.6h0.9M143.6 160.4h0.9M146.8 158.2h0.9M147.1 161.1h0.9M148.8 159.4h0.9M139.7 158.5h0.9M156.4 161.1h0.9M139.9 160.4h0.9M146.1 159.3h0.9M144.5 159.4h0.9M145.7 159.7h0.9M149.7 159.1h0.9M140.8 159.5h0.9M154.6 160.4h0.9M146.7 160.8h0.9M139.1 158.4h0.9M142.6 160.8h0.9M152.8 160.2h0.9M138.0 159.8h0.9M151.0 160.2h0.9M180.1 161.6h0.9M171.5 159.7h0.9M140.6 158.3h0.9M160.9 165.8h0.9M142.4 158.6h0.9M141.9 157.4h0.9M138.0 158.5h0.9M168.0 162.0h0.9M143.2 158.6h0.9M146.4 160.9h0.9M138.2 163.6h0.9M138.3 158.1h0.9M138.1 159.8h0.9M151.2 160.8h0.9M156.4 154.7h0.9M140.3 159.0h0.9M140.0 158.8h0.9M140.0 161.4h0.9M160.9 159.5h0.9M140.3 158.8h0.9M141.0 158.2h0.9M151.5 161.6h0.9M164.9 160.8h0.9M142.3 160.6h0.9M165.3 155.7h0.9M153.9 160.6h0.9M143.6 157.8h0.9M147.2 162.2h0.9M182.5 157.9h0.9M144.0 164.4h0.9M156.3 157.9h0.9M155.4 157.6h0.9M138.8 159.8h0.9M153.4 162.1h0.9M139.9 160.3h0.9M141.9 159.4h0.9M143.6 159.6h0.9M155.0 157.2h0.9M148.6 158.1h0.9M142.4 161.5h0.9M156.5 159.2h0.9M140.5 161.1h0.9M140.6 161.1h0.9M140.5 157.7h0.9M142.9 163.6h0.9M140.3 157.5h0.9M163.9 167.5h0.9M141.5 162.3h0.9M165.8 163.0h0.9M161.2 160.2h0.9M153.4 158.7h0.9" stroke="#000" stroke-width="0.9" stroke-opacity="0.85" fill="none"/>
<text x="204.8" y="202.8" font-size="9.5" stroke="#000" stroke-width="0.3" text-anchor="end" textLength="18.2" lengthAdjust="spacingAndGlyphs" >6.46</text>
<rect x="142.2" y="223.4" width="61.2" height="2.7" fill="#949494"/>
<line x1="120.3" y1="223.9" x2="142.7" y2="223.9" stroke="#6a6a6a" stroke-width="1.0" />
<line x1="120.8" y1="223.8" x2="120.8" y2="309.6" stroke="#6a6a6a" stroke-width="1.0" />
<line x1="202.9" y1="223.8" x2="202.9" y2="309.6" stroke="#6a6a6a" stroke-width="1.0" />
<line x1="120.8" y1="309.6" x2="202.9" y2="309.6" stroke="#333" stroke-width="1.0" />
<line x1="142.7" y1="226" x2="142.7" y2="305.4" stroke="#6a6a6a" stroke-width="1.0" />
<line x1="142.7" y1="305.4" x2="201.2" y2="305.4" stroke="#6a6a6a" stroke-width="1.0" />
<line x1="201.2" y1="226" x2="201.2" y2="305.4" stroke="#6a6a6a" stroke-width="1.0" />
<path d="M130.0 263.5h0.9M140.5 264.0h0.9M128.9 261.9h0.9M135.6 262.8h0.9M133.6 263.8h0.9M129.6 262.0h0.9M128.0 259.8h0.9M132.5 263.1h0.9M124.1 266.3h0.9M131.8 263.2h0.9M130.9 263.6h0.9M137.4 264.6h0.9M127.4 263.8h0.9M129.9 263.0h0.9M138.4 263.5h0.9M128.3 261.5h0.9M129.2 263.1h0.9M127.0 262.0h0.9M137.2 262.7h0.9M127.4 262.9h0.9M128.0 262.1h0.9M131.0 262.2h0.9M134.5 264.4h0.9M132.8 262.3h0.9M133.9 259.6h0.9M130.6 264.0h0.9M128.3 263.7h0.9M132.3 265.4h0.9M126.5 262.9h0.9M122.3 262.4h0.9M132.4 264.6h0.9M133.2 263.3h0.9M129.3 262.6h0.9M131.6 263.7h0.9M136.0 260.8h0.9M123.3 262.7h0.9M133.6 264.2h0.9M132.0 263.3h0.9M131.0 264.8h0.9M134.3 259.6h0.9M133.3 262.5h0.9M131.2 264.8h0.9M135.9 266.0h0.9M130.2 263.4h0.9M134.7 261.5h0.9M132.6 263.0h0.9M133.3 266.7h0.9M132.4 267.8h0.9M129.3 261.3h0.9M135.2 263.4h0.9M132.9 264.7h0.9M131.1 263.8h0.9M126.3 263.4h0.9M135.6 262.1h0.9M130.3 259.5h0.9M134.0 258.3h0.9M134.9 263.0h0.9M128.9 265.5h0.9M128.0 262.2h0.9M131.9 262.6h0.9M128.8 262.3h0.9M131.6 259.4h0.9M136.4 261.5h0.9M128.2 261.4h0.9M127.1 262.1h0.9M129.0 263.7h0.9M136.3 266.3h0.9M127.5 261.8h0.9M131.2 262.8h0.9M130.4 260.2h0.9M131.1 263.9h0.9M130.6 263.8h0.9M135.4 259.8h0.9M124.5 263.9h0.9M132.3 260.2h0.9M131.7 264.8h0.9M131.7 262.8h0.9M126.9 263.5h0.9M132.4 263.3h0.9M126.2 260.7h0.9M129.6 263.3h0.9M127.0 260.7h0.9M137.7 265.8h0.9M134.2 261.2h0.9M132.2 263.2h0.9M140.6 262.7h0.9M134.3 266.5h0.9M134.1 263.5h0.9M129.9 264.0h0.9M133.6 265.2h0.9M131.8 264.8h0.9M125.8 258.5h0.9M130.8 262.7h0.9M134.3 263.0h0.9M136.4 262.3h0.9M131.4 258.8h0.9M131.5 264.9h0.9M127.1 264.5h0.9M127.5 260.6h0.9M131.1 263.9h0.9M136.1 261.8h0.9M131.0 262.1h0.9M131.0 262.7h0.9M129.5 262.7h0.9M131.4 262.5h0.9M130.6 263.3h0.9M130.3 263.7h0.9M127.8 264.7h0.9M130.0 264.8h0.9M135.7 263.3h0.9M138.3 261.9h0.9M131.4 262.2h0.9M129.5 263.1h0.9M132.6 263.3h0.9M133.8 264.2h0.9M134.5 261.0h0.9M132.7 260.8h0.9M129.1 261.8h0.9M128.0 263.8h0.9M129.3 263.2h0.9M131.6 266.2h0.9M126.6 260.5h0.9M135.2 259.6h0.9M127.5 264.4h0.9M128.9 262.9h0.9M135.1 265.0h0.9M129.8 263.0h0.9M131.7 260.3h0.9M137.0 260.6h0.9M134.5 266.4h0.9M125.3 263.0h0.9M126.3 262.0h0.9M140.0 264.1h0.9M124.8 265.5h0.9M133.0 262.9h0.9M129.0 262.3h0.9M134.9 263.2h0.9M132.9 264.3h0.9M134.6 266.2h0.9M131.6 262.0h0.9M132.6 263.2h0.9M134.5 261.0h0.9M127.3 260.8h0.9M133.7 260.4h0.9M127.8 262.8h0.9M124.3 264.8h0.9M131.6 265.6h0.9M136.0 265.2h0.9M138.8 262.7h0.9M132.9 262.8h0.9M128.6 262.0h0.9M134.3 261.8h0.9M127.4 261.6h0.9M124.9 265.5h0.9M129.9 261.4h0.9M133.1 261.3h0.9M137.2 260.7h0.9M129.2 264.3h0.9M125.4 264.6h0.9M128.1 262.0h0.9M123.1 260.1h0.9M131.6 263.0h0.9M133.3 264.5h0.9M126.9 265.4h0.9M129.7 263.2h0.9M133.0 264.2h0.9M129.2 264.3h0.9M135.2 262.8h0.9M125.9 266.0h0.9M133.1 262.5h0.9M127.8 265.0h0.9M128.8 263.3h0.9M129.3 262.2h0.9M137.3 262.1h0.9M125.3 263.1h0.9M130.1 263.5h0.9M130.1 263.3h0.9M134.4 262.4h0.9M131.0 262.4h0.9M132.0 262.4h0.9M134.2 265.5h0.9M135.7 264.3h0.9M131.5 264.6h0.9M128.5 264.6h0.9M129.9 261.1h0.9M130.4 259.0h0.9M137.8 260.7h0.9M135.1 261.6h0.9M130.8 265.4h0.9M123.5 265.5h0.9M131.5 263.3h0.9M126.2 261.0h0.9M134.6 264.3h0.9M134.8 264.2h0.9M138.6 263.6h0.9M127.1 263.7h0.9M126.1 262.5h0.9M128.6 263.5h0.9M125.3 264.5h0.9M130.9 260.8h0.9M135.0 263.0h0.9M137.8 263.8h0.9M129.0 263.0h0.9M127.7 263.0h0.9M134.7 263.6h0.9M125.4 261.3h0.9M135.0 263.6h0.9M128.6 264.6h0.9M127.4 261.0h0.9M125.0 263.6h0.9M135.4 263.1h0.9M130.3 261.6h0.9M134.2 261.3h0.9M132.5 263.6h0.9M129.3 262.9h0.9M127.8 264.8h0.9M133.2 264.5h0.9M134.2 264.1h0.9M134.8 266.9h0.9M141.1 263.7h0.9M135.2 261.2h0.9M127.4 265.5h0.9M136.6 262.7h0.9M132.2 261.1h0.9M133.4 261.4h0.9M135.9 262.0h0.9M137.8 266.1h0.9M128.0 264.8h0.9M132.6 261.6h0.9M130.2 264.1h0.9M135.9 264.0h0.9M132.6 258.2h0.9M137.7 259.9h0.9M137.9 262.1h0.9M125.9 265.1h0.9M128.3 263.1h0.9M126.5 264.2h0.9M123.2 267.2h0.9M131.1 265.6h0.9M132.2 265.8h0.9M134.0 262.4h0.9M131.9 263.9h0.9M128.5 264.6h0.9M128.7 261.5h0.9M129.4 263.3h0.9M127.3 262.0h0.9M130.8 262.8h0.9M132.7 263.1h0.9M134.2 262.8h0.9M128.9 265.8h0.9M139.8 262.7h0.9M129.7 265.1h0.9M125.9 259.8h0.9M124.5 262.3h0.9M130.5 263.9h0.9M131.1 261.1h0.9M132.1 263.5h0.9M129.7 263.9h0.9M131.8 260.6h0.9M138.1 263.3h0.9M129.8 262.3h0.9M129.6 263.4h0.9M134.5 263.2h0.9M134.3 263.5h0.9M134.6 261.4h0.9M128.2 263.0h0.9M127.8 265.4h0.9M131.9 262.8h0.9M133.5 259.7h0.9M136.2 261.0h0.9M127.3 265.2h0.9M132.4 262.1h0.9M123.4 263.2h0.9M129.7 263.5h0.9M130.9 263.4h0.9M126.5 266.9h0.9M126.8 263.2h0.9M129.3 262.7h0.9M129.4 262.4h0.9M132.0 263.0h0.9M132.2 262.5h0.9M130.6 263.3h0.9M137.9 262.6h0.9M136.1 264.8h0.9M126.7 264.9h0.9M122.6 263.2h0.9M133.6 267.0h0.9M130.7 261.5h0.9M139.2 264.2h0.9M132.5 263.7h0.9M129.6 264.0h0.9M128.8 263.3h0.9M128.9 261.0h0.9M131.0 260.0h0.9M128.1 265.8h0.9M132.4 264.4h0.9M127.1 263.5h0.9M138.1 262.0h0.9M132.3 263.6h0.9M124.3 264.1h0.9M126.8 263.6h0.9M131.1 262.8h0.9M130.6 262.5h0.9M129.5 263.3h0.9M130.2 262.8h0.9M128.4 265.1h0.9M131.0 259.9h0.9M130.2 262.3h0.9M141.4 263.1h0.9M132.1 262.9h0.9M134.8 262.7h0.9M130.1 265.6h0.9M127.1 263.1h0.9M133.0 263.9h0.9M129.0 262.2h0.9M132.4 264.9h0.9M129.0 263.8h0.9M128.3 260.9h0.9M127.0 262.5h0.9M133.6 265.3h0.9M133.9 262.2h0.9M132.4 262.6h0.9M134.2 264.8h0.9M134.8 263.9h0.9M133.3 259.9h0.9M140.2 262.9h0.9M128.3 265.4h0.9M123.2 261.7h0.9M137.3 261.7h0.9M127.3 265.3h0.9M127.6 260.8h0.9M123.5 262.4h0.9M131.5 265.9h0.9M131.3 259.8h0.9M132.5 264.5h0.9M130.5 263.9h0.9M136.0 264.0h0.9M131.2 264.5h0.9M132.5 262.2h0.9M132.0 262.1h0.9M124.8 264.3h0.9M126.6 263.3h0.9M123.9 263.0h0.9M127.5 260.4h0.9M127.6 263.2h0.9M134.8 265.5h0.9M131.4 264.6h0.9M133.9 263.5h0.9M132.8 264.4h0.9M128.7 265.9h0.9M129.3 261.5h0.9M128.6 261.4h0.9M125.1 264.0h0.9M135.6 263.1h0.9M133.6 263.8h0.9M137.9 264.9h0.9M129.3 263.7h0.9M133.2 262.6h0.9M134.6 264.7h0.9M127.7 260.8h0.9M131.3 263.9h0.9M134.5 262.6h0.9M131.5 262.4h0.9M135.9 262.1h0.9M129.1 265.2h0.9M133.3 263.3h0.9M131.3 265.9h0.9M129.5 264.6h0.9M129.6 263.6h0.9M123.2 262.9h0.9M130.2 262.9h0.9M134.8 261.1h0.9M133.0 263.7h0.9M133.6 264.9h0.9M131.6 264.1h0.9M133.0 266.4h0.9M131.9 263.5h0.9M135.7 262.8h0.9M130.5 260.3h0.9M128.9 263.4h0.9M136.6 262.9h0.9M125.9 261.9h0.9M134.7 262.3h0.9M127.3 263.0h0.9M124.4 263.2h0.9M126.7 263.8h0.9M133.0 262.6h0.9M135.9 264.6h0.9M132.3 264.5h0.9M135.0 264.2h0.9M138.1 264.7h0.9M132.5 263.1h0.9M123.4 260.0h0.9M137.0 264.8h0.9M127.4 262.7h0.9M133.3 263.0h0.9M129.7 262.5h0.9M128.7 264.1h0.9M136.1 262.8h0.9M131.9 265.0h0.9M136.7 260.9h0.9M135.5 263.1h0.9M130.8 261.9h0.9M135.5 263.2h0.9M133.1 264.7h0.9M131.0 262.2h0.9M127.4 264.4h0.9M130.8 265.6h0.9M132.1 262.1h0.9M123.9 264.0h0.9M132.6 261.8h0.9M131.5 263.8h0.9M132.6 264.9h0.9M132.1 263.5h0.9M131.7 265.4h0.9M134.5 262.2h0.9M128.1 263.4h0.9M129.9 259.8h0.9M135.6 264.1h0.9M131.7 261.6h0.9M131.5 266.2h0.9M134.2 263.8h0.9M125.9 261.3h0.9M133.6 261.0h0.9M131.0 261.9h0.9M137.6 262.0h0.9M130.6 260.7h0.9M127.5 261.7h0.9M131.0 260.7h0.9M129.3 264.7h0.9M138.6 261.7h0.9M133.2 260.4h0.9M130.2 263.7h0.9M133.2 262.9h0.9M131.1 262.4h0.9M131.8 263.7h0.9M134.6 265.1h0.9M127.7 262.7h0.9M136.6 263.1h0.9M131.0 260.7h0.9M133.3 264.8h0.9M121.3 265.2h0.9M131.5 261.9h0.9M134.0 264.0h0.9M127.1 260.4h0.9M129.2 264.7h0.9M127.1 262.4h0.9M130.7 262.4h0.9M132.8 263.6h0.9M125.1 264.7h0.9M135.0 265.5h0.9M125.5 262.0h0.9M133.7 261.5h0.9M130.2 266.5h0.9M129.7 269.0h0.9M137.0 262.3h0.9M133.4 261.8h0.9M128.6 264.4h0.9M141.5 263.5h0.9M132.5 260.7h0.9M135.7 263.8h0.9M126.9 262.4h0.9M132.2 264.0h0.9M124.6 263.7h0.9M136.8 264.5h0.9M128.6 263.5h0.9M137.6 262.0h0.9M128.2 264.7h0.9M131.1 262.9h0.9M128.5 260.3h0.9M131.8 262.7h0.9M132.7 262.0h0.9M125.6 260.3h0.9M125.5 261.8h0.9M134.5 260.0h0.9M133.3 262.6h0.9M133.6 261.1h0.9M136.5 263.2h0.9M128.4 265.3h0.9M137.0 262.4h0.9M125.8 263.2h0.9M131.2 264.2h0.9M128.4 264.7h0.9M124.0 264.9h0.9M125.9 262.7h0.9M123.7 266.8h0.9M127.8 264.3h0.9M128.6 263.9h0.9M130.2 264.6h0.9M138.4 259.2h0.9M128.1 262.9h0.9M132.3 265.3h0.9M137.7 263.8h0.9M127.0 262.9h0.9M130.1 264.5h0.9M129.7 263.8h0.9M135.4 261.3h0.9M131.6 263.0h0.9M128.5 263.6h0.9M127.6 260.3h0.9M136.0 263.0h0.9M124.6 263.7h0.9M127.0 262.0h0.9M135.0 263.8h0.9M129.0 262.6h0.9M126.7 265.7h0.9M128.8 264.8h0.9M129.1 261.9h0.9M131.7 263.6h0.9M134.3 263.7h0.9M136.5 260.7h0.9M128.3 263.2h0.9M130.0 261.3h0.9M130.2 262.4h0.9M133.9 262.2h0.9M135.1 261.2h0.9M132.7 260.8h0.9M124.9 262.3h0.9M136.0 261.6h0.9M128.8 262.0h0.9M131.7 263.9h0.9M130.8 263.9h0.9M126.7 262.4h0.9M133.8 264.6h0.9M129.8 261.6h0.9M129.0 262.1h0.9M126.7 262.4h0.9M130.6 265.6h0.9M132.0 265.3h0.9M131.1 262.7h0.9M137.5 263.0h0.9M132.1 264.0h0.9M134.0 261.6h0.9M126.0 265.3h0.9M122.3 262.7h0.9M130.6 262.4h0.9M127.8 262.4h0.9M129.5 262.2h0.9M132.8 261.4h0.9M122.3 261.8h0.9M134.5 261.3h0.9M125.9 262.4h0.9M133.5 262.4h0.9M128.2 260.8h0.9M131.1 258.9h0.9M127.3 262.5h0.9M133.3 260.2h0.9M135.7 263.6h0.9M129.9 263.8h0.9M133.6 263.7h0.9M125.0 264.7h0.9M137.1 265.3h0.9M125.5 261.4h0.9M137.0 262.9h0.9M140.2 264.3h0.9M134.1 262.1h0.9M138.0 263.4h0.9M126.1 261.8h0.9M130.2 262.7h0.9M130.4 262.5h0.9M121.2 261.4h0.9M132.2 261.8h0.9M129.0 264.3h0.9M129.8 260.6h0.9M131.5 263.2h0.9M127.6 265.1h0.9M135.2 265.4h0.9M136.3 266.7h0.9M132.0 264.0h0.9M126.6 265.5h0.9M126.6 262.6h0.9M128.3 263.9h0.9M132.1 265.3h0.9M134.4 262.0h0.9M121.8 262.0h0.9M133.6 265.1h0.9M125.6 263.4h0.9M130.9 264.9h0.9M129.8 263.5h0.9M128.4 260.5h0.9M129.3 262.7h0.9M124.9 266.4h0.9M135.7 266.2h0.9M133.5 261.0h0.9M128.8 263.7h0.9M137.9 263.3h0.9M128.0 264.8h0.9M129.2 264.0h0.9M128.8 262.4h0.9M133.0 264.1h0.9M131.5 264.4h0.9M135.0 262.4h0.9M131.2 265.3h0.9M128.2 261.8h0.9M130.6 260.0h0.9M135.4 261.4h0.9M133.2 264.7h0.9M129.1 263.6h0.9M129.8 263.0h0.9M129.0 263.1h0.9M132.7 265.8h0.9M125.2 263.7h0.9M126.5 264.8h0.9M134.1 265.4h0.9M127.2 268.2h0.9M131.1 265.3h0.9M129.3 265.9h0.9M131.9 263.1h0.9M130.7 262.9h0.9M131.3 265.6h0.9M133.3 263.3h0.9M127.5 264.0h0.9M133.7 263.5h0.9M136.1 262.7h0.9M139.7 264.4h0.9M131.3 261.9h0.9M127.9 264.7h0.9M133.0 262.6h0.9M138.0 263.4h0.9M136.7 262.4h0.9M127.3 265.2h0.9M132.4 264.2h0.9M132.9 264.1h0.9M129.9 264.2h0.9M130.4 263.6h0.9M131.2 265.1h0.9M123.8 263.0h0.9M134.6 261.9h0.9M135.8 262.6h0.9M135.2 262.4h0.9M128.4 264.8h0.9M135.4 263.1h0.9M130.7 260.2h0.9M134.2 261.1h0.9M127.7 264.3h0.9M130.6 262.4h0.9M132.4 265.0h0.9M127.8 264.9h0.9M126.8 261.8h0.9M136.3 262.9h0.9M135.7 261.1h0.9M126.0 263.3h0.9M137.7 260.9h0.9M129.5 264.9h0.9M133.8 265.2h0.9M134.1 263.6h0.9M127.2 261.0h0.9M133.3 258.8h0.9M127.0 264.6h0.9M125.9 262.9h0.9M132.1 262.7h0.9M128.4 262.5h0.9M125.4 263.6h0.9M129.9 261.7h0.9M131.4 262.5h0.9M133.6 264.1h0.9M127.2 262.4h0.9M130.4 260.9h0.9M129.0 264.3h0.9M133.6 263.0h0.9M136.0 267.5h0.9M136.5 260.2h0.9M136.9 266.0h0.9M132.4 264.7h0.9M128.5 261.5h0.9M135.0 262.8h0.9M133.8 265.3h0.9M128.0 261.3h0.9M131.0 264.0h0.9M124.7 262.9h0.9M134.4 262.7h0.9M131.7 262.5h0.9M132.0 262.4h0.9M127.9 262.7h0.9M133.5 263.2h0.9M133.9 264.6h0.9M128.1 261.8h0.9M130.0 265.4h0.9M129.4 264.4h0.9M136.3 268.7h0.9M131.1 263.1h0.9M128.2 259.8h0.9M134.8 263.6h0.9M124.1 262.2h0.9M129.7 261.9h0.9M126.7 263.5h0.9M132.1 259.5h0.9M129.6 262.1h0.9M136.0 266.0h0.9M136.0 264.3h0.9M128.8 262.7h0.9M124.6 260.0h0.9M134.4 264.5h0.9M132.0 265.6h0.9M136.0 263.1h0.9M128.1 262.1h0.9M127.0 261.6h0.9M129.3 261.2h0.9M128.9 262.5h0.9M134.5 264.4h0.9M135.8 263.7h0.9M128.4 261.8h0.9M128.9 263.5h0.9M132.3 265.9h0.9M132.5 264.1h0.9M133.4 262.1h0.9M130.8 261.5h0.9M128.8 263.6h0.9M136.9 260.5h0.9M123.4 261.7h0.9M136.9 261.6h0.9M127.4 264.6h0.9M131.8 262.7h0.9M131.5 265.8h0.9M135.3 264.9h0.9M134.3 263.4h0.9M135.9 262.2h0.9M133.0 261.9h0.9M131.9 265.0h0.9M129.5 265.2h0.9M135.7 264.6h0.9M136.7 263.8h0.9M122.1 260.4h0.9M130.2 264.0h0.9M123.9 260.4h0.9M125.8 263.1h0.9M127.1 261.0h0.9M136.6 264.7h0.9M129.3 265.9h0.9M127.7 262.7h0.9M127.6 263.0h0.9M134.3 262.5h0.9M126.9 263.4h0.9M133.2 263.6h0.9M128.6 264.2h0.9M135.3 264.8h0.9M132.4 264.2h0.9M138.6 261.3h0.9M129.4 262.9h0.9M131.2 265.5h0.9M123.0 265.4h0.9M131.3 263.9h0.9M123.4 266.8h0.9M128.7 263.9h0.9M129.5 268.1h0.9M130.6 261.0h0.9M124.5 263.1h0.9M135.2 264.7h0.9M133.9 265.9h0.9M130.7 261.8h0.9M131.9 263.6h0.9M135.1 262.7h0.9M135.5 261.6h0.9M129.2 261.7h0.9M128.7 261.2h0.9M131.1 265.2h0.9M123.9 260.7h0.9M127.6 262.9h0.9M133.3 262.8h0.9M133.0 263.6h0.9M122.1 262.5h0.9M128.8 265.2h0.9M136.0 262.3h0.9M130.0 266.0h0.9M130.7 267.9h0.9M128.3 264.0h0.9M122.0 264.1h0.9M130.2 262.0h0.9M135.1 262.6h0.9M129.3 262.8h0.9M137.8 265.1h0.9M130.1 266.4h0.9M127.6 264.1h0.9M129.5 261.3h0.9M134.9 264.4h0.9M124.0 265.1h0.9M135.1 264.6h0.9M131.6 265.1h0.9M132.5 265.0h0.9M135.2 260.6h0.9M135.0 260.9h0.9M141.9 263.7h0.9M132.1 261.2h0.9M131.0 263.4h0.9M130.2 263.7h0.9M133.7 260.3h0.9M134.0 262.6h0.9M128.5 261.0h0.9M135.4 262.4h0.9M130.3 263.0h0.9M131.7 262.0h0.9M131.8 262.7h0.9M134.5 263.7h0.9M129.7 264.0h0.9M132.1 261.6h0.9M132.9 265.7h0.9M128.3 263.1h0.9M133.1 260.1h0.9M128.8 263.7h0.9M137.7 260.4h0.9M138.6 264.2h0.9M130.3 264.0h0.9M126.0 261.6h0.9M134.1 264.8h0.9M128.4 261.4h0.9M129.2 266.0h0.9M132.0 266.1h0.9M136.2 265.4h0.9M131.2 263.1h0.9M137.1 261.2h0.9M126.3 265.3h0.9M132.9 259.3h0.9M131.9 262.3h0.9M132.7 261.7h0.9M130.5 265.9h0.9M134.4 260.1h0.9M133.1 264.4h0.9M133.2 265.6h0.9M136.2 261.0h0.9M132.8 264.9h0.9M132.4 261.2h0.9M135.0 263.6h0.9M142.5 262.2h0.9M135.2 261.7h0.9M131.7 263.6h0.9M131.4 267.3h0.9M125.2 262.5h0.9M129.6 263.7h0.9M134.3 264.7h0.9M131.8 262.9h0.9M134.5 264.3h0.9M126.6 264.7h0.9M131.0 265.8h0.9M133.9 262.8h0.9M123.7 261.0h0.9M136.3 265.4h0.9M134.7 262.4h0.9M126.2 261.8h0.9M128.0 261.5h0.9M132.9 260.6h0.9M126.1 262.1h0.9M135.4 262.4h0.9M132.6 263.1h0.9M130.6 263.6h0.9M130.1 264.6h0.9M136.8 261.9h0.9M132.4 259.3h0.9M131.7 262.2h0.9M128.0 264.4h0.9M130.0 265.5h0.9M137.0 264.4h0.9M122.7 259.4h0.9M137.0 263.3h0.9M136.2 267.9h0.9M128.2 266.1h0.9M129.7 262.1h0.9M126.9 257.7h0.9M139.6 262.6h0.9M136.6 268.4h0.9M125.8 265.3h0.9M121.6 262.4h0.9M140.7 265.2h0.9M135.7 265.8h0.9M132.4 263.8h0.9M137.3 260.8h0.9M124.8 267.6h0.9M123.3 261.9h0.9M136.6 260.9h0.9M134.0 265.6h0.9M123.9 260.7h0.9M125.2 262.2h0.9M136.3 262.9h0.9M129.6 264.4h0.9M131.8 264.0h0.9M141.0 264.2h0.9M130.3 265.9h0.9M129.6 265.3h0.9M136.9 263.3h0.9M139.9 259.1h0.9M124.5 267.7h0.9M126.7 260.7h0.9M124.1 266.4h0.9M124.3 256.1h0.9M132.3 264.6h0.9M131.1 263.7h0.9M139.4 260.0h0.9M130.4 260.9h0.9M132.0 259.5h0.9M135.7 262.9h0.9M123.4 264.3h0.9M134.3 258.0h0.9M133.0 262.1h0.9M140.9 263.1h0.9M136.6 263.9h0.9M129.1 264.7h0.9M126.1 265.9h0.9M133.0 261.4h0.9M131.3 260.5h0.9M136.5 256.6h0.9M134.1 258.3h0.9M139.7 261.6h0.9M140.8 264.9h0.9M138.0 262.7h0.9M121.7 267.2h0.9M134.9 266.9h0.9M143.8 261.0h0.9M142.2 267.0h0.9M145.9 260.9h0.9M131.1 267.1h0.9M127.1 262.3h0.9M126.3 263.3h0.9M139.8 265.5h0.9M124.7 262.6h0.9M130.1 260.5h0.9M133.1 258.7h0.9M130.3 262.6h0.9M131.8 262.0h0.9M136.2 260.8h0.9M134.1 263.5h0.9M135.6 257.0h0.9M132.6 264.3h0.9M145.7 259.7h0.9M122.0 266.3h0.9M125.9 264.4h0.9M130.2 261.0h0.9M128.2 263.9h0.9M135.8 261.9h0.9M129.7 267.1h0.9M138.5 263.1h0.9M130.7 262.9h0.9M132.4 254.9h0.9M128.8 264.9h0.9M137.9 258.6h0.9M135.2 259.0h0.9M127.2 268.9h0.9M141.4 263.1h0.9M129.4 267.9h0.9M132.6 263.2h0.9M126.7 266.4h0.9M128.6 262.0h0.9M131.9 260.1h0.9M132.5 260.4h0.9M134.0 264.4h0.9M127.7 264.5h0.9M134.4 264.5h0.9M126.3 259.4h0.9M141.1 265.7h0.9M131.4 264.4h0.9M135.7 267.1h0.9M139.2 262.2h0.9M127.3 259.6h0.9M123.4 264.5h0.9M131.9 258.9h0.9M134.0 259.6h0.9M134.4 260.0h0.9M133.5 260.3h0.9M129.6 262.0h0.9M137.5 263.1h0.9M128.9 260.8h0.9M132.7 263.1h0.9M131.7 258.6h0.9M143.6 262.3h0.9M128.1 262.5h0.9M125.5 263.9h0.9M133.4 265.0h0.9M133.2 256.5h0.9M139.8 265.5h0.9M127.5 260.9h0.9M125.4 263.8h0.9M127.1 261.6h0.9M128.9 263.1h0.9M136.3 260.9h0.9M134.6 262.1h0.9M131.1 261.3h0.9M138.9 264.2h0.9M122.7 259.2h0.9M135.2 269.1h0.9M134.0 260.3h0.9M123.6 265.1h0.9M135.5 261.2h0.9M142.1 262.9h0.9M128.8 264.7h0.9M131.3 265.2h0.9M137.3 256.4h0.9M137.2 268.6h0.9M135.4 262.2h0.9M127.3 265.3h0.9M139.0 265.1h0.9M132.9 265.1h0.9M134.5 268.2h0.9M131.5 259.0h0.9M129.5 259.5h0.9M124.9 266.3h0.9M130.3 264.8h0.9M130.7 265.9h0.9M137.2 268.3h0.9M135.3 267.8h0.9M130.7 262.6h0.9M138.7 265.7h0.9M134.0 263.6h0.9M141.7 261.3h0.9M144.4 261.4h0.9M143.9 264.0h0.9M140.7 261.0h0.9M149.5 260.4h0.9M143.9 265.5h0.9M148.1 260.3h0.9M144.8 263.9h0.9M145.4 260.7h0.9M148.4 265.0h0.9M140.9 263.3h0.9M165.1 262.9h0.9M142.4 261.5h0.9M150.9 260.2h0.9M145.2 261.9h0.9M142.6 261.9h0.9M140.7 262.9h0.9M142.7 264.0h0.9M142.2 262.8h0.9M144.4 257.0h0.9M152.2 258.5h0.9M157.2 258.5h0.9M150.0 261.1h0.9M140.1 261.8h0.9M151.6 263.4h0.9M144.5 261.4h0.9M174.9 263.2h0.9M143.3 263.8h0.9M143.8 264.1h0.9M142.1 261.8h0.9M140.1 260.5h0.9M169.7 266.7h0.9M183.4 267.1h0.9M147.9 262.5h0.9M142.2 262.3h0.9M155.7 262.1h0.9M143.1 261.5h0.9M140.8 263.3h0.9M144.3 259.6h0.9M148.3 260.7h0.9M147.7 262.5h0.9M140.1 261.5h0.9M141.8 257.4h0.9M145.7 259.8h0.9M154.8 260.4h0.9M144.0 262.5h0.9M155.1 260.2h0.9M147.1 258.3h0.9M141.9 260.6h0.9M146.9 262.1h0.9M155.1 263.2h0.9M142.2 263.1h0.9M155.1 263.6h0.9M152.2 261.2h0.9M144.4 264.7h0.9M146.8 264.3h0.9M171.7 263.1h0.9M143.9 261.6h0.9M146.3 259.6h0.9M149.7 261.5h0.9M155.4 259.5h0.9M143.6 262.8h0.9M155.5 265.2h0.9M146.9 265.0h0.9M162.5 262.6h0.9M141.8 261.0h0.9M147.8 261.7h0.9M154.4 261.8h0.9M145.9 263.7h0.9M180.9 265.2h0.9M142.5 262.8h0.9M146.4 263.1h0.9M148.9 259.7h0.9M142.5 259.1h0.9M144.0 261.8h0.9M140.2 264.8h0.9M173.7 261.8h0.9M149.4 261.7h0.9M167.1 264.0h0.9M154.4 262.1h0.9M143.6 262.3h0.9M145.5 264.5h0.9M146.4 263.9h0.9M142.3 257.5h0.9M160.7 261.5h0.9M157.2 261.9h0.9M146.5 264.0h0.9M167.1 262.8h0.9M159.0 263.5h0.9M140.1 256.8h0.9" stroke="#000" stroke-width="0.9" stroke-opacity="0.85" fill="none"/>
<text x="203" y="303.6" font-size="9.4" stroke="#000" stroke-width="0.3" text-anchor="end" textLength="17.2" lengthAdjust="spacingAndGlyphs" >1.40</text>
<line x1="113.3" y1="63" x2="113.3" y2="146.3" stroke="#000" stroke-width="1.4" />
<line x1="113.3" y1="187" x2="113.3" y2="302.2" stroke="#000" stroke-width="1.4" />
<text transform="translate(118.4 182.2) rotate(-90)" font-size="17" stroke="#000" stroke-width="0.3" font-weight="bold" textLength="32.6" lengthAdjust="spacingAndGlyphs" >SSC</text>
<line x1="117.3" y1="319.2" x2="131.7" y2="319.2" stroke="#000" stroke-width="1.1" />
<line x1="171" y1="318.8" x2="200.6" y2="318.8" stroke="#000" stroke-width="1.1" />
<text x="136" y="320.8" font-size="9.4" stroke="#000" stroke-width="0.3" textLength="31.4" lengthAdjust="spacingAndGlyphs" >perforin</text>
<text transform="translate(222 91.9) rotate(-90)" font-size="17.2" stroke="#000" stroke-width="0.3" font-weight="bold" textLength="56" lengthAdjust="spacingAndGlyphs" >control</text>
<text transform="translate(222.2 177.6) rotate(-90)" font-size="17" stroke="#000" stroke-width="0.3" font-weight="bold" textLength="42.4" lengthAdjust="spacingAndGlyphs" >sham</text>
<text transform="translate(219.9 303.2) rotate(-90)" font-size="17.2" stroke="#000" stroke-width="0.3" font-weight="bold" textLength="73" lengthAdjust="spacingAndGlyphs" >after CLP</text>
<text x="226.2" y="14.8" font-size="17.6" stroke="#000" stroke-width="0.3" font-weight="bold" >C</text>
<text transform="translate(249.4 145) rotate(-90)" font-size="8" stroke="#000" stroke-width="0.3" font-weight="bold" textLength="129.6" lengthAdjust="spacingAndGlyphs" >% perforin<tspan font-size="5" dy="-2.6">+</tspan><tspan dy="2.6"> among CD8</tspan><tspan font-size="5" dy="-2.6">+</tspan><tspan dy="2.6"> T cells</tspan></text>
<line x1="271" y1="24" x2="271" y2="137.6" stroke="#000" stroke-width="1.5" />
<line x1="268.4" y1="136.9" x2="271" y2="136.9" stroke="#000" stroke-width="1.3" />
<text x="267.8" y="139.6" font-size="7.5" stroke="#000" stroke-width="0.3" font-weight="bold" text-anchor="end" textLength="10.4" lengthAdjust="spacingAndGlyphs" >0.0</text>
<line x1="268.4" y1="108.80000000000001" x2="271" y2="108.80000000000001" stroke="#000" stroke-width="1.3" />
<text x="267.8" y="111.50000000000001" font-size="7.5" stroke="#000" stroke-width="0.3" font-weight="bold" text-anchor="end" textLength="10.4" lengthAdjust="spacingAndGlyphs" >0.2</text>
<line x1="268.4" y1="80.7" x2="271" y2="80.7" stroke="#000" stroke-width="1.3" />
<text x="267.8" y="83.4" font-size="7.5" stroke="#000" stroke-width="0.3" font-weight="bold" text-anchor="end" textLength="10.4" lengthAdjust="spacingAndGlyphs" >0.4</text>
<line x1="268.4" y1="52.599999999999994" x2="271" y2="52.599999999999994" stroke="#000" stroke-width="1.3" />
<text x="267.8" y="55.3" font-size="7.5" stroke="#000" stroke-width="0.3" font-weight="bold" text-anchor="end" textLength="10.4" lengthAdjust="spacingAndGlyphs" >0.6</text>
<line x1="268.4" y1="24.5" x2="271" y2="24.5" stroke="#000" stroke-width="1.3" />
<text x="267.8" y="27.2" font-size="7.5" stroke="#000" stroke-width="0.3" font-weight="bold" text-anchor="end" textLength="10.4" lengthAdjust="spacingAndGlyphs" >0.8</text>
<line x1="270.3" y1="136.9" x2="366.4" y2="136.9" stroke="#000" stroke-width="1.5" />
<line x1="318.7" y1="136.9" x2="318.7" y2="140.2" stroke="#000" stroke-width="1.2" />
<line x1="280.9" y1="100.6" x2="280.9" y2="106.2" stroke="#000" stroke-width="1.2" />
<line x1="277.29999999999995" y1="100.6" x2="284.5" y2="100.6" stroke="#000" stroke-width="1.2" />
<rect x="274.8" y="106.8" width="12.200000000000035" height="30.1" fill="#fff" stroke="#000" stroke-width="1.2"/>
<line x1="299.8" y1="74.6" x2="299.8" y2="88.5" stroke="#000" stroke-width="1.2" />
<line x1="295.8" y1="74.6" x2="303.8" y2="74.6" stroke="#000" stroke-width="1.2" />
<rect x="293.6" y="89.1" width="12.400000000000023" height="47.800000000000004" fill="#000" stroke="#000" stroke-width="1.2"/>
<line x1="337.6" y1="34.2" x2="337.6" y2="52.6" stroke="#000" stroke-width="1.2" />
<line x1="334.40000000000003" y1="34.2" x2="340.8" y2="34.2" stroke="#000" stroke-width="1.2" />
<rect x="331.40000000000003" y="53.2" width="12.399999999999967" height="83.70000000000002" fill="#fff" stroke="#000" stroke-width="1.2"/>
<line x1="356.6" y1="89.5" x2="356.6" y2="91.2" stroke="#000" stroke-width="1.2" />
<line x1="353.0" y1="89.5" x2="360.20000000000005" y2="89.5" stroke="#000" stroke-width="1.2" />
<rect x="350.40000000000003" y="91.8" width="12.399999999999967" height="45.1" fill="#000" stroke="#000" stroke-width="1.2"/>
<polyline points="280.4,91.3 280.4,19.9 338,19.9" fill="none" stroke="#000" stroke-width="1.3"/>
<text x="280.8" y="17.4" font-size="8" stroke="#000" stroke-width="0.3" font-weight="bold" text-anchor="middle" >*</text>
<line x1="272.9" y1="140.3" x2="306.5" y2="140.3" stroke="#000" stroke-width="1.2" />
<line x1="329.8" y1="141.2" x2="364.4" y2="141.2" stroke="#000" stroke-width="1.2" />
<text x="276.4" y="149" font-size="7.6" stroke="#000" stroke-width="0.3" textLength="28.6" lengthAdjust="spacingAndGlyphs" >no tumor</text>
<text x="327.8" y="149.3" font-size="7.6" stroke="#000" stroke-width="0.3" textLength="36" lengthAdjust="spacingAndGlyphs" >with tumor</text>
<rect x="359.5" y="33.2" width="9.1" height="6.7" fill="#fff" stroke="#000" stroke-width="1.2"/>
<rect x="358.9" y="44.3" width="10.3" height="7.7" fill="#000"/>
<text x="372.8" y="39.7" font-size="8.5" stroke="#000" stroke-width="0.1" textLength="21" lengthAdjust="spacingAndGlyphs" >sham</text>
<text x="372.4" y="51.3" font-size="8.5" stroke="#000" stroke-width="0.1" textLength="36.6" lengthAdjust="spacingAndGlyphs" >after CLP</text>
<text x="406.6" y="15.8" font-size="17.6" stroke="#000" stroke-width="0.3" font-weight="bold" >D</text>
<text transform="translate(429.8 147) rotate(-90)" font-size="8" stroke="#000" stroke-width="0.3" font-weight="bold" textLength="138" lengthAdjust="spacingAndGlyphs" >CD8<tspan font-size="5" dy="-2.6">+</tspan><tspan dy="2.6"> IFN&#947;</tspan><tspan font-size="5" dy="-2.6">+</tspan><tspan dy="2.6"> T cells / Tregs (ratio %)</tspan></text>
<line x1="457.2" y1="13.6" x2="457.2" y2="143.0" stroke="#000" stroke-width="1.5" />
<line x1="453" y1="142.3" x2="457.2" y2="142.3" stroke="#000" stroke-width="1.4" />
<text x="452.4" y="145.0" font-size="7.4" stroke="#000" stroke-width="0.3" font-weight="bold" text-anchor="end" >0.0</text>
<line x1="453" y1="99.60000000000001" x2="457.2" y2="99.60000000000001" stroke="#000" stroke-width="1.4" />
<text x="452.4" y="102.30000000000001" font-size="7.4" stroke="#000" stroke-width="0.3" font-weight="bold" text-anchor="end" >0.5</text>
<line x1="453" y1="56.900000000000006" x2="457.2" y2="56.900000000000006" stroke="#000" stroke-width="1.4" />
<text x="452.4" y="59.60000000000001" font-size="7.4" stroke="#000" stroke-width="0.3" font-weight="bold" text-anchor="end" >1.0</text>
<line x1="453" y1="14.199999999999989" x2="457.2" y2="14.199999999999989" stroke="#000" stroke-width="1.4" />
<text x="452.4" y="16.899999999999988" font-size="7.4" stroke="#000" stroke-width="0.3" font-weight="bold" text-anchor="end" >1.5</text>
<line x1="456.5" y1="142.3" x2="520" y2="142.3" stroke="#000" stroke-width="1.5" />
<line x1="487.3" y1="142.3" x2="487.3" y2="146.2" stroke="#000" stroke-width="1.3" />
<line x1="472.4" y1="32.4" x2="472.4" y2="55.2" stroke="#000" stroke-width="1.2" />
<line x1="467.2" y1="32.4" x2="477.59999999999997" y2="32.4" stroke="#000" stroke-width="1.2" />
<rect x="462.6" y="55.800000000000004" width="19.600000000000012" height="86.50000000000001" fill="#fff" stroke="#000" stroke-width="1.2"/>
<line x1="502.5" y1="106.8" x2="502.5" y2="110.6" stroke="#000" stroke-width="1.2" />
<line x1="497.1" y1="106.8" x2="507.9" y2="106.8" stroke="#000" stroke-width="1.2" />
<rect x="492.8" y="111.19999999999999" width="19.399999999999967" height="31.100000000000016" fill="#000" stroke="#000" stroke-width="1.2"/>
<text x="502.6" y="101.6" font-size="9" stroke="#000" stroke-width="0.3" font-weight="bold" text-anchor="middle" >*</text>
<text x="235.4" y="176.3" font-size="17" stroke="#000" stroke-width="0.3" font-weight="bold" >E</text>
<text transform="translate(239.3 290.2) rotate(-90)" font-size="9.5" stroke="#000" stroke-width="0.3" textLength="97.4" lengthAdjust="spacingAndGlyphs" >Tumor volume (mm<tspan font-size="6" dy="-3.2">3</tspan><tspan dy="3.2">)</tspan></text>
<line x1="263.5" y1="190.4" x2="263.5" y2="296.6" stroke="#000" stroke-width="1.3" />
<line x1="260.4" y1="296.0" x2="263.5" y2="296.0" stroke="#000" stroke-width="1.2" />
<text x="259.8" y="298.6" font-size="7.2" stroke="#000" stroke-width="0.3" font-weight="bold" text-anchor="end" >0</text>
<line x1="260.4" y1="274.95" x2="263.5" y2="274.95" stroke="#000" stroke-width="1.2" />
<text x="259.8" y="277.55" font-size="7.2" stroke="#000" stroke-width="0.3" font-weight="bold" text-anchor="end" textLength="14.6" lengthAdjust="spacingAndGlyphs" >1000</text>
<line x1="260.4" y1="253.9" x2="263.5" y2="253.9" stroke="#000" stroke-width="1.2" />
<text x="259.8" y="256.5" font-size="7.2" stroke="#000" stroke-width="0.3" font-weight="bold" text-anchor="end" textLength="14.6" lengthAdjust="spacingAndGlyphs" >2000</text>
<line x1="260.4" y1="232.85" x2="263.5" y2="232.85" stroke="#000" stroke-width="1.2" />
<text x="259.8" y="235.45" font-size="7.2" stroke="#000" stroke-width="0.3" font-weight="bold" text-anchor="end" textLength="14.6" lengthAdjust="spacingAndGlyphs" >3000</text>
<line x1="260.4" y1="211.8" x2="263.5" y2="211.8" stroke="#000" stroke-width="1.2" />
<text x="259.8" y="214.4" font-size="7.2" stroke="#000" stroke-width="0.3" font-weight="bold" text-anchor="end" textLength="14.6" lengthAdjust="spacingAndGlyphs" >4000</text>
<line x1="260.4" y1="190.75" x2="263.5" y2="190.75" stroke="#000" stroke-width="1.2" />
<text x="259.8" y="193.35" font-size="7.2" stroke="#000" stroke-width="0.3" font-weight="bold" text-anchor="end" textLength="14.6" lengthAdjust="spacingAndGlyphs" >5000</text>
<line x1="261.2" y1="296" x2="520" y2="296" stroke="#000" stroke-width="1.3" />
<line x1="261.5" y1="311.4" x2="520" y2="311.4" stroke="#555" stroke-width="1.3" />
<text x="270.2" y="177.3" font-size="16" stroke="#000" stroke-width="0.3" textLength="47.2" lengthAdjust="spacingAndGlyphs" >day 11</text>
<text x="334.2" y="177.3" font-size="16" stroke="#000" stroke-width="0.3" textLength="49.5" lengthAdjust="spacingAndGlyphs" >day 17</text>
<text x="399.2" y="177.3" font-size="16" stroke="#000" stroke-width="0.3" textLength="49.6" lengthAdjust="spacingAndGlyphs" >day 20</text>
<text x="464" y="177.3" font-size="16" stroke="#000" stroke-width="0.3" textLength="50" lengthAdjust="spacingAndGlyphs" >day 24</text>
<line x1="323.6" y1="165.8" x2="323.6" y2="184.6" stroke="#000" stroke-width="1.1" />
<line x1="323.6" y1="219" x2="323.6" y2="298.6" stroke="#000" stroke-width="1.1" />
<line x1="391.5" y1="165.8" x2="391.5" y2="184" stroke="#000" stroke-width="1.1" />
<line x1="391.5" y1="218.6" x2="391.5" y2="298.8" stroke="#000" stroke-width="1.1" />
<line x1="460" y1="164.8" x2="460" y2="298.8" stroke="#000" stroke-width="1.1" />
<text x="265.8" y="195" font-size="10.3" stroke="#000" stroke-width="0.15" textLength="180.2" lengthAdjust="spacingAndGlyphs" >A - after CLP Tregs+naive CD8<tspan font-size="6.5" dy="-3.4">+</tspan><tspan dy="3.4"> T cells</tspan></text>
<text x="265.8" y="204.7" font-size="10.3" stroke="#000" stroke-width="0.15" textLength="163.2" lengthAdjust="spacingAndGlyphs" >B - sham Tregs+naive CD8<tspan font-size="6.5" dy="-3.4">+</tspan><tspan dy="3.4"> T cells</tspan></text>
<text x="265.8" y="214.3" font-size="10.3" stroke="#000" stroke-width="0.15" textLength="123.4" lengthAdjust="spacingAndGlyphs" >C - only naive CD8<tspan font-size="6.5" dy="-3.4">+</tspan><tspan dy="3.4"> T cells</tspan></text>
<line x1="272" y1="296" x2="272" y2="298.8" stroke="#000" stroke-width="1.1" />
<text x="272" y="309.8" font-size="9.8" stroke="#000" stroke-width="0.2" text-anchor="middle" >A</text>
<line x1="289" y1="296" x2="289" y2="298.8" stroke="#000" stroke-width="1.1" />
<text x="289" y="309.8" font-size="9.8" stroke="#000" stroke-width="0.2" text-anchor="middle" >B</text>
<line x1="306.4" y1="296" x2="306.4" y2="298.8" stroke="#000" stroke-width="1.1" />
<text x="306.4" y="309.8" font-size="9.8" stroke="#000" stroke-width="0.2" text-anchor="middle" >C</text>
<line x1="340.4" y1="296" x2="340.4" y2="298.8" stroke="#000" stroke-width="1.1" />
<text x="340.4" y="309.8" font-size="9.8" stroke="#000" stroke-width="0.2" text-anchor="middle" >A</text>
<line x1="357.4" y1="296" x2="357.4" y2="298.8" stroke="#000" stroke-width="1.1" />
<text x="357.4" y="309.8" font-size="9.8" stroke="#000" stroke-width="0.2" text-anchor="middle" >B</text>
<line x1="374.2" y1="296" x2="374.2" y2="298.8" stroke="#000" stroke-width="1.1" />
<text x="374.2" y="309.8" font-size="9.8" stroke="#000" stroke-width="0.2" text-anchor="middle" >C</text>
<line x1="408.6" y1="296" x2="408.6" y2="298.8" stroke="#000" stroke-width="1.1" />
<text x="408.6" y="309.8" font-size="9.8" stroke="#000" stroke-width="0.2" text-anchor="middle" >A</text>
<line x1="425.6" y1="296" x2="425.6" y2="298.8" stroke="#000" stroke-width="1.1" />
<text x="425.6" y="309.8" font-size="9.8" stroke="#000" stroke-width="0.2" text-anchor="middle" >B</text>
<line x1="442.4" y1="296" x2="442.4" y2="298.8" stroke="#000" stroke-width="1.1" />
<text x="442.4" y="309.8" font-size="9.8" stroke="#000" stroke-width="0.2" text-anchor="middle" >C</text>
<line x1="477" y1="296" x2="477" y2="298.8" stroke="#000" stroke-width="1.1" />
<text x="477" y="309.8" font-size="9.8" stroke="#000" stroke-width="0.2" text-anchor="middle" >A</text>
<line x1="494" y1="296" x2="494" y2="298.8" stroke="#000" stroke-width="1.1" />
<text x="494" y="309.8" font-size="9.8" stroke="#000" stroke-width="0.2" text-anchor="middle" >B</text>
<line x1="511" y1="296" x2="511" y2="298.8" stroke="#000" stroke-width="1.1" />
<text x="511" y="309.8" font-size="9.8" stroke="#000" stroke-width="0.2" text-anchor="middle" >C</text>
<text x="356.4" y="321.2" font-size="10.4" stroke="#000" stroke-width="0.3" textLength="84.4" lengthAdjust="spacingAndGlyphs" >after LLC injection</text>
<polyline points="268.8,258.4 307.7,258.4 307.7,280" fill="none" stroke="#000" stroke-width="1.1"/>
<polyline points="271.7,273.2 289.2,273.2 289.2,283.8" fill="none" stroke="#000" stroke-width="1.1"/>
<text x="299" y="255.6" font-size="7.5" stroke="#000" stroke-width="0.3" font-weight="bold" text-anchor="middle" >*</text>
<text x="284.6" y="271.4" font-size="7.5" stroke="#000" stroke-width="0.3" font-weight="bold" text-anchor="middle" >**</text>
<circle cx="272" cy="287.6" r="1.85"/>
<circle cx="270.6" cy="290.4" r="1.85"/>
<circle cx="273.6" cy="290.6" r="1.85"/>
<circle cx="272" cy="292.4" r="1.85"/>
<circle cx="269" cy="293.4" r="1.85"/>
<circle cx="275.4" cy="293.4" r="1.85"/>
<circle cx="270.4" cy="294.2" r="1.85"/>
<circle cx="273.8" cy="294.2" r="1.85"/>
<circle cx="272" cy="294.6" r="1.85"/>
<line x1="267.0" y1="292.6" x2="277.4" y2="292.6" stroke="#000" stroke-width="1.1" />
<line x1="272.2" y1="291.2" x2="272.2" y2="294" stroke="#000" stroke-width="1.1" />
<line x1="269.59999999999997" y1="291.2" x2="274.8" y2="291.2" stroke="#000" stroke-width="1.1" />
<line x1="269.59999999999997" y1="294" x2="274.8" y2="294" stroke="#000" stroke-width="1.1" />
<rect x="287.25" y="289.65" width="3.5" height="3.5"/>
<rect x="285.65" y="292.25" width="3.5" height="3.5"/>
<rect x="288.85" y="292.45" width="3.5" height="3.5"/>
<rect x="287.25" y="293.85" width="3.5" height="3.5"/>
<rect x="284.25" y="293.85" width="3.5" height="3.5"/>
<rect x="290.25" y="293.85" width="3.5" height="3.5"/>
<rect x="287.25" y="294.85" width="3.5" height="3.5"/>
<line x1="283.8" y1="295" x2="294.2" y2="295" stroke="#000" stroke-width="1.1" />
<line x1="289" y1="294" x2="289" y2="296" stroke="#000" stroke-width="1.1" />
<line x1="286.4" y1="294" x2="291.6" y2="294" stroke="#000" stroke-width="1.1" />
<line x1="286.4" y1="296" x2="291.6" y2="296" stroke="#000" stroke-width="1.1" />
<path d="M306.4 292.70000000000005L308.29999999999995 296.12L304.5 296.12Z"/>
<path d="M305 293.90000000000003L306.9 297.32L303.1 297.32Z"/>
<path d="M307.8 293.90000000000003L309.7 297.32L305.90000000000003 297.32Z"/>
<line x1="301.0" y1="295.6" x2="311.79999999999995" y2="295.6" stroke="#000" stroke-width="1.1" />
<line x1="306.4" y1="295" x2="306.4" y2="296.2" stroke="#000" stroke-width="1.1" />
<line x1="304.0" y1="295" x2="308.79999999999995" y2="295" stroke="#000" stroke-width="1.1" />
<line x1="304.0" y1="296.2" x2="308.79999999999995" y2="296.2" stroke="#000" stroke-width="1.1" />
<polyline points="338.8,247.6 359.6,247.6 359.6,262" fill="none" stroke="#000" stroke-width="1.1"/>
<text x="354.2" y="243.8" font-size="7.5" stroke="#000" stroke-width="0.3" font-weight="bold" text-anchor="middle" >*</text>
<circle cx="343" cy="260.2" r="1.85"/>
<circle cx="340.6" cy="262.8" r="1.85"/>
<circle cx="339" cy="275.4" r="1.85"/>
<circle cx="342.4" cy="276.2" r="1.85"/>
<circle cx="340.2" cy="278.6" r="1.85"/>
<circle cx="343.4" cy="281.4" r="1.85"/>
<circle cx="340.4" cy="284.8" r="1.85"/>
<line x1="334.4" y1="274.2" x2="346.4" y2="274.2" stroke="#000" stroke-width="1.1" />
<line x1="340.4" y1="271.2" x2="340.4" y2="277.2" stroke="#000" stroke-width="1.1" />
<line x1="337.2" y1="271.2" x2="343.59999999999997" y2="271.2" stroke="#000" stroke-width="1.1" />
<line x1="337.2" y1="277.2" x2="343.59999999999997" y2="277.2" stroke="#000" stroke-width="1.1" />
<rect x="355.45" y="272.05" width="3.5" height="3.5"/>
<rect x="355.85" y="277.85" width="3.5" height="3.5"/>
<rect x="354.25" y="281.85" width="3.5" height="3.5"/>
<rect x="357.25" y="282.85" width="3.5" height="3.5"/>
<rect x="353.65" y="286.25" width="3.5" height="3.5"/>
<rect x="357.05" y="286.85" width="3.5" height="3.5"/>
<rect x="355.25" y="289.65" width="3.5" height="3.5"/>
<rect x="355.45" y="292.65" width="3.5" height="3.5"/>
<line x1="351.4" y1="286.2" x2="363.4" y2="286.2" stroke="#000" stroke-width="1.1" />
<line x1="357.4" y1="283.2" x2="357.4" y2="289.2" stroke="#000" stroke-width="1.1" />
<line x1="354.2" y1="283.2" x2="360.59999999999997" y2="283.2" stroke="#000" stroke-width="1.1" />
<line x1="354.2" y1="289.2" x2="360.59999999999997" y2="289.2" stroke="#000" stroke-width="1.1" />
<path d="M374.2 280.3L376.5 284.44L371.9 284.44Z"/>
<path d="M371.6 282.7L373.90000000000003 286.84L369.3 286.84Z"/>
<path d="M376.8 282.7L379.1 286.84L374.5 286.84Z"/>
<path d="M374.2 283.7L376.5 287.84L371.9 287.84Z"/>
<path d="M374.4 286.3L376.7 290.44L372.09999999999997 290.44Z"/>
<line x1="368.8" y1="284.9" x2="379.59999999999997" y2="284.9" stroke="#000" stroke-width="1.1" />
<line x1="374.2" y1="283.2" x2="374.2" y2="286.6" stroke="#000" stroke-width="1.1" />
<line x1="371.4" y1="283.2" x2="377.0" y2="283.2" stroke="#000" stroke-width="1.1" />
<line x1="371.4" y1="286.6" x2="377.0" y2="286.6" stroke="#000" stroke-width="1.1" />
<polyline points="406.5,217 442.4,217 442.4,263.8" fill="none" stroke="#000" stroke-width="1.1"/>
<polyline points="404.6,232.9 425.7,232.9 425.7,258.8" fill="none" stroke="#000" stroke-width="1.1"/>
<text x="437.3" y="213.2" font-size="7.5" stroke="#000" stroke-width="0.3" font-weight="bold" text-anchor="middle" >*</text>
<text x="420.6" y="230.4" font-size="7.5" stroke="#000" stroke-width="0.3" font-weight="bold" text-anchor="middle" >**</text>
<circle cx="408.4" cy="242" r="1.85"/>
<circle cx="408.4" cy="253" r="1.85"/>
<circle cx="407.6" cy="260.6" r="1.85"/>
<circle cx="409.4" cy="265.6" r="1.85"/>
<circle cx="405.8" cy="269.6" r="1.85"/>
<circle cx="409.6" cy="268.4" r="1.85"/>
<circle cx="410.4" cy="272" r="1.85"/>
<circle cx="408.6" cy="274.6" r="1.85"/>
<line x1="402.8" y1="263.5" x2="414.40000000000003" y2="263.5" stroke="#000" stroke-width="1.1" />
<line x1="408.6" y1="260" x2="408.6" y2="267" stroke="#000" stroke-width="1.1" />
<line x1="405.6" y1="260" x2="411.6" y2="260" stroke="#000" stroke-width="1.1" />
<line x1="405.6" y1="267" x2="411.6" y2="267" stroke="#000" stroke-width="1.1" />
<rect x="423.65" y="268.45" width="3.5" height="3.5"/>
<rect x="421.25" y="274.85" width="3.5" height="3.5"/>
<rect x="425.85" y="275.05" width="3.5" height="3.5"/>
<rect x="420.85" y="278.25" width="3.5" height="3.5"/>
<rect x="423.65" y="277.85" width="3.5" height="3.5"/>
<rect x="426.45" y="278.65" width="3.5" height="3.5"/>
<rect x="422.25" y="280.65" width="3.5" height="3.5"/>
<rect x="423.65" y="285.85" width="3.5" height="3.5"/>
<line x1="420.0" y1="278.8" x2="431.20000000000005" y2="278.8" stroke="#000" stroke-width="1.1" />
<line x1="425.6" y1="277" x2="425.6" y2="280.6" stroke="#000" stroke-width="1.1" />
<line x1="422.6" y1="277" x2="428.6" y2="277" stroke="#000" stroke-width="1.1" />
<line x1="422.6" y1="280.6" x2="428.6" y2="280.6" stroke="#000" stroke-width="1.1" />
<path d="M442.4 271.09999999999997L444.7 275.23999999999995L440.09999999999997 275.23999999999995Z"/>
<path d="M440 274.3L442.3 278.44L437.7 278.44Z"/>
<path d="M444.8 274.3L447.1 278.44L442.5 278.44Z"/>
<path d="M442.4 275.3L444.7 279.44L440.09999999999997 279.44Z"/>
<path d="M442.6 277.7L444.90000000000003 281.84L440.3 281.84Z"/>
<line x1="437.2" y1="277" x2="447.59999999999997" y2="277" stroke="#000" stroke-width="1.1" />
<line x1="442.4" y1="275.4" x2="442.4" y2="278.6" stroke="#000" stroke-width="1.1" />
<line x1="439.59999999999997" y1="275.4" x2="445.2" y2="275.4" stroke="#000" stroke-width="1.1" />
<line x1="439.59999999999997" y1="278.6" x2="445.2" y2="278.6" stroke="#000" stroke-width="1.1" />
<polyline points="474.6,185.4 510.7,185.4 510.7,239.6" fill="none" stroke="#000" stroke-width="1.1"/>
<polyline points="468.8,198.3 496.4,198.3 496.4,225.2" fill="none" stroke="#000" stroke-width="1.1"/>
<text x="502" y="184" font-size="7.5" stroke="#000" stroke-width="0.3" font-weight="bold" text-anchor="middle" >*</text>
<text x="490.4" y="196.6" font-size="7.5" stroke="#000" stroke-width="0.3" font-weight="bold" text-anchor="middle" >*</text>
<circle cx="479.6" cy="208.8" r="1.85"/>
<circle cx="473.8" cy="214.2" r="1.85"/>
<circle cx="476.4" cy="214.2" r="1.85"/>
<circle cx="479.4" cy="227" r="1.85"/>
<circle cx="476.6" cy="231.4" r="1.85"/>
<circle cx="476.9" cy="262.6" r="1.85"/>
<circle cx="476.9" cy="272.7" r="1.85"/>
<line x1="471.6" y1="233.2" x2="482.4" y2="233.2" stroke="#000" stroke-width="1.1" />
<line x1="477" y1="223.6" x2="477" y2="242.4" stroke="#000" stroke-width="1.1" />
<line x1="474" y1="223.6" x2="480" y2="223.6" stroke="#000" stroke-width="1.1" />
<line x1="474" y1="242.4" x2="480" y2="242.4" stroke="#000" stroke-width="1.1" />
<rect x="489.05" y="244.25" width="3.5" height="3.5"/>
<rect x="494.85" y="246.45" width="3.5" height="3.5"/>
<rect x="491.95" y="249.25" width="3.5" height="3.5"/>
<rect x="492.05" y="270.95" width="3.5" height="3.5"/>
<rect x="494.95" y="274.75" width="3.5" height="3.5"/>
<rect x="492.05" y="278.65" width="3.5" height="3.5"/>
<line x1="488.2" y1="262.8" x2="499.8" y2="262.8" stroke="#000" stroke-width="1.1" />
<line x1="494" y1="256.8" x2="494" y2="268.8" stroke="#000" stroke-width="1.1" />
<line x1="491" y1="256.8" x2="497" y2="256.8" stroke="#000" stroke-width="1.1" />
<line x1="491" y1="268.8" x2="497" y2="268.8" stroke="#000" stroke-width="1.1" />
<path d="M510.6 247.7L512.9 251.84L508.3 251.84Z"/>
<path d="M511 265.2L513.3 269.34L508.7 269.34Z"/>
<path d="M511 268.09999999999997L513.3 272.23999999999995L508.7 272.23999999999995Z"/>
<path d="M511 271.7L513.3 275.84L508.7 275.84Z"/>
<line x1="505.4" y1="264.6" x2="516.6" y2="264.6" stroke="#000" stroke-width="1.1" />
<line x1="511" y1="259.8" x2="511" y2="269.4" stroke="#000" stroke-width="1.1" />
<line x1="508" y1="259.8" x2="514" y2="259.8" stroke="#000" stroke-width="1.1" />
<line x1="508" y1="269.4" x2="514" y2="269.4" stroke="#000" stroke-width="1.1" />
</svg>
</body></html>
